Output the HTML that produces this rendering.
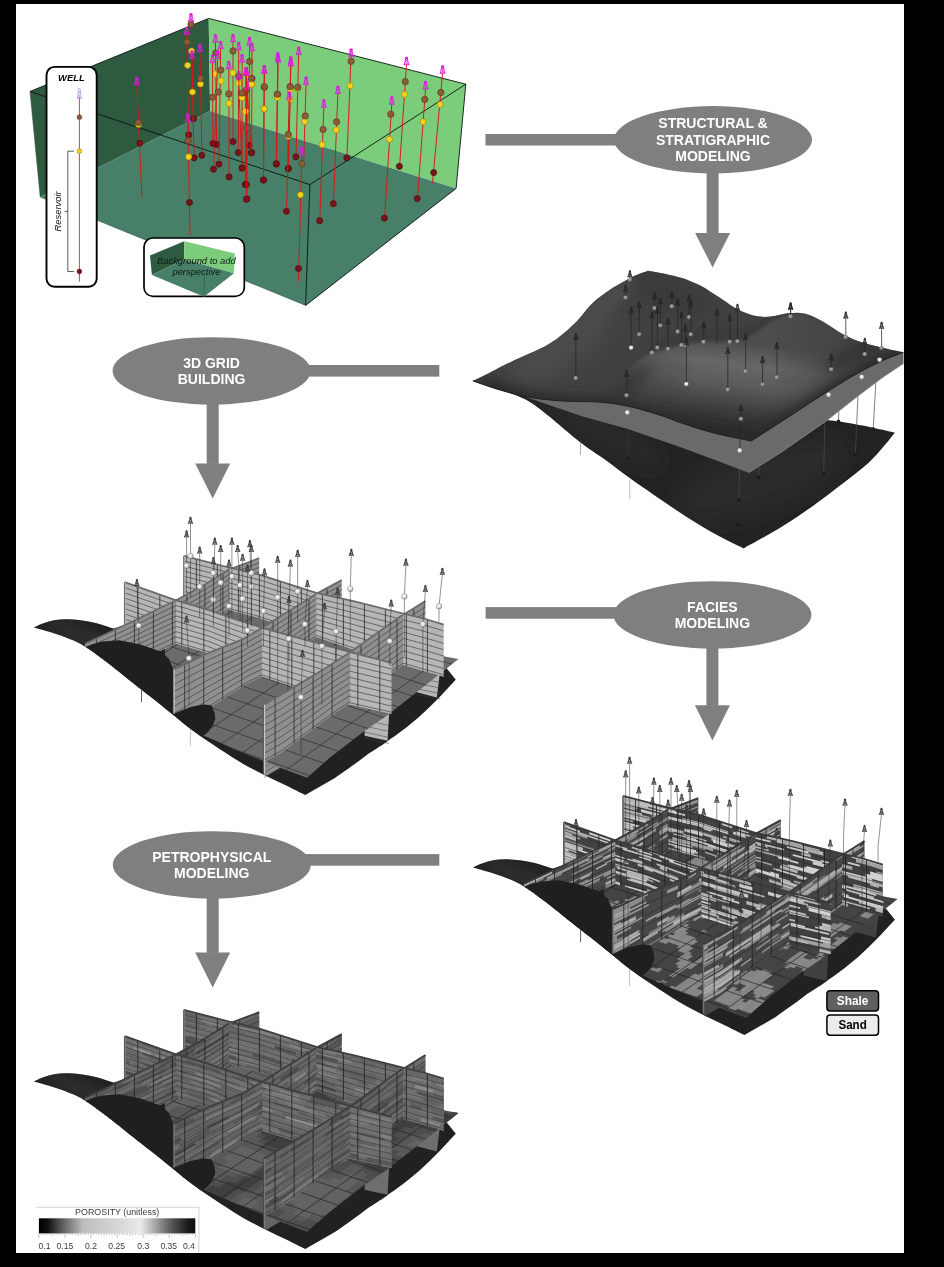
<!DOCTYPE html>
<html><head><meta charset="utf-8"><title>Reservoir modeling workflow</title>
<style>
html,body{margin:0;padding:0;background:#000;}
body{width:944px;height:1267px;overflow:hidden;font-family:"Liberation Sans",sans-serif;}
svg{display:block;will-change:transform;}
</style></head><body>
<svg width="944" height="1267" viewBox="0 0 944 1267" font-family="Liberation Sans, sans-serif">
<rect x="0" y="0" width="944" height="1267" fill="#000"/>
<defs><clipPath id="page"><rect x="16" y="4" width="888" height="1249"/></clipPath></defs>
<rect x="16" y="4" width="888" height="1249" fill="#fff"/>
<g clip-path="url(#page)">
<g id="greenbox">
<polygon points="30.0,91.5 208.7,18.4 210.1,111.1 40.2,197.0" fill="#2e5b40"/>
<polygon points="208.7,18.4 465.8,84.2 456.1,188.4 210.1,111.1" fill="#7bcd7b"/>
<polygon points="210.1,111.1 456.1,188.4 305.6,305.4 40.2,197.0" fill="#477f69"/>
<g fill="none" stroke="#0a140e" stroke-width="0.9" stroke-linejoin="round">
<polyline points="30.0,91.5 208.7,18.4 465.8,84.2 456.1,188.4 305.6,305.4"/>
<polyline points="30.0,91.5 309.9,184.6 465.8,84.2"/>
<polyline points="309.9,184.6 305.6,305.4"/>
<polyline points="305.6,305.4 40.2,197.0 30.0,91.5" stroke-width="0.5" stroke="#2a4a3a"/>
</g>
<defs><g id="dk"><path d="M-0.7,-3.4 L-2.2,3.4 M0.7,-3.4 L2.2,3.4 M-2.5,3.4 H2.5 M-1.9,3.4 L1.3,0 L-1.1,-1.8 M1.9,3.4 L-1.3,0 L1.1,-1.8 M-1.2,-3.6 H1.2" stroke-width="0.85" fill="none" stroke-linecap="round" stroke-linejoin="round"/><circle cx="0" cy="-3.1" r="0.9"/></g></defs>
<line x1="191.0" y1="20.6" x2="193.5" y2="122.2" stroke="#dc1414" stroke-width="0.95"/>
<circle cx="193.5" cy="118.7" r="3.1" fill="#7a1418" stroke="#3c080a" stroke-width="0.5"/>
<circle cx="191.6" cy="51.0" r="3.1" fill="#f2d21c" stroke="#8a7008" stroke-width="0.5"/>
<circle cx="191.0" cy="24.3" r="3.2" fill="#8d5a3a" stroke="#4a2c18" stroke-width="0.5"/>
<use href="#dk" x="191.0" y="17.6" stroke="#e018e0" fill="#e018e0"/>
<line x1="186.6" y1="34.0" x2="188.7" y2="138.4" stroke="#dc1414" stroke-width="0.95"/>
<circle cx="188.7" cy="134.9" r="3.1" fill="#7a1418" stroke="#3c080a" stroke-width="0.5"/>
<circle cx="187.6" cy="65.3" r="3.1" fill="#f2d21c" stroke="#8a7008" stroke-width="0.5"/>
<circle cx="187.2" cy="42.0" r="3.2" fill="#8d5a3a" stroke="#4a2c18" stroke-width="0.5"/>
<use href="#dk" x="186.6" y="31.0" stroke="#e018e0" fill="#e018e0"/>
<line x1="200.0" y1="51.1" x2="201.9" y2="158.8" stroke="#dc1414" stroke-width="0.95"/>
<circle cx="201.9" cy="155.3" r="3.1" fill="#7a1418" stroke="#3c080a" stroke-width="0.5"/>
<circle cx="200.5" cy="84.0" r="3.1" fill="#f2d21c" stroke="#8a7008" stroke-width="0.5"/>
<circle cx="200.5" cy="78.6" r="3.2" fill="#8d5a3a" stroke="#4a2c18" stroke-width="0.5"/>
<use href="#dk" x="200.0" y="48.1" stroke="#e018e0" fill="#e018e0"/>
<line x1="192.0" y1="57.8" x2="194.2" y2="161.3" stroke="#dc1414" stroke-width="0.95"/>
<circle cx="194.2" cy="157.8" r="3.1" fill="#7a1418" stroke="#3c080a" stroke-width="0.5"/>
<circle cx="192.5" cy="92.0" r="3.1" fill="#f2d21c" stroke="#8a7008" stroke-width="0.5"/>
<use href="#dk" x="192.0" y="54.8" stroke="#e018e0" fill="#e018e0"/>
<line x1="215.4" y1="41.6" x2="216.7" y2="147.9" stroke="#dc1414" stroke-width="0.95"/>
<circle cx="216.7" cy="144.4" r="3.1" fill="#7a1418" stroke="#3c080a" stroke-width="0.5"/>
<circle cx="215.4" cy="73.9" r="3.1" fill="#f2d21c" stroke="#8a7008" stroke-width="0.5"/>
<circle cx="215.8" cy="52.9" r="3.2" fill="#8d5a3a" stroke="#4a2c18" stroke-width="0.5"/>
<use href="#dk" x="215.4" y="38.6" stroke="#e018e0" fill="#e018e0"/>
<line x1="220.6" y1="48.3" x2="219.0" y2="167.6" stroke="#dc1414" stroke-width="0.95"/>
<circle cx="219.0" cy="164.1" r="3.1" fill="#7a1418" stroke="#3c080a" stroke-width="0.5"/>
<circle cx="221.1" cy="80.9" r="3.1" fill="#f2d21c" stroke="#8a7008" stroke-width="0.5"/>
<circle cx="220.9" cy="70.1" r="3.2" fill="#8d5a3a" stroke="#4a2c18" stroke-width="0.5"/>
<use href="#dk" x="220.6" y="45.3" stroke="#e018e0" fill="#e018e0"/>
<line x1="217.7" y1="57.8" x2="213.5" y2="172.7" stroke="#dc1414" stroke-width="0.95"/>
<circle cx="213.5" cy="169.2" r="3.1" fill="#7a1418" stroke="#3c080a" stroke-width="0.5"/>
<circle cx="218.3" cy="92.0" r="3.2" fill="#8d5a3a" stroke="#4a2c18" stroke-width="0.5"/>
<use href="#dk" x="217.7" y="54.8" stroke="#e018e0" fill="#e018e0"/>
<line x1="212.5" y1="62.2" x2="212.9" y2="147.0" stroke="#dc1414" stroke-width="0.95"/>
<circle cx="212.9" cy="143.5" r="3.1" fill="#7a1418" stroke="#3c080a" stroke-width="0.5"/>
<circle cx="212.5" cy="97.3" r="3.2" fill="#8d5a3a" stroke="#4a2c18" stroke-width="0.5"/>
<use href="#dk" x="212.5" y="59.2" stroke="#e018e0" fill="#e018e0"/>
<line x1="233.0" y1="41.2" x2="233.0" y2="145.1" stroke="#dc1414" stroke-width="0.95"/>
<circle cx="233.0" cy="141.6" r="3.1" fill="#7a1418" stroke="#3c080a" stroke-width="0.5"/>
<circle cx="233.0" cy="72.9" r="3.1" fill="#f2d21c" stroke="#8a7008" stroke-width="0.5"/>
<circle cx="233.0" cy="51.0" r="3.2" fill="#8d5a3a" stroke="#4a2c18" stroke-width="0.5"/>
<use href="#dk" x="233.0" y="38.2" stroke="#e018e0" fill="#e018e0"/>
<line x1="238.7" y1="49.2" x2="238.3" y2="156.1" stroke="#dc1414" stroke-width="0.95"/>
<circle cx="238.3" cy="152.6" r="3.1" fill="#7a1418" stroke="#3c080a" stroke-width="0.5"/>
<circle cx="238.7" cy="83.4" r="3.1" fill="#f2d21c" stroke="#8a7008" stroke-width="0.5"/>
<circle cx="238.7" cy="76.4" r="3.2" fill="#8d5a3a" stroke="#4a2c18" stroke-width="0.5"/>
<use href="#dk" x="238.7" y="46.2" stroke="#e018e0" fill="#e018e0"/>
<line x1="228.8" y1="68.3" x2="229.1" y2="180.4" stroke="#dc1414" stroke-width="0.95"/>
<circle cx="229.1" cy="176.9" r="3.1" fill="#7a1418" stroke="#3c080a" stroke-width="0.5"/>
<circle cx="229.1" cy="103.4" r="3.1" fill="#f2d21c" stroke="#8a7008" stroke-width="0.5"/>
<circle cx="228.8" cy="93.9" r="3.2" fill="#8d5a3a" stroke="#4a2c18" stroke-width="0.5"/>
<use href="#dk" x="228.8" y="65.3" stroke="#e018e0" fill="#e018e0"/>
<line x1="242.1" y1="61.6" x2="242.1" y2="171.4" stroke="#dc1414" stroke-width="0.95"/>
<circle cx="242.1" cy="167.9" r="3.1" fill="#7a1418" stroke="#3c080a" stroke-width="0.5"/>
<circle cx="242.5" cy="97.7" r="3.1" fill="#f2d21c" stroke="#8a7008" stroke-width="0.5"/>
<circle cx="242.1" cy="95.4" r="3.2" fill="#8d5a3a" stroke="#4a2c18" stroke-width="0.5"/>
<use href="#dk" x="242.1" y="58.6" stroke="#e018e0" fill="#e018e0"/>
<line x1="249.5" y1="44.5" x2="249.2" y2="148.9" stroke="#dc1414" stroke-width="0.95"/>
<circle cx="249.2" cy="145.4" r="3.1" fill="#7a1418" stroke="#3c080a" stroke-width="0.5"/>
<circle cx="249.2" cy="76.7" r="3.1" fill="#f2d21c" stroke="#8a7008" stroke-width="0.5"/>
<circle cx="249.5" cy="61.5" r="3.2" fill="#8d5a3a" stroke="#4a2c18" stroke-width="0.5"/>
<use href="#dk" x="249.5" y="41.5" stroke="#e018e0" fill="#e018e0"/>
<line x1="252.0" y1="50.2" x2="251.6" y2="156.1" stroke="#dc1414" stroke-width="0.95"/>
<circle cx="251.6" cy="152.6" r="3.1" fill="#7a1418" stroke="#3c080a" stroke-width="0.5"/>
<circle cx="252.0" cy="84.4" r="3.1" fill="#f2d21c" stroke="#8a7008" stroke-width="0.5"/>
<circle cx="252.0" cy="78.6" r="3.2" fill="#8d5a3a" stroke="#4a2c18" stroke-width="0.5"/>
<use href="#dk" x="252.0" y="47.2" stroke="#e018e0" fill="#e018e0"/>
<line x1="245.9" y1="75.0" x2="245.3" y2="188.0" stroke="#dc1414" stroke-width="0.95"/>
<circle cx="245.3" cy="184.5" r="3.1" fill="#7a1418" stroke="#3c080a" stroke-width="0.5"/>
<circle cx="245.9" cy="111.4" r="3.1" fill="#f2d21c" stroke="#8a7008" stroke-width="0.5"/>
<circle cx="246.3" cy="90.1" r="3.2" fill="#8d5a3a" stroke="#4a2c18" stroke-width="0.5"/>
<use href="#dk" x="245.9" y="72.0" stroke="#e018e0" fill="#e018e0"/>
<line x1="247.3" y1="88.3" x2="246.9" y2="202.3" stroke="#dc1414" stroke-width="0.95"/>
<circle cx="246.9" cy="198.8" r="3.1" fill="#7a1418" stroke="#3c080a" stroke-width="0.5"/>
<circle cx="247.3" cy="128.2" r="3.2" fill="#8d5a3a" stroke="#4a2c18" stroke-width="0.5"/>
<use href="#dk" x="247.3" y="85.3" stroke="#e018e0" fill="#e018e0"/>
<line x1="264.4" y1="72.5" x2="263.5" y2="183.6" stroke="#dc1414" stroke-width="0.95"/>
<circle cx="263.5" cy="180.1" r="3.1" fill="#7a1418" stroke="#3c080a" stroke-width="0.5"/>
<circle cx="264.0" cy="108.8" r="3.1" fill="#f2d21c" stroke="#8a7008" stroke-width="0.5"/>
<circle cx="264.4" cy="87.2" r="3.2" fill="#8d5a3a" stroke="#4a2c18" stroke-width="0.5"/>
<use href="#dk" x="264.4" y="69.5" stroke="#e018e0" fill="#e018e0"/>
<line x1="277.8" y1="59.7" x2="276.2" y2="167.6" stroke="#dc1414" stroke-width="0.95"/>
<circle cx="276.2" cy="164.1" r="3.1" fill="#7a1418" stroke="#3c080a" stroke-width="0.5"/>
<circle cx="277.4" cy="96.8" r="3.1" fill="#f2d21c" stroke="#8a7008" stroke-width="0.5"/>
<circle cx="277.4" cy="94.5" r="3.2" fill="#8d5a3a" stroke="#4a2c18" stroke-width="0.5"/>
<use href="#dk" x="277.8" y="56.7" stroke="#e018e0" fill="#e018e0"/>
<line x1="290.7" y1="63.5" x2="288.3" y2="171.8" stroke="#dc1414" stroke-width="0.95"/>
<circle cx="288.3" cy="168.3" r="3.1" fill="#7a1418" stroke="#3c080a" stroke-width="0.5"/>
<circle cx="290.2" cy="99.6" r="3.1" fill="#f2d21c" stroke="#8a7008" stroke-width="0.5"/>
<circle cx="290.2" cy="86.8" r="3.2" fill="#8d5a3a" stroke="#4a2c18" stroke-width="0.5"/>
<use href="#dk" x="290.7" y="60.5" stroke="#e018e0" fill="#e018e0"/>
<line x1="298.7" y1="54.0" x2="295.9" y2="160.3" stroke="#dc1414" stroke-width="0.95"/>
<circle cx="295.9" cy="156.8" r="3.1" fill="#7a1418" stroke="#3c080a" stroke-width="0.5"/>
<circle cx="297.8" cy="88.6" r="3.1" fill="#f2d21c" stroke="#8a7008" stroke-width="0.5"/>
<circle cx="297.8" cy="87.2" r="3.2" fill="#8d5a3a" stroke="#4a2c18" stroke-width="0.5"/>
<use href="#dk" x="298.7" y="51.0" stroke="#e018e0" fill="#e018e0"/>
<line x1="136.8" y1="84.4" x2="141.9" y2="197.0" stroke="#dc1414" stroke-width="0.95"/>
<circle cx="139.8" cy="143.2" r="3.1" fill="#7a1418" stroke="#3c080a" stroke-width="0.5"/>
<circle cx="138.5" cy="124.5" r="3.1" fill="#f2d21c" stroke="#8a7008" stroke-width="0.5"/>
<circle cx="138.5" cy="122.5" r="3.2" fill="#8d5a3a" stroke="#4a2c18" stroke-width="0.5"/>
<use href="#dk" x="136.8" y="81.4" stroke="#e018e0" fill="#e018e0"/>
<line x1="187.8" y1="120.7" x2="190.0" y2="235.0" stroke="#dc1414" stroke-width="0.95"/>
<circle cx="189.5" cy="202.5" r="3.1" fill="#7a1418" stroke="#3c080a" stroke-width="0.5"/>
<circle cx="188.7" cy="156.8" r="3.1" fill="#f2d21c" stroke="#8a7008" stroke-width="0.5"/>
<circle cx="188.1" cy="140.6" r="3.2" fill="#8d5a3a" stroke="#4a2c18" stroke-width="0.5"/>
<use href="#dk" x="187.8" y="117.7" stroke="#e018e0" fill="#e018e0"/>
<line x1="264.2" y1="72.7" x2="263.4" y2="183.5" stroke="#dc1414" stroke-width="0.95"/>
<circle cx="263.4" cy="180.0" r="3.1" fill="#7a1418" stroke="#3c080a" stroke-width="0.5"/>
<circle cx="264.2" cy="108.8" r="3.1" fill="#f2d21c" stroke="#8a7008" stroke-width="0.5"/>
<circle cx="264.2" cy="86.7" r="3.2" fill="#8d5a3a" stroke="#4a2c18" stroke-width="0.5"/>
<use href="#dk" x="264.2" y="69.7" stroke="#e018e0" fill="#e018e0"/>
<line x1="278.1" y1="61.7" x2="276.4" y2="167.2" stroke="#dc1414" stroke-width="0.95"/>
<circle cx="276.4" cy="163.7" r="3.1" fill="#7a1418" stroke="#3c080a" stroke-width="0.5"/>
<circle cx="277.4" cy="97.4" r="3.1" fill="#f2d21c" stroke="#8a7008" stroke-width="0.5"/>
<circle cx="277.4" cy="94.3" r="3.2" fill="#8d5a3a" stroke="#4a2c18" stroke-width="0.5"/>
<use href="#dk" x="278.1" y="58.7" stroke="#e018e0" fill="#e018e0"/>
<line x1="290.9" y1="65.5" x2="288.3" y2="172.3" stroke="#dc1414" stroke-width="0.95"/>
<circle cx="288.3" cy="168.8" r="3.1" fill="#7a1418" stroke="#3c080a" stroke-width="0.5"/>
<circle cx="290.1" cy="90.0" r="3.1" fill="#f2d21c" stroke="#8a7008" stroke-width="0.5"/>
<circle cx="290.1" cy="86.7" r="3.2" fill="#8d5a3a" stroke="#4a2c18" stroke-width="0.5"/>
<use href="#dk" x="290.9" y="62.5" stroke="#e018e0" fill="#e018e0"/>
<line x1="306.1" y1="83.8" x2="303.6" y2="163.0" stroke="#dc1414" stroke-width="0.95"/>
<circle cx="304.8" cy="121.5" r="3.1" fill="#f2d21c" stroke="#8a7008" stroke-width="0.5"/>
<circle cx="305.3" cy="115.9" r="3.2" fill="#8d5a3a" stroke="#4a2c18" stroke-width="0.5"/>
<use href="#dk" x="306.1" y="80.8" stroke="#e018e0" fill="#e018e0"/>
<line x1="289.1" y1="98.6" x2="286.5" y2="214.8" stroke="#dc1414" stroke-width="0.95"/>
<circle cx="286.5" cy="211.3" r="3.1" fill="#7a1418" stroke="#3c080a" stroke-width="0.5"/>
<circle cx="288.3" cy="136.3" r="3.1" fill="#f2d21c" stroke="#8a7008" stroke-width="0.5"/>
<circle cx="288.3" cy="134.5" r="3.2" fill="#8d5a3a" stroke="#4a2c18" stroke-width="0.5"/>
<use href="#dk" x="289.1" y="95.6" stroke="#e018e0" fill="#e018e0"/>
<line x1="323.9" y1="106.7" x2="319.6" y2="224.2" stroke="#dc1414" stroke-width="0.95"/>
<circle cx="319.6" cy="220.7" r="3.1" fill="#7a1418" stroke="#3c080a" stroke-width="0.5"/>
<circle cx="322.1" cy="144.7" r="3.1" fill="#f2d21c" stroke="#8a7008" stroke-width="0.5"/>
<circle cx="323.1" cy="129.4" r="3.2" fill="#8d5a3a" stroke="#4a2c18" stroke-width="0.5"/>
<use href="#dk" x="323.9" y="103.7" stroke="#e018e0" fill="#e018e0"/>
<line x1="337.9" y1="93.0" x2="333.3" y2="207.2" stroke="#dc1414" stroke-width="0.95"/>
<circle cx="333.3" cy="203.7" r="3.1" fill="#7a1418" stroke="#3c080a" stroke-width="0.5"/>
<circle cx="336.1" cy="129.9" r="3.1" fill="#f2d21c" stroke="#8a7008" stroke-width="0.5"/>
<circle cx="336.6" cy="121.8" r="3.2" fill="#8d5a3a" stroke="#4a2c18" stroke-width="0.5"/>
<use href="#dk" x="337.9" y="90.0" stroke="#e018e0" fill="#e018e0"/>
<line x1="351.1" y1="55.9" x2="346.8" y2="161.4" stroke="#dc1414" stroke-width="0.95"/>
<circle cx="346.8" cy="157.9" r="3.1" fill="#7a1418" stroke="#3c080a" stroke-width="0.5"/>
<circle cx="350.1" cy="85.9" r="3.1" fill="#f2d21c" stroke="#8a7008" stroke-width="0.5"/>
<circle cx="351.1" cy="61.3" r="3.2" fill="#8d5a3a" stroke="#4a2c18" stroke-width="0.5"/>
<use href="#dk" x="351.1" y="52.9" stroke="#e018e0" fill="#e018e0"/>
<line x1="301.8" y1="154.5" x2="298.5" y2="281.2" stroke="#dc1414" stroke-width="0.95"/>
<circle cx="298.5" cy="268.5" r="3.1" fill="#7a1418" stroke="#3c080a" stroke-width="0.5"/>
<circle cx="300.5" cy="194.8" r="3.1" fill="#f2d21c" stroke="#8a7008" stroke-width="0.5"/>
<circle cx="301.8" cy="163.7" r="3.2" fill="#8d5a3a" stroke="#4a2c18" stroke-width="0.5"/>
<use href="#dk" x="301.8" y="151.5" stroke="#e018e0" fill="#e018e0"/>
<line x1="391.8" y1="103.7" x2="384.4" y2="221.6" stroke="#dc1414" stroke-width="0.95"/>
<circle cx="384.4" cy="218.1" r="3.1" fill="#7a1418" stroke="#3c080a" stroke-width="0.5"/>
<circle cx="389.5" cy="139.3" r="3.1" fill="#f2d21c" stroke="#8a7008" stroke-width="0.5"/>
<circle cx="390.8" cy="114.2" r="3.2" fill="#8d5a3a" stroke="#4a2c18" stroke-width="0.5"/>
<use href="#dk" x="391.8" y="100.7" stroke="#e018e0" fill="#e018e0"/>
<line x1="406.5" y1="64.3" x2="399.4" y2="169.8" stroke="#dc1414" stroke-width="0.95"/>
<circle cx="399.4" cy="166.3" r="3.1" fill="#7a1418" stroke="#3c080a" stroke-width="0.5"/>
<circle cx="404.5" cy="94.3" r="3.1" fill="#f2d21c" stroke="#8a7008" stroke-width="0.5"/>
<circle cx="405.3" cy="81.6" r="3.2" fill="#8d5a3a" stroke="#4a2c18" stroke-width="0.5"/>
<use href="#dk" x="406.5" y="61.3" stroke="#e018e0" fill="#e018e0"/>
<line x1="425.6" y1="88.4" x2="417.2" y2="202.1" stroke="#dc1414" stroke-width="0.95"/>
<circle cx="417.2" cy="198.6" r="3.1" fill="#7a1418" stroke="#3c080a" stroke-width="0.5"/>
<circle cx="423.1" cy="121.8" r="3.1" fill="#f2d21c" stroke="#8a7008" stroke-width="0.5"/>
<circle cx="424.8" cy="99.4" r="3.2" fill="#8d5a3a" stroke="#4a2c18" stroke-width="0.5"/>
<use href="#dk" x="425.6" y="85.4" stroke="#e018e0" fill="#e018e0"/>
<line x1="442.6" y1="72.7" x2="432.5" y2="183.3" stroke="#dc1414" stroke-width="0.95"/>
<circle cx="433.7" cy="172.6" r="3.1" fill="#7a1418" stroke="#3c080a" stroke-width="0.5"/>
<circle cx="440.1" cy="104.5" r="3.1" fill="#f2d21c" stroke="#8a7008" stroke-width="0.5"/>
<circle cx="440.9" cy="92.5" r="3.2" fill="#8d5a3a" stroke="#4a2c18" stroke-width="0.5"/>
<use href="#dk" x="442.6" y="69.7" stroke="#e018e0" fill="#e018e0"/>
<line x1="246.4" y1="74.4" x2="251.4" y2="156.3" stroke="#dc1414" stroke-width="0.95"/>
<circle cx="251.4" cy="152.8" r="3.1" fill="#7a1418" stroke="#3c080a" stroke-width="0.5"/>
<circle cx="251.4" cy="84.2" r="3.1" fill="#f2d21c" stroke="#8a7008" stroke-width="0.5"/>
<circle cx="251.4" cy="78.3" r="3.2" fill="#8d5a3a" stroke="#4a2c18" stroke-width="0.5"/>
<use href="#dk" x="246.4" y="71.4" stroke="#e018e0" fill="#e018e0"/>
<line x1="247.1" y1="88.4" x2="246.4" y2="188.1" stroke="#dc1414" stroke-width="0.95"/>
<circle cx="246.4" cy="184.6" r="3.1" fill="#7a1418" stroke="#3c080a" stroke-width="0.5"/>
<circle cx="245.6" cy="111.4" r="3.1" fill="#f2d21c" stroke="#8a7008" stroke-width="0.5"/>
<circle cx="247.1" cy="128.1" r="3.2" fill="#8d5a3a" stroke="#4a2c18" stroke-width="0.5"/>
<use href="#dk" x="247.1" y="85.4" stroke="#e018e0" fill="#e018e0"/>
<line x1="238.7" y1="78.3" x2="242.0" y2="171.6" stroke="#dc1414" stroke-width="0.95"/>
<circle cx="242.0" cy="168.1" r="3.1" fill="#7a1418" stroke="#3c080a" stroke-width="0.5"/>
<circle cx="242.0" cy="97.6" r="3.1" fill="#f2d21c" stroke="#8a7008" stroke-width="0.5"/>
<circle cx="242.0" cy="93.1" r="3.2" fill="#8d5a3a" stroke="#4a2c18" stroke-width="0.5"/>
<use href="#dk" x="238.7" y="75.3" stroke="#e018e0" fill="#e018e0"/>
<line x1="246.4" y1="74.4" x2="246.4" y2="202.8" stroke="#dc1414" stroke-width="0.95"/>
<circle cx="246.4" cy="199.3" r="3.1" fill="#7a1418" stroke="#3c080a" stroke-width="0.5"/>
<use href="#dk" x="246.4" y="71.4" stroke="#e018e0" fill="#e018e0"/>
</g>
<rect x="46.5" y="66.9" width="50.2" height="219.8" rx="8" ry="8" fill="#fff" stroke="#000" stroke-width="1.9"/>
<text x="71.4" y="80.6" text-anchor="middle" font-weight="700" font-style="italic" font-size="9.4" fill="#000">WELL</text>
<line x1="79.4" y1="97" x2="79.4" y2="281.6" stroke="#c04858" stroke-width="1"/>
<g transform="translate(79.4 93.6) scale(0.95 1.4)"><path d="M-0.7,-3.4 L-2.2,3.4 M0.7,-3.4 L2.2,3.4 M-2.5,3.4 H2.5 M-1.9,3.4 L1.3,0 L-1.1,-1.8 M1.9,3.4 L-1.3,0 L1.1,-1.8 M-1.2,-3.6 H1.2" stroke="#a88aee" stroke-width="0.55" fill="none"/></g>
<circle cx="79.4" cy="117.2" r="2.4" fill="#8d5a3a" stroke="#4a2c18" stroke-width="0.5"/>
<circle cx="79.4" cy="151.2" r="2.4" fill="#f2d21c" stroke="#8a7008" stroke-width="0.5"/>
<circle cx="79.4" cy="271.5" r="2.4" fill="#7a1418" stroke="#3c080a" stroke-width="0.5"/>
<path d="M74,151.2 H67.8 V271.5 H74 M67.8,211.4 H64.6" fill="none" stroke="#333" stroke-width="0.8"/>
<text transform="translate(61.3 211.4) rotate(-90)" text-anchor="middle" font-style="italic" font-size="9.4" fill="#111">Reservoir</text>
<rect x="144" y="238" width="100.3" height="58.4" rx="9" ry="9" fill="#fff" stroke="#000" stroke-width="1.7"/>
<polygon points="150.0,255.4 184.3,241.2 184.3,259.2 151.9,275.1" fill="#2e5b40"/>
<polygon points="184.3,241.2 234.9,253.5 233.9,273.2 184.3,259.2" fill="#7bcd7b"/>
<polygon points="151.9,275.1 184.3,259.2 233.9,273.2 204.0,296.7" fill="#477f69"/>
<line x1="204.6" y1="274.5" x2="204.0" y2="296.1" stroke="#2c5a44" stroke-width="0.6"/>
<text x="196.4" y="263.7" text-anchor="middle" font-style="italic" font-size="9.4" fill="#0c1a12">Background to add</text>
<text x="196.4" y="274.6" text-anchor="middle" font-style="italic" font-size="9.4" fill="#0c1a12">perspective</text>
<defs>
<clipPath id="topclip"><path d="M472.7,381.0 C475.6,379.6 483.6,375.7 490.0,372.5 C496.4,369.3 501.0,366.6 510.8,361.9 C520.6,357.1 538.4,350.4 549.0,344.0 C559.6,337.6 567.2,330.5 574.4,323.7 C581.6,316.9 585.9,309.3 592.2,303.4 C598.6,297.5 605.7,292.6 612.5,288.1 C619.3,283.7 627.0,279.6 632.9,276.7 C638.8,273.8 645.6,271.8 648.1,270.8 L663.4,273.4 C666.4,274.1 675.1,275.8 681.2,277.8 C687.4,279.8 693.7,282.2 700.3,285.6 C706.9,289.0 714.3,294.3 720.7,298.3 C727.1,302.3 732.6,306.8 738.5,309.8 C744.4,312.8 750.8,315.0 756.3,316.1 C761.8,317.2 766.0,317.1 771.5,316.6 C777.0,316.1 783.8,313.6 789.3,313.1 C794.8,312.6 799.1,312.2 804.6,313.6 C810.1,315.0 816.0,317.8 822.4,321.2 C828.8,324.6 835.9,330.3 842.7,333.9 C849.5,337.5 856.3,340.5 863.1,342.8 C869.9,345.1 876.7,346.3 883.4,347.9 C890.1,349.5 899.9,351.5 903.2,352.2 L903.2,352.4 C899.9,353.7 890.9,356.9 883.4,360.3 C875.9,363.7 866.5,368.3 858.0,373.0 C849.5,377.7 841.1,383.0 832.6,388.3 C824.1,393.6 815.6,399.3 807.1,404.8 C798.6,410.3 791.0,415.4 781.7,421.4 C772.4,427.4 756.3,437.7 751.2,441.0 L748.6,440.4 C742.7,439.1 724.4,435.8 713.0,432.8 C701.6,429.8 688.3,425.4 680.0,422.6 C671.7,419.9 671.2,418.8 663.4,416.3 C655.5,413.8 643.1,409.7 632.9,407.4 C622.7,405.1 614.3,403.4 602.4,402.3 C590.5,401.2 574.0,401.9 561.7,401.0 C549.4,400.1 538.9,399.0 528.6,397.2 C518.3,395.4 509.3,392.7 500.0,390.0 C490.7,387.3 477.2,382.4 472.7,380.9Z"/></clipPath>
<clipPath id="botclip"><path d="M472.7,380.7 C477.4,382.2 491.8,386.4 500.7,389.6 C509.6,392.8 518.1,395.4 526.1,399.8 C534.1,404.2 540.1,409.3 549.0,416.3 C557.9,423.3 570.2,434.5 579.5,441.7 C588.8,448.9 596.4,453.4 604.9,459.5 C613.4,465.6 622.3,472.8 630.4,478.6 C638.5,484.4 644.9,488.9 653.2,494.5 C661.5,500.1 670.5,506.3 680.0,512.5 C689.5,518.7 699.9,525.5 710.5,531.5 C721.1,537.5 738.1,545.6 743.6,548.4 L743.6,548.4 C750.0,544.8 770.3,533.8 781.7,526.8 C793.1,519.8 802.0,513.6 812.2,506.4 C822.4,499.2 833.4,490.8 842.7,483.6 C852.0,476.4 861.2,469.5 868.1,463.2 C875.0,456.9 879.5,451.1 884.0,446.0 C888.5,440.9 893.0,434.9 894.8,432.7 L894.8,432.7 C891.2,431.9 881.5,429.4 873.2,427.7 C865.0,426.0 852.9,423.9 845.3,422.6 C837.7,421.3 830.5,420.5 827.5,420.1 L700.0,395.0 Z"/></clipPath>
<filter id="bl6" x="-50%" y="-50%" width="200%" height="200%"><feGaussianBlur stdDeviation="6"/></filter>
<filter id="bl10" x="-50%" y="-50%" width="200%" height="200%"><feGaussianBlur stdDeviation="10"/></filter>
<filter id="bl3" x="-50%" y="-50%" width="200%" height="200%"><feGaussianBlur stdDeviation="3"/></filter>
<filter id="bl15" x="-50%" y="-50%" width="200%" height="200%"><feGaussianBlur stdDeviation="1.5"/></filter>
<radialGradient id="sph" cx="0.4" cy="0.35" r="0.7"><stop offset="0" stop-color="#fff"/><stop offset="0.6" stop-color="#d8d8d8"/><stop offset="1" stop-color="#888"/></radialGradient>
<radialGradient id="sphg" cx="0.4" cy="0.35" r="0.7"><stop offset="0" stop-color="#b0b0b0"/><stop offset="0.7" stop-color="#7c7c7c"/><stop offset="1" stop-color="#4a4a4a"/></radialGradient>
</defs>
<g id="surf">
<path d="M472.7,380.7 C477.4,382.2 491.8,386.4 500.7,389.6 C509.6,392.8 518.1,395.4 526.1,399.8 C534.1,404.2 540.1,409.3 549.0,416.3 C557.9,423.3 570.2,434.5 579.5,441.7 C588.8,448.9 596.4,453.4 604.9,459.5 C613.4,465.6 622.3,472.8 630.4,478.6 C638.5,484.4 644.9,488.9 653.2,494.5 C661.5,500.1 670.5,506.3 680.0,512.5 C689.5,518.7 699.9,525.5 710.5,531.5 C721.1,537.5 738.1,545.6 743.6,548.4 L743.6,548.4 C750.0,544.8 770.3,533.8 781.7,526.8 C793.1,519.8 802.0,513.6 812.2,506.4 C822.4,499.2 833.4,490.8 842.7,483.6 C852.0,476.4 861.2,469.5 868.1,463.2 C875.0,456.9 879.5,451.1 884.0,446.0 C888.5,440.9 893.0,434.9 894.8,432.7 L894.8,432.7 C891.2,431.9 881.5,429.4 873.2,427.7 C865.0,426.0 852.9,423.9 845.3,422.6 C837.7,421.3 830.5,420.5 827.5,420.1 L700.0,395.0 Z" fill="#232323"/>
<g clip-path="url(#botclip)">
<ellipse cx="760" cy="480" rx="90" ry="30" fill="#2c2c2c" filter="url(#bl10)" transform="rotate(-20 760 480)"/>
<ellipse cx="600" cy="430" rx="70" ry="14" fill="#292929" filter="url(#bl10)" transform="rotate(30 600 430)"/>
</g>
<line x1="739.8" y1="451.9" x2="739.0" y2="499.9" stroke="#4a4a4a" stroke-width="0.7"/>
<circle cx="739.0" cy="499.9" r="1.8" fill="#1a1a1a"/>
<line x1="824.9" y1="418.8" x2="823.7" y2="473.5" stroke="#4a4a4a" stroke-width="0.7"/>
<circle cx="823.7" cy="473.5" r="1.8" fill="#1a1a1a"/>
<line x1="858.0" y1="394.7" x2="855.4" y2="454.4" stroke="#4a4a4a" stroke-width="0.7"/>
<circle cx="855.4" cy="454.4" r="1.8" fill="#1a1a1a"/>
<line x1="875.8" y1="383.2" x2="873.2" y2="429.0" stroke="#4a4a4a" stroke-width="0.7"/>
<circle cx="873.2" cy="429.0" r="1.8" fill="#1a1a1a"/>
<line x1="838.9" y1="411.2" x2="838.4" y2="421.4" stroke="#4a4a4a" stroke-width="0.7"/>
<circle cx="838.4" cy="421.4" r="1.8" fill="#1a1a1a"/>
<line x1="758.8" y1="467.1" x2="758.8" y2="477.3" stroke="#4a4a4a" stroke-width="0.7"/>
<circle cx="758.8" cy="477.3" r="1.8" fill="#1a1a1a"/>
<line x1="628" y1="430" x2="628.5" y2="458" stroke="#3a3a3a" stroke-width="0.7"/>
<circle cx="628.5" cy="458.5" r="2" fill="#1b1b1b"/><circle cx="738" cy="524.5" r="2" fill="#1a1a1a"/>
<line x1="580.5" y1="443" x2="580.5" y2="455" stroke="#999" stroke-width="0.8"/>
<line x1="629.8" y1="479" x2="629.8" y2="499" stroke="#bbb" stroke-width="0.9"/>
<polygon points="500.0,389.0 528.6,398.0 582.0,416.3 627.8,429.0 680.0,447.0 715.0,460.0 748.6,472.7 781.7,451.9 827.5,420.1 858.0,396.0 883.4,376.9 903.5,363.6 903.5,352.0 700.0,400.0" fill="#6a6a6a"/>
<polyline points="748.6,472.7 781.7,451.9 827.5,420.1 858.0,396.0 883.4,376.9 903.5,363.6" fill="none" stroke="#8a8a8a" stroke-width="0.8"/>
<path d="M472.7,381.0 C475.6,379.6 483.6,375.7 490.0,372.5 C496.4,369.3 501.0,366.6 510.8,361.9 C520.6,357.1 538.4,350.4 549.0,344.0 C559.6,337.6 567.2,330.5 574.4,323.7 C581.6,316.9 585.9,309.3 592.2,303.4 C598.6,297.5 605.7,292.6 612.5,288.1 C619.3,283.7 627.0,279.6 632.9,276.7 C638.8,273.8 645.6,271.8 648.1,270.8 L663.4,273.4 C666.4,274.1 675.1,275.8 681.2,277.8 C687.4,279.8 693.7,282.2 700.3,285.6 C706.9,289.0 714.3,294.3 720.7,298.3 C727.1,302.3 732.6,306.8 738.5,309.8 C744.4,312.8 750.8,315.0 756.3,316.1 C761.8,317.2 766.0,317.1 771.5,316.6 C777.0,316.1 783.8,313.6 789.3,313.1 C794.8,312.6 799.1,312.2 804.6,313.6 C810.1,315.0 816.0,317.8 822.4,321.2 C828.8,324.6 835.9,330.3 842.7,333.9 C849.5,337.5 856.3,340.5 863.1,342.8 C869.9,345.1 876.7,346.3 883.4,347.9 C890.1,349.5 899.9,351.5 903.2,352.2 L903.2,352.4 C899.9,353.7 890.9,356.9 883.4,360.3 C875.9,363.7 866.5,368.3 858.0,373.0 C849.5,377.7 841.1,383.0 832.6,388.3 C824.1,393.6 815.6,399.3 807.1,404.8 C798.6,410.3 791.0,415.4 781.7,421.4 C772.4,427.4 756.3,437.7 751.2,441.0 L748.6,440.4 C742.7,439.1 724.4,435.8 713.0,432.8 C701.6,429.8 688.3,425.4 680.0,422.6 C671.7,419.9 671.2,418.8 663.4,416.3 C655.5,413.8 643.1,409.7 632.9,407.4 C622.7,405.1 614.3,403.4 602.4,402.3 C590.5,401.2 574.0,401.9 561.7,401.0 C549.4,400.1 538.9,399.0 528.6,397.2 C518.3,395.4 509.3,392.7 500.0,390.0 C490.7,387.3 477.2,382.4 472.7,380.9Z" fill="#414141"/>
<g clip-path="url(#topclip)">
<ellipse cx="560" cy="345" rx="60" ry="22" fill="#4b4b4b" filter="url(#bl10)" transform="rotate(-35 560 345)"/>
<ellipse cx="665" cy="292" rx="50" ry="18" fill="#3b3b3b" filter="url(#bl10)" transform="rotate(20 665 292)"/>
<ellipse cx="610" cy="300" rx="30" ry="8" fill="#4e4e4e" filter="url(#bl6)" transform="rotate(-38 610 300)"/>
<path d="M655,345 C680,336 700,334 730,334 S760,320 790,312" fill="none" stroke="#3a3a3a" stroke-width="10" filter="url(#bl3)"/>
<defs><linearGradient id="litg" gradientUnits="userSpaceOnUse" x1="700" y1="338" x2="690" y2="425"><stop offset="0" stop-color="#4e4e4e"/><stop offset="0.25" stop-color="#676767"/><stop offset="0.5" stop-color="#5a5a5a"/><stop offset="0.8" stop-color="#3a3a3a"/><stop offset="1" stop-color="#2b2b2b"/></linearGradient><linearGradient id="fadeh" gradientUnits="userSpaceOnUse" x1="600" y1="0" x2="880" y2="0"><stop offset="0" stop-color="#000"/><stop offset="0.18" stop-color="#999"/><stop offset="0.35" stop-color="#fff"/><stop offset="0.6" stop-color="#fff"/><stop offset="0.8" stop-color="#777"/><stop offset="1" stop-color="#000"/></linearGradient><mask id="litm"><rect x="590" y="300" width="300" height="160" fill="url(#fadeh)"/></mask></defs>
<g mask="url(#litm)"><polygon points="618.0,380.0 624.8,371.9 636.3,361.7 649.0,354.6 666.8,349.0 682.0,345.2 702.4,341.9 722.7,341.9 738.0,341.2 753.2,335.0 771.0,321.5 783.7,315.6 800.0,313.5 822.0,321.0 845.0,335.0 860.0,372.0 782.0,424.0 751.2,444.0 713.0,436.0 663.0,420.0 633.0,411.0 600.0,404.0" fill="url(#litg)" filter="url(#bl15)"/></g>
<ellipse cx="628" cy="385" rx="26" ry="7" fill="#363636" filter="url(#bl6)" transform="rotate(-40 628 385)" opacity="0.8"/>
<polyline points="480.0,384.0 528.6,399.0 561.7,403.0 602.4,405.0 632.9,410.0 663.4,419.0 713.0,436.0 751.0,444.0 782.0,424.0 832.0,391.0 883.0,362.0 906.0,352.0" fill="none" stroke="#2b2b2b" stroke-width="16" filter="url(#bl6)"/>
<ellipse cx="860" cy="352" rx="40" ry="9" fill="#363636" filter="url(#bl6)" transform="rotate(-25 860 352)"/>
</g>
<path d="M903.2,352.4 C899.9,353.7 890.9,356.9 883.4,360.3 C875.9,363.7 866.5,368.3 858.0,373.0 C849.5,377.7 841.1,383.0 832.6,388.3 C824.1,393.6 815.6,399.3 807.1,404.8 C798.6,410.3 791.0,415.4 781.7,421.4 C772.4,427.4 756.3,437.7 751.2,441.0 L748.6,440.4 C742.7,439.1 724.4,435.8 713.0,432.8 C701.6,429.8 688.3,425.4 680.0,422.6 C671.7,419.9 671.2,418.8 663.4,416.3 C655.5,413.8 643.1,409.7 632.9,407.4 C622.7,405.1 614.3,403.4 602.4,402.3 C590.5,401.2 574.0,401.9 561.7,401.0 C549.4,400.1 538.9,399.0 528.6,397.2 C518.3,395.4 509.3,392.7 500.0,390.0 C490.7,387.3 477.2,382.4 472.7,380.9" fill="none" stroke="#1c1c1c" stroke-width="0.9"/>
<defs><g id="dk2"><path d="M-0.5,-2 L-1.9,2.6 M0.5,-2 L1.9,2.6 M-2.2,2.7 H2.2 M-1.7,2.6 L1.1,0 L-0.8,-1.4 M1.7,2.6 L-1.1,0 L0.8,-1.4 M-1.3,0.9 H1.3" stroke-width="0.75" fill="none" stroke-linecap="round"/><circle cx="0" cy="-2.7" r="1.1" stroke="none"/></g></defs>
<line x1="629.9" y1="276.0" x2="629.9" y2="279.8" stroke="#262626" stroke-width="0.75"/>
<circle cx="629.9" cy="279.8" r="2.2" fill="url(#sphg)"/>
<use href="#dk2" x="629.9" y="274.0" stroke="#262626" fill="#262626"/>
<line x1="625.6" y1="290.5" x2="625.6" y2="297.6" stroke="#262626" stroke-width="0.75"/>
<circle cx="625.6" cy="297.6" r="2.2" fill="url(#sphg)"/>
<use href="#dk2" x="625.6" y="288.5" stroke="#262626" fill="#262626"/>
<line x1="575.8" y1="338.8" x2="575.8" y2="378.2" stroke="#262626" stroke-width="0.75"/>
<circle cx="575.8" cy="378.2" r="2.2" fill="url(#sphg)"/>
<use href="#dk2" x="575.8" y="336.8" stroke="#262626" fill="#262626"/>
<line x1="631.2" y1="312.1" x2="631.2" y2="347.7" stroke="#262626" stroke-width="0.75"/>
<circle cx="631.2" cy="347.7" r="2.2" fill="url(#sph)"/>
<use href="#dk2" x="631.2" y="310.1" stroke="#262626" fill="#262626"/>
<line x1="639.3" y1="307.0" x2="639.3" y2="334.5" stroke="#262626" stroke-width="0.75"/>
<circle cx="639.3" cy="334.5" r="2.2" fill="url(#sphg)"/>
<use href="#dk2" x="639.3" y="305.0" stroke="#262626" fill="#262626"/>
<line x1="654.6" y1="298.1" x2="654.6" y2="308.3" stroke="#262626" stroke-width="0.75"/>
<circle cx="654.6" cy="308.3" r="2.2" fill="url(#sphg)"/>
<use href="#dk2" x="654.6" y="296.1" stroke="#262626" fill="#262626"/>
<line x1="660.4" y1="303.2" x2="660.4" y2="325.6" stroke="#262626" stroke-width="0.75"/>
<circle cx="660.4" cy="325.6" r="2.2" fill="url(#sphg)"/>
<use href="#dk2" x="660.4" y="301.2" stroke="#262626" fill="#262626"/>
<line x1="652.0" y1="317.2" x2="652.0" y2="352.8" stroke="#262626" stroke-width="0.75"/>
<circle cx="652.0" cy="352.8" r="2.2" fill="url(#sphg)"/>
<use href="#dk2" x="652.0" y="315.2" stroke="#262626" fill="#262626"/>
<line x1="657.4" y1="312.1" x2="657.4" y2="347.7" stroke="#262626" stroke-width="0.75"/>
<circle cx="657.4" cy="347.7" r="2.2" fill="url(#sphg)"/>
<use href="#dk2" x="657.4" y="310.1" stroke="#262626" fill="#262626"/>
<line x1="668.1" y1="323.5" x2="668.1" y2="349.0" stroke="#262626" stroke-width="0.75"/>
<circle cx="668.1" cy="349.0" r="2.2" fill="url(#sphg)"/>
<use href="#dk2" x="668.1" y="321.5" stroke="#262626" fill="#262626"/>
<line x1="671.9" y1="296.8" x2="671.9" y2="306.5" stroke="#262626" stroke-width="0.75"/>
<circle cx="671.9" cy="306.5" r="2.2" fill="url(#sphg)"/>
<use href="#dk2" x="671.9" y="294.8" stroke="#262626" fill="#262626"/>
<line x1="677.7" y1="304.5" x2="677.7" y2="331.7" stroke="#262626" stroke-width="0.75"/>
<circle cx="677.7" cy="331.7" r="2.2" fill="url(#sphg)"/>
<use href="#dk2" x="677.7" y="302.5" stroke="#262626" fill="#262626"/>
<line x1="681.5" y1="317.2" x2="681.5" y2="345.2" stroke="#262626" stroke-width="0.75"/>
<circle cx="681.5" cy="345.2" r="2.2" fill="url(#sphg)"/>
<use href="#dk2" x="681.5" y="315.2" stroke="#262626" fill="#262626"/>
<line x1="689.2" y1="300.6" x2="689.2" y2="317.2" stroke="#262626" stroke-width="0.75"/>
<circle cx="689.2" cy="317.2" r="2.2" fill="url(#sphg)"/>
<use href="#dk2" x="689.2" y="298.6" stroke="#262626" fill="#262626"/>
<line x1="690.9" y1="305.7" x2="690.9" y2="334.5" stroke="#262626" stroke-width="0.75"/>
<circle cx="690.9" cy="334.5" r="2.2" fill="url(#sphg)"/>
<use href="#dk2" x="690.9" y="303.7" stroke="#262626" fill="#262626"/>
<line x1="685.3" y1="329.9" x2="685.3" y2="345.2" stroke="#262626" stroke-width="0.75"/>
<circle cx="685.3" cy="345.2" r="2.2" fill="url(#sphg)"/>
<use href="#dk2" x="685.3" y="327.9" stroke="#262626" fill="#262626"/>
<line x1="686.4" y1="343.9" x2="686.4" y2="384.1" stroke="#262626" stroke-width="0.75"/>
<circle cx="686.4" cy="384.1" r="2.2" fill="url(#sph)"/>
<use href="#dk2" x="686.4" y="341.9" stroke="#262626" fill="#262626"/>
<line x1="703.7" y1="327.3" x2="703.7" y2="341.9" stroke="#262626" stroke-width="0.75"/>
<circle cx="703.7" cy="341.9" r="2.2" fill="url(#sphg)"/>
<use href="#dk2" x="703.7" y="325.3" stroke="#262626" fill="#262626"/>
<line x1="716.9" y1="314.6" x2="716.9" y2="343.9" stroke="#262626" stroke-width="0.75"/>
<use href="#dk2" x="716.9" y="312.6" stroke="#262626" fill="#262626"/>
<line x1="729.8" y1="319.7" x2="729.8" y2="341.9" stroke="#262626" stroke-width="0.75"/>
<circle cx="729.8" cy="341.9" r="2.2" fill="url(#sphg)"/>
<use href="#dk2" x="729.8" y="317.7" stroke="#262626" fill="#262626"/>
<line x1="737.5" y1="309.5" x2="737.5" y2="341.4" stroke="#262626" stroke-width="0.75"/>
<circle cx="737.5" cy="341.4" r="2.2" fill="url(#sphg)"/>
<use href="#dk2" x="737.5" y="307.5" stroke="#262626" fill="#262626"/>
<line x1="745.6" y1="338.8" x2="745.6" y2="371.4" stroke="#262626" stroke-width="0.75"/>
<circle cx="745.6" cy="371.4" r="2.2" fill="url(#sphg)"/>
<use href="#dk2" x="745.6" y="336.8" stroke="#262626" fill="#262626"/>
<line x1="727.8" y1="352.8" x2="727.8" y2="389.7" stroke="#262626" stroke-width="0.75"/>
<circle cx="727.8" cy="389.7" r="2.2" fill="url(#sphg)"/>
<use href="#dk2" x="727.8" y="350.8" stroke="#262626" fill="#262626"/>
<line x1="762.6" y1="361.7" x2="762.6" y2="384.6" stroke="#262626" stroke-width="0.75"/>
<circle cx="762.6" cy="384.6" r="2.2" fill="url(#sphg)"/>
<use href="#dk2" x="762.6" y="359.7" stroke="#262626" fill="#262626"/>
<line x1="776.9" y1="347.7" x2="776.9" y2="377.5" stroke="#262626" stroke-width="0.75"/>
<circle cx="776.9" cy="377.5" r="2.2" fill="url(#sphg)"/>
<use href="#dk2" x="776.9" y="345.7" stroke="#262626" fill="#262626"/>
<line x1="790.6" y1="308.3" x2="790.6" y2="316.4" stroke="#262626" stroke-width="0.75"/>
<circle cx="790.6" cy="316.4" r="2.2" fill="url(#sphg)"/>
<use href="#dk2" x="790.6" y="306.3" stroke="#262626" fill="#262626"/>
<line x1="626.6" y1="375.7" x2="626.6" y2="395.5" stroke="#262626" stroke-width="0.75"/>
<circle cx="626.6" cy="395.5" r="2.2" fill="url(#sphg)"/>
<use href="#dk2" x="626.6" y="373.7" stroke="#262626" fill="#262626"/>
<line x1="741.0" y1="410.0" x2="741.0" y2="418.9" stroke="#262626" stroke-width="0.75"/>
<circle cx="741.0" cy="418.9" r="2.2" fill="url(#sphg)"/>
<use href="#dk2" x="741.0" y="408.0" stroke="#262626" fill="#262626"/>
<line x1="790.6" y1="308.4" x2="790.6" y2="316.6" stroke="#262626" stroke-width="0.75"/>
<circle cx="790.6" cy="316.6" r="2.2" fill="url(#sphg)"/>
<use href="#dk2" x="790.6" y="306.4" stroke="#262626" fill="#262626"/>
<line x1="845.8" y1="317.3" x2="845.8" y2="337.2" stroke="#262626" stroke-width="0.75"/>
<circle cx="845.8" cy="337.2" r="2.2" fill="url(#sphg)"/>
<use href="#dk2" x="845.8" y="315.3" stroke="#262626" fill="#262626"/>
<line x1="881.6" y1="327.5" x2="881.6" y2="347.9" stroke="#262626" stroke-width="0.75"/>
<circle cx="881.6" cy="347.9" r="2.2" fill="url(#sphg)"/>
<use href="#dk2" x="881.6" y="325.5" stroke="#262626" fill="#262626"/>
<line x1="864.8" y1="343.5" x2="864.8" y2="354.2" stroke="#262626" stroke-width="0.75"/>
<circle cx="864.8" cy="354.2" r="2.2" fill="url(#sphg)"/>
<use href="#dk2" x="864.8" y="341.5" stroke="#262626" fill="#262626"/>
<line x1="831.3" y1="359.3" x2="831.3" y2="369.5" stroke="#262626" stroke-width="0.75"/>
<circle cx="831.3" cy="369.5" r="2.2" fill="url(#sphg)"/>
<use href="#dk2" x="831.3" y="357.3" stroke="#262626" fill="#262626"/>
<circle cx="861.8" cy="377.1" r="2.3" fill="url(#sph)"/>
<circle cx="828.7" cy="394.9" r="2.3" fill="url(#sph)"/>
<circle cx="879.6" cy="359.8" r="2.3" fill="url(#sph)"/>
<circle cx="627.4" cy="412.6" r="2.3" fill="url(#sph)"/>
<circle cx="739.8" cy="450.6" r="2.3" fill="url(#sph)"/>
<line x1="740.3" y1="422.6" x2="740.0" y2="448.1" stroke="#222" stroke-width="0.7"/>
</g>
<g transform="translate(0.0 0.0)">
<path d="M33.8,627.4 C37.4,628.5 47.5,631.0 55.4,633.7 C63.2,636.5 72.4,639.2 80.9,643.9 C89.4,648.6 97.8,655.4 106.3,661.7 C114.8,668.1 124.4,676.2 131.7,682.0 C139.0,687.8 143.4,691.1 150.0,696.3 C156.6,701.5 164.1,707.6 171.2,713.2 C178.3,718.9 185.3,724.9 192.4,730.2 C199.5,735.5 205.7,739.7 213.6,745.0 C221.5,750.3 231.7,757.0 240.0,762.0 C248.3,767.0 256.1,770.8 263.7,774.7 C271.3,778.6 278.7,781.9 285.6,785.3 C292.5,788.7 302.0,793.5 305.3,795.1 L334.9,778.1 C338.8,775.3 352.8,765.4 358.6,761.2 C364.5,757.0 365.3,756.0 370.0,752.8 C374.7,749.5 379.8,746.7 386.9,741.7 C394.0,736.7 404.3,729.4 412.4,722.6 C420.5,715.8 428.5,708.0 435.7,700.9 C442.9,693.8 452.4,683.2 455.8,679.7 L440,660 L200,600 L113.9,628.6 C112.6,628.2 109.7,627.2 106.3,626.2 C102.9,625.2 97.8,623.6 93.6,622.6 C89.4,621.6 85.2,620.9 80.9,620.3 C76.7,619.7 72.3,619.3 68.1,619.2 C63.8,619.1 59.6,619.2 55.4,619.9 C51.2,620.6 46.3,622.1 42.7,623.4 C39.1,624.6 35.3,626.7 33.8,627.4Z" fill="#212121"/>
<defs><clipPath id="bkgrid"><path d="M33.8,627.4 C37.4,628.5 47.5,631.0 55.4,633.7 C63.2,636.5 72.4,639.2 80.9,643.9 C89.4,648.6 97.8,655.4 106.3,661.7 C114.8,668.1 124.4,676.2 131.7,682.0 C139.0,687.8 143.4,691.1 150.0,696.3 C156.6,701.5 164.1,707.6 171.2,713.2 C178.3,718.9 185.3,724.9 192.4,730.2 C199.5,735.5 205.7,739.7 213.6,745.0 C221.5,750.3 231.7,757.0 240.0,762.0 C248.3,767.0 256.1,770.8 263.7,774.7 C271.3,778.6 278.7,781.9 285.6,785.3 C292.5,788.7 302.0,793.5 305.3,795.1 L334.9,778.1 C338.8,775.3 352.8,765.4 358.6,761.2 C364.5,757.0 365.3,756.0 370.0,752.8 C374.7,749.5 379.8,746.7 386.9,741.7 C394.0,736.7 404.3,729.4 412.4,722.6 C420.5,715.8 428.5,708.0 435.7,700.9 C442.9,693.8 452.4,683.2 455.8,679.7 L440,660 L200,600 L113.9,628.6 C112.6,628.2 109.7,627.2 106.3,626.2 C102.9,625.2 97.8,623.6 93.6,622.6 C89.4,621.6 85.2,620.9 80.9,620.3 C76.7,619.7 72.3,619.3 68.1,619.2 C63.8,619.1 59.6,619.2 55.4,619.9 C51.2,620.6 46.3,622.1 42.7,623.4 C39.1,624.6 35.3,626.7 33.8,627.4Z"/></clipPath><clipPath id="flgrid"><polygon points="458.5,659.1 439.7,674.1 387.1,715.6 363.5,731.7 330.0,757.5 307.0,777.8 281.4,768.3 234.7,749.2 213.6,739.7 199.0,733.8 190.0,700.0 165.0,660.0 165.0,640.0 190.0,598.0 440.7,655.8"/></clipPath></defs>
<g clip-path="url(#bkgrid)"><ellipse cx="90" cy="640" rx="50" ry="9" fill="#2e2e2e" filter="url(#bl6)" transform="rotate(24 90 640)"/></g>
<polygon points="263.7,750.0 263.7,774.7 267.0,775.5 283.0,766.0 283.0,750.0" fill="#8f8f8f"/>
<polygon points="364.6,725.0 364.6,735.8 387.5,740.8 389.2,713.0" fill="#b6b6b6"/>
<polygon points="415.0,680.0 416.0,692.0 436.8,697.5 440.0,672.0" fill="#b6b6b6"/>
<line x1="263.7" y1="762.2" x2="283" y2="751.2" stroke="#3c3c3c" stroke-width="0.5"/>
<line x1="364.6" y1="720.0" x2="389" y2="725.5" stroke="#3c3c3c" stroke-width="0.5"/>
<line x1="415" y1="677.5" x2="440" y2="682.5" stroke="#3c3c3c" stroke-width="0.5"/>
<line x1="263.7" y1="767.4" x2="283" y2="756.4" stroke="#3c3c3c" stroke-width="0.5"/>
<line x1="364.6" y1="726.0" x2="389" y2="731.5" stroke="#3c3c3c" stroke-width="0.5"/>
<line x1="415" y1="683.0" x2="440" y2="688.0" stroke="#3c3c3c" stroke-width="0.5"/>
<line x1="263.7" y1="772.6" x2="283" y2="761.6" stroke="#3c3c3c" stroke-width="0.5"/>
<line x1="364.6" y1="732.0" x2="389" y2="737.5" stroke="#3c3c3c" stroke-width="0.5"/>
<line x1="415" y1="688.5" x2="440" y2="693.5" stroke="#3c3c3c" stroke-width="0.5"/>
<line x1="263.7" y1="777.8" x2="283" y2="766.8" stroke="#3c3c3c" stroke-width="0.5"/>
<line x1="364.6" y1="738.0" x2="389" y2="743.5" stroke="#3c3c3c" stroke-width="0.5"/>
<line x1="415" y1="694.0" x2="440" y2="699.0" stroke="#3c3c3c" stroke-width="0.5"/>
<polygon points="458.5,659.1 439.7,674.1 387.1,715.6 363.5,731.7 330.0,757.5 307.0,777.8 281.4,768.3 234.7,749.2 213.6,739.7 199.0,733.8 190.0,700.0 165.0,660.0 165.0,640.0 190.0,598.0 440.7,655.8" fill="#6b6b6b"/>
<g clip-path="url(#flgrid)">
<path d="M323.1,780.3 L27.3,676.8 M339.0,768.5 L44.6,666.5 M354.8,756.9 L61.7,656.4 M370.2,745.5 L78.6,646.4 M385.4,734.3 L95.2,636.5 M400.4,723.2 L111.5,626.8 M415.1,712.4 L127.6,617.2 M429.6,701.7 L143.4,607.8 M443.9,691.1 L159.1,598.5 M457.9,680.8 L174.4,589.4 M471.8,670.5 L189.6,580.4 M485.4,660.5 L204.5,571.5 M303.4,782.2 L487.9,647.1 M280.3,774.1 L466.2,640.3 M257.4,766.1 L444.7,633.6 M234.7,758.1 L423.4,626.9 M212.2,750.2 L402.3,620.2 M190.0,742.3 L381.3,613.6 M167.9,734.6 L360.5,607.1 M146.0,726.9 L339.8,600.6 M124.3,719.3 L319.3,594.2 M102.7,711.7 L299.0,587.8 M81.4,704.2 L278.8,581.5 M60.3,696.7 L258.8,575.2 M39.3,689.4 L239.0,568.9" fill="none" stroke="#2e2e2e" stroke-width="0.7"/>
</g>
<defs><clipPath id="wcgrid"><path d="M0,480 L33.8,627.4 L33.8,627.4 C37.4,628.5 47.5,631.0 55.4,633.7 C63.2,636.5 72.4,639.2 80.9,643.9 C89.4,648.6 97.8,655.4 106.3,661.7 C114.8,668.1 124.4,676.2 131.7,682.0 C139.0,687.8 143.4,691.1 150.0,696.3 C156.6,701.5 164.1,707.6 171.2,713.2 C178.3,718.9 185.3,724.9 192.4,730.2 C199.5,735.5 205.7,739.7 213.6,745.0 C221.5,750.3 231.7,757.0 240.0,762.0 C248.3,767.0 256.1,770.8 263.7,774.7 C271.3,778.6 278.7,781.9 285.6,785.3 C292.5,788.7 302.0,793.5 305.3,795.1 L334.9,778.1 C338.8,775.3 352.8,765.4 358.6,761.2 C364.5,757.0 365.3,756.0 370.0,752.8 C374.7,749.5 379.8,746.7 386.9,741.7 C394.0,736.7 404.3,729.4 412.4,722.6 C420.5,715.8 428.5,708.0 435.7,700.9 C442.9,693.8 452.4,683.2 455.8,679.7 L476,660 L476,480 Z"/></clipPath></defs>
<g clip-path="url(#wcgrid)">
<polygon points="229.0,569.5 259.2,558.2 259.2,596.0 229.0,611.0" fill="#8f8f8f"/>
<path d="M229.0,574.5 L259.2,562.8 M229.0,579.5 L259.2,567.3 M229.0,584.5 L259.2,571.9 M229.0,589.5 L259.2,576.4 M229.0,594.5 L259.2,581.0 M229.0,599.5 L259.2,585.5 M229.0,604.5 L259.2,590.1 M229.0,609.5 L259.2,594.6" fill="none" stroke="#3c3c3c" stroke-width="0.65"/>
<path d="M239.8,565.5 V605.6" fill="none" stroke="#2a2a2a" stroke-width="0.8"/>
<polyline points="229.0,569.5 259.2,558.2" fill="none" stroke="#6a6a6a" stroke-width="1.8"/>
<polygon points="316.3,593.9 341.7,580.1 341.7,620.0 316.3,637.0" fill="#8f8f8f"/>
<path d="M316.3,599.1 L341.7,584.9 M316.3,604.3 L341.7,589.7 M316.3,609.5 L341.7,594.5 M316.3,614.7 L341.7,599.3 M316.3,619.9 L341.7,604.1 M316.3,625.1 L341.7,608.9 M316.3,630.2 L341.7,613.8 M316.3,635.4 L341.7,618.6" fill="none" stroke="#3c3c3c" stroke-width="0.65"/>
<path d="M327.1,588.0 V629.8" fill="none" stroke="#2a2a2a" stroke-width="0.8"/>
<polyline points="316.3,593.9 341.7,580.1" fill="none" stroke="#6a6a6a" stroke-width="1.8"/>
<polygon points="403.0,614.9 425.4,601.0 425.4,650.0 403.0,665.0" fill="#8f8f8f"/>
<path d="M403.0,620.9 L425.4,606.9 M403.0,626.9 L425.4,612.8 M403.0,633.0 L425.4,618.7 M403.0,639.0 L425.4,624.6 M403.0,645.1 L425.4,630.5 M403.0,651.1 L425.4,636.4 M403.0,657.1 L425.4,642.3 M403.0,663.2 L425.4,648.2" fill="none" stroke="#3c3c3c" stroke-width="0.65"/>
<path d="M413.8,608.2 V657.8" fill="none" stroke="#2a2a2a" stroke-width="0.8"/>
<polyline points="403.0,614.9 425.4,601.0" fill="none" stroke="#6a6a6a" stroke-width="1.8"/>
<polygon points="183.8,555.9 229.0,567.5 259.2,574.6 316.3,592.8 354.4,601.3 403.0,613.5 425.4,619.0 443.7,624.6 443.7,676.7 425.4,671.5 403.0,665.0 354.4,650.0 316.3,637.0 259.2,618.0 229.0,610.0 183.8,598.0" fill="#b6b6b6"/>
<path d="M183.8,561.0 L229.0,572.6 L259.2,579.8 L316.3,598.1 L354.4,607.2 L403.0,619.7 L425.4,625.3 L443.7,630.9 M183.8,566.0 L229.0,577.7 L259.2,585.1 L316.3,603.5 L354.4,613.0 L403.0,625.9 L425.4,631.7 L443.7,637.2 M183.8,571.1 L229.0,582.9 L259.2,590.3 L316.3,608.8 L354.4,618.9 L403.0,632.1 L425.4,638.0 L443.7,643.4 M183.8,576.2 L229.0,588.0 L259.2,595.5 L316.3,614.1 L354.4,624.8 L403.0,638.3 L425.4,644.3 L443.7,649.7 M183.8,581.3 L229.0,593.1 L259.2,600.7 L316.3,619.4 L354.4,630.6 L403.0,644.5 L425.4,650.6 L443.7,656.0 M183.8,586.3 L229.0,598.2 L259.2,606.0 L316.3,624.8 L354.4,636.5 L403.0,650.7 L425.4,657.0 L443.7,662.3 M183.8,591.4 L229.0,603.3 L259.2,611.2 L316.3,630.1 L354.4,642.4 L403.0,656.9 L425.4,663.3 L443.7,668.5 M183.8,596.5 L229.0,608.5 L259.2,616.4 L316.3,635.4 L354.4,648.2 L403.0,663.1 L425.4,669.6 L443.7,674.8" fill="none" stroke="#3c3c3c" stroke-width="0.65"/>
<path d="M196.4,559.1 V601.3 M217.4,564.5 V606.9 M238.4,569.7 V612.5 M259.4,574.7 V618.1 M280.4,581.4 V625.1 M301.4,588.1 V632.0 M322.4,594.2 V639.1 M343.4,598.8 V646.2 M364.4,603.8 V653.1 M385.4,609.1 V659.6 M406.4,614.3 V666.0 M427.4,619.6 V672.1" fill="none" stroke="#2a2a2a" stroke-width="0.8"/>
<polyline points="183.8,555.9 229.0,567.5 259.2,574.6 316.3,592.8 354.4,601.3 403.0,613.5 425.4,619.0 443.7,624.6" fill="none" stroke="#6a6a6a" stroke-width="1.8"/>
<line x1="184.4" y1="555.9" x2="184.4" y2="598.0" stroke="#aaa" stroke-width="1.6"/>
<line x1="183.6" y1="555.9" x2="183.6" y2="598.0" stroke="#333" stroke-width="0.6"/>
<polygon points="176.1,600.3 205.0,584.5 229.0,569.5 229.0,611.0 205.0,625.8 176.1,643.7" fill="#8f8f8f"/>
<path d="M176.1,605.5 L205.0,589.5 L229.0,574.5 M176.1,610.8 L205.0,594.5 L229.0,579.5 M176.1,616.0 L205.0,599.4 L229.0,584.5 M176.1,621.2 L205.0,604.4 L229.0,589.5 M176.1,626.4 L205.0,609.4 L229.0,594.5 M176.1,631.7 L205.0,614.4 L229.0,599.5 M176.1,636.9 L205.0,619.4 L229.0,604.5 M176.1,642.1 L205.0,624.3 L229.0,609.5" fill="none" stroke="#3c3c3c" stroke-width="0.65"/>
<path d="M186.9,594.4 V637.0 M204.9,584.6 V625.9 M222.9,573.3 V614.8" fill="none" stroke="#2a2a2a" stroke-width="0.8"/>
<polyline points="176.1,600.3 205.0,584.5 229.0,569.5" fill="none" stroke="#6a6a6a" stroke-width="1.8"/>
<polygon points="262.2,627.8 316.3,593.9 316.3,637.0 262.2,676.8" fill="#8f8f8f"/>
<path d="M262.2,633.7 L316.3,599.1 M262.2,639.6 L316.3,604.3 M262.2,645.5 L316.3,609.5 M262.2,651.4 L316.3,614.7 M262.2,657.3 L316.3,619.9 M262.2,663.2 L316.3,625.1 M262.2,669.1 L316.3,630.2 M262.2,675.0 L316.3,635.4" fill="none" stroke="#3c3c3c" stroke-width="0.65"/>
<path d="M273.0,621.0 V668.9 M291.0,609.8 V655.6 M309.0,598.5 V642.4" fill="none" stroke="#2a2a2a" stroke-width="0.8"/>
<polyline points="262.2,627.8 316.3,593.9" fill="none" stroke="#6a6a6a" stroke-width="1.8"/>
<polygon points="350.2,652.2 401.0,616.1 403.0,614.9 403.0,665.0 401.0,666.5 350.2,703.5" fill="#8f8f8f"/>
<path d="M350.2,658.4 L401.0,622.2 L403.0,620.9 M350.2,664.6 L401.0,628.2 L403.0,626.9 M350.2,670.7 L401.0,634.3 L403.0,633.0 M350.2,676.9 L401.0,640.4 L403.0,639.0 M350.2,683.1 L401.0,646.4 L403.0,645.1 M350.2,689.3 L401.0,652.5 L403.0,651.1 M350.2,695.5 L401.0,658.6 L403.0,657.1 M350.2,701.6 L401.0,664.6 L403.0,663.2" fill="none" stroke="#3c3c3c" stroke-width="0.65"/>
<path d="M361.0,644.5 V695.6 M379.0,631.7 V682.5 M397.0,618.9 V669.4" fill="none" stroke="#2a2a2a" stroke-width="0.8"/>
<polyline points="350.2,652.2 401.0,616.1 403.0,614.9" fill="none" stroke="#6a6a6a" stroke-width="1.8"/>
<polygon points="124.6,582.2 176.1,600.3 208.3,609.8 235.8,619.3 262.2,627.8 296.2,637.3 303.6,639.4 348.5,651.7 350.2,652.2 391.5,662.8 391.5,714.0 350.2,704.8 348.5,704.4 303.6,690.1 296.2,687.8 262.2,676.8 235.8,665.2 208.3,653.2 176.1,643.7 124.6,626.0" fill="#b6b6b6"/>
<path d="M124.6,587.5 L176.1,605.5 L208.3,615.0 L235.8,624.8 L262.2,633.7 L296.2,643.4 L303.6,645.5 L348.5,658.1 L350.2,658.5 L391.5,669.0 M124.6,592.8 L176.1,610.8 L208.3,620.3 L235.8,630.4 L262.2,639.6 L296.2,649.5 L303.6,651.6 L348.5,664.4 L350.2,664.9 L391.5,675.1 M124.6,598.0 L176.1,616.0 L208.3,625.5 L235.8,635.9 L262.2,645.5 L296.2,655.6 L303.6,657.7 L348.5,670.8 L350.2,671.2 L391.5,681.3 M124.6,603.3 L176.1,621.2 L208.3,630.7 L235.8,641.4 L262.2,651.4 L296.2,661.7 L303.6,663.9 L348.5,677.1 L350.2,677.5 L391.5,687.5 M124.6,608.6 L176.1,626.4 L208.3,635.9 L235.8,647.0 L262.2,657.3 L296.2,667.7 L303.6,670.0 L348.5,683.5 L350.2,683.9 L391.5,693.6 M124.6,613.9 L176.1,631.7 L208.3,641.2 L235.8,652.5 L262.2,663.2 L296.2,673.8 L303.6,676.1 L348.5,689.8 L350.2,690.2 L391.5,699.8 M124.6,619.1 L176.1,636.9 L208.3,646.4 L235.8,658.0 L262.2,669.1 L296.2,679.9 L303.6,682.2 L348.5,696.2 L350.2,696.5 L391.5,706.0 M124.6,624.4 L176.1,642.1 L208.3,651.6 L235.8,663.6 L262.2,675.0 L296.2,686.0 L303.6,688.3 L348.5,702.5 L350.2,702.9 L391.5,712.1" fill="none" stroke="#3c3c3c" stroke-width="0.65"/>
<path d="M137.8,586.8 V630.5 M159.8,594.6 V638.1 M181.8,602.0 V645.4 M203.8,608.5 V651.9 M225.8,615.8 V660.9 M247.8,623.2 V670.5 M269.8,629.9 V679.3 M291.8,636.1 V686.4 M313.8,642.2 V693.4 M335.8,648.2 V700.4 M357.8,654.2 V706.5 M379.8,659.8 V711.4" fill="none" stroke="#2a2a2a" stroke-width="0.8"/>
<polyline points="124.6,582.2 176.1,600.3 208.3,609.8 235.8,619.3 262.2,627.8 296.2,637.3 303.6,639.4 348.5,651.7 350.2,652.2 391.5,662.8" fill="none" stroke="#6a6a6a" stroke-width="1.8"/>
<line x1="125.2" y1="582.2" x2="125.2" y2="626.0" stroke="#aaa" stroke-width="1.6"/>
<line x1="124.4" y1="582.2" x2="124.4" y2="626.0" stroke="#333" stroke-width="0.6"/>
<polygon points="85.0,643.7 123.6,625.7 176.1,600.3 176.1,643.7 123.6,668.0 85.0,686.0" fill="#8f8f8f"/>
<path d="M85.0,648.8 L123.6,630.8 L176.1,605.5 M85.0,653.9 L123.6,635.9 L176.1,610.8 M85.0,659.0 L123.6,641.0 L176.1,616.0 M85.0,664.1 L123.6,646.1 L176.1,621.2 M85.0,669.2 L123.6,651.2 L176.1,626.4 M85.0,674.3 L123.6,656.3 L176.1,631.7 M85.0,679.4 L123.6,661.4 L176.1,636.9 M85.0,684.5 L123.6,666.5 L176.1,642.1" fill="none" stroke="#3c3c3c" stroke-width="0.65"/>
<path d="M96.4,638.4 V680.7 M115.4,629.5 V671.8 M134.4,620.5 V663.0 M153.4,611.3 V654.2 M172.4,602.1 V645.4" fill="none" stroke="#2a2a2a" stroke-width="0.8"/>
<polyline points="85.0,643.7 123.6,625.7 176.1,600.3" fill="none" stroke="#6a6a6a" stroke-width="1.8"/>
<polygon points="84.0,647.5 93.0,644.0 102.4,641.4 119.3,640.3 140.5,644.5 161.7,652.0 169.0,659.0 173.3,669.8 173.3,740.0 84.0,700.0" fill="#1f1f1f"/>
<polygon points="173.3,669.8 211.4,651.8 214.0,650.8 243.2,639.1 247.5,636.5 262.2,627.8 262.2,676.8 247.5,683.6 243.2,686.3 214.0,705.0 211.4,706.7 173.3,731.0" fill="#8f8f8f"/>
<path d="M173.3,677.2 L211.4,658.4 L214.0,657.3 L243.2,644.8 L247.5,642.2 L262.2,633.7 M173.3,684.5 L211.4,665.0 L214.0,663.8 L243.2,650.5 L247.5,647.9 L262.2,639.6 M173.3,691.9 L211.4,671.6 L214.0,670.4 L243.2,656.2 L247.5,653.6 L262.2,645.5 M173.3,699.3 L211.4,678.2 L214.0,676.9 L243.2,661.9 L247.5,659.2 L262.2,651.4 M173.3,706.7 L211.4,684.8 L214.0,683.4 L243.2,667.6 L247.5,664.9 L262.2,657.3 M173.3,714.0 L211.4,691.5 L214.0,690.0 L243.2,673.3 L247.5,670.6 L262.2,663.2 M173.3,721.4 L211.4,698.1 L214.0,696.5 L243.2,678.9 L247.5,676.2 L262.2,669.1 M173.3,728.8 L211.4,704.7 L214.0,703.0 L243.2,684.6 L247.5,681.9 L262.2,675.0" fill="none" stroke="#3c3c3c" stroke-width="0.65"/>
<path d="M184.7,664.4 V723.7 M203.7,655.4 V711.6 M222.7,647.3 V699.4 M241.7,639.7 V687.3" fill="none" stroke="#2a2a2a" stroke-width="0.8"/>
<polyline points="173.3,669.8 211.4,651.8 214.0,650.8 243.2,639.1 247.5,636.5 262.2,627.8" fill="none" stroke="#6a6a6a" stroke-width="1.8"/>
<line x1="173.9" y1="669.8" x2="173.9" y2="731.0" stroke="#c8c8c8" stroke-width="1.6"/>
<line x1="173.1" y1="669.8" x2="173.1" y2="731.0" stroke="#333" stroke-width="0.6"/>
<polygon points="172.5,714.3 190.3,706.9 203.0,704.5 211.4,705.3 214.6,712.7 215.3,719.1 212.7,725.4 208.3,731.8 203.8,735.6 198.0,737.5 198.0,760.0 172.5,740.0" fill="#1f1f1f"/>
<polygon points="263.7,704.8 281.5,694.4 298.3,684.6 317.1,673.3 319.5,671.9 334.1,662.5 350.2,652.2 350.2,703.5 334.1,713.7 319.5,724.6 317.1,726.4 298.3,740.3 281.5,752.7 263.7,762.5" fill="#8f8f8f"/>
<path d="M263.7,711.8 L281.5,701.4 L298.3,691.3 L317.1,679.7 L319.5,678.3 L334.1,668.7 L350.2,658.4 M263.7,718.7 L281.5,708.5 L298.3,698.0 L317.1,686.1 L319.5,684.6 L334.1,674.9 L350.2,664.6 M263.7,725.7 L281.5,715.5 L298.3,704.7 L317.1,692.5 L319.5,691.0 L334.1,681.0 L350.2,670.7 M263.7,732.6 L281.5,722.5 L298.3,711.4 L317.1,698.9 L319.5,697.3 L334.1,687.2 L350.2,676.9 M263.7,739.6 L281.5,729.5 L298.3,718.1 L317.1,705.3 L319.5,703.7 L334.1,693.4 L350.2,683.1 M263.7,746.5 L281.5,736.5 L298.3,724.9 L317.1,711.7 L319.5,710.0 L334.1,699.5 L350.2,689.3 M263.7,753.5 L281.5,743.6 L298.3,731.6 L317.1,718.1 L319.5,716.4 L334.1,705.7 L350.2,695.5 M263.7,760.4 L281.5,750.6 L298.3,738.3 L317.1,724.5 L319.5,722.7 L334.1,711.9 L350.2,701.6" fill="none" stroke="#3c3c3c" stroke-width="0.65"/>
<path d="M275.1,698.1 V756.2 M294.1,687.1 V743.4 M313.1,675.7 V729.4 M332.1,663.8 V715.2" fill="none" stroke="#2a2a2a" stroke-width="0.8"/>
<polyline points="263.7,704.8 281.5,694.4 298.3,684.6 317.1,673.3 319.5,671.9 334.1,662.5 350.2,652.2" fill="none" stroke="#6a6a6a" stroke-width="1.8"/>
<line x1="264.3" y1="704.8" x2="264.3" y2="773.2" stroke="#c8c8c8" stroke-width="1.6"/>
<line x1="263.5" y1="704.8" x2="263.5" y2="773.2" stroke="#333" stroke-width="0.6"/>
</g>
<polyline points="190.5,522.5 190.5,556.0 190.5,597.5" fill="none" stroke="#2a2a2a" stroke-width="0.5"/>
<circle cx="190.5" cy="556.0" r="2.8" fill="url(#sph)" stroke="#6a6a6a" stroke-width="0.4"/>
<use href="#dk2" x="190.5" y="520.5" stroke="#383838" fill="#333"/>
<polyline points="186.6,536.1 186.6,565.8 186.6,592.6" fill="none" stroke="#2a2a2a" stroke-width="0.5"/>
<circle cx="186.6" cy="565.8" r="2.8" fill="url(#sph)" stroke="#6a6a6a" stroke-width="0.4"/>
<use href="#dk2" x="186.6" y="534.1" stroke="#383838" fill="#333"/>
<polyline points="199.7,552.2 199.7,586.7 199.7,617.0" fill="none" stroke="#2a2a2a" stroke-width="0.5"/>
<circle cx="199.7" cy="586.7" r="2.8" fill="url(#sph)" stroke="#6a6a6a" stroke-width="0.4"/>
<use href="#dk2" x="199.7" y="550.2" stroke="#383838" fill="#333"/>
<polyline points="214.8,543.4 213.4,599.9 213.4,626.7" fill="none" stroke="#2a2a2a" stroke-width="0.5"/>
<circle cx="213.4" cy="599.9" r="2.8" fill="url(#sph)" stroke="#6a6a6a" stroke-width="0.4"/>
<use href="#dk2" x="214.8" y="541.4" stroke="#383838" fill="#333"/>
<polyline points="220.7,550.7 220.7,582.8 220.7,612.1" fill="none" stroke="#2a2a2a" stroke-width="0.5"/>
<circle cx="220.7" cy="582.8" r="2.8" fill="url(#sph)" stroke="#6a6a6a" stroke-width="0.4"/>
<use href="#dk2" x="220.7" y="548.7" stroke="#383838" fill="#333"/>
<polyline points="231.9,543.4 231.9,576.5 231.9,617.0" fill="none" stroke="#2a2a2a" stroke-width="0.5"/>
<circle cx="231.9" cy="576.5" r="2.8" fill="url(#sph)" stroke="#6a6a6a" stroke-width="0.4"/>
<use href="#dk2" x="231.9" y="541.4" stroke="#383838" fill="#333"/>
<polyline points="237.7,550.7 240.2,585.3 240.2,621.8" fill="none" stroke="#2a2a2a" stroke-width="0.5"/>
<circle cx="240.2" cy="585.3" r="2.8" fill="url(#sph)" stroke="#6a6a6a" stroke-width="0.4"/>
<use href="#dk2" x="237.7" y="548.7" stroke="#383838" fill="#333"/>
<polyline points="242.6,559.5 242.6,598.9 242.6,631.6" fill="none" stroke="#2a2a2a" stroke-width="0.5"/>
<circle cx="242.6" cy="598.9" r="2.8" fill="url(#sph)" stroke="#6a6a6a" stroke-width="0.4"/>
<use href="#dk2" x="242.6" y="557.5" stroke="#383838" fill="#333"/>
<polyline points="249.9,545.9 251.4,586.7 251.4,621.8" fill="none" stroke="#2a2a2a" stroke-width="0.5"/>
<circle cx="251.4" cy="586.7" r="2.8" fill="url(#sph)" stroke="#6a6a6a" stroke-width="0.4"/>
<use href="#dk2" x="249.9" y="543.9" stroke="#383838" fill="#333"/>
<polyline points="251.4,550.7 251.4,573.1 251.4,626.7" fill="none" stroke="#2a2a2a" stroke-width="0.5"/>
<circle cx="251.4" cy="573.1" r="2.8" fill="url(#sph)" stroke="#6a6a6a" stroke-width="0.4"/>
<use href="#dk2" x="251.4" y="548.7" stroke="#383838" fill="#333"/>
<polyline points="264.5,574.1 263.6,611.1 263.6,646.2" fill="none" stroke="#2a2a2a" stroke-width="0.5"/>
<circle cx="263.6" cy="611.1" r="2.8" fill="url(#sph)" stroke="#6a6a6a" stroke-width="0.4"/>
<use href="#dk2" x="264.5" y="572.1" stroke="#383838" fill="#333"/>
<polyline points="277.7,561.5 277.7,597.5 277.7,685.2" fill="none" stroke="#2a2a2a" stroke-width="0.5"/>
<circle cx="277.7" cy="597.5" r="2.8" fill="url(#sph)" stroke="#6a6a6a" stroke-width="0.4"/>
<use href="#dk2" x="277.7" y="559.5" stroke="#383838" fill="#333"/>
<polyline points="290.4,565.4 287.9,638.9 287.9,690.1" fill="none" stroke="#2a2a2a" stroke-width="0.5"/>
<circle cx="287.9" cy="638.9" r="2.8" fill="url(#sph)" stroke="#6a6a6a" stroke-width="0.4"/>
<use href="#dk2" x="290.4" y="563.4" stroke="#383838" fill="#333"/>
<polyline points="297.7,555.6 297.7,591.6 297.7,621.8" fill="none" stroke="#2a2a2a" stroke-width="0.5"/>
<circle cx="297.7" cy="591.6" r="2.8" fill="url(#sph)" stroke="#6a6a6a" stroke-width="0.4"/>
<use href="#dk2" x="297.7" y="553.6" stroke="#383838" fill="#333"/>
<polyline points="307.4,585.8 305.0,624.3 305.0,646.2" fill="none" stroke="#2a2a2a" stroke-width="0.5"/>
<circle cx="305.0" cy="624.3" r="2.8" fill="url(#sph)" stroke="#6a6a6a" stroke-width="0.4"/>
<use href="#dk2" x="307.4" y="583.8" stroke="#383838" fill="#333"/>
<polyline points="351.3,554.6 350.3,588.7 350.3,641.3" fill="none" stroke="#2a2a2a" stroke-width="0.5"/>
<circle cx="350.3" cy="588.7" r="2.8" fill="url(#sph)" stroke="#6a6a6a" stroke-width="0.4"/>
<use href="#dk2" x="351.3" y="552.6" stroke="#383838" fill="#333"/>
<polyline points="405.9,564.4 404.4,596.5 404.4,655.9" fill="none" stroke="#2a2a2a" stroke-width="0.5"/>
<circle cx="404.4" cy="596.5" r="2.8" fill="url(#sph)" stroke="#6a6a6a" stroke-width="0.4"/>
<use href="#dk2" x="405.9" y="562.4" stroke="#383838" fill="#333"/>
<polyline points="442.4,573.6 439.0,606.2 439.0,621.8" fill="none" stroke="#2a2a2a" stroke-width="0.5"/>
<circle cx="439.0" cy="606.2" r="2.8" fill="url(#sph)" stroke="#6a6a6a" stroke-width="0.4"/>
<use href="#dk2" x="442.4" y="571.6" stroke="#383838" fill="#333"/>
<polyline points="425.4,590.7 422.9,624.3 422.9,670.6" fill="none" stroke="#2a2a2a" stroke-width="0.5"/>
<circle cx="422.9" cy="624.3" r="2.8" fill="url(#sph)" stroke="#6a6a6a" stroke-width="0.4"/>
<use href="#dk2" x="425.4" y="588.7" stroke="#383838" fill="#333"/>
<polyline points="391.2,605.3 389.8,641.3 389.8,665.7" fill="none" stroke="#2a2a2a" stroke-width="0.5"/>
<circle cx="389.8" cy="641.3" r="2.8" fill="url(#sph)" stroke="#6a6a6a" stroke-width="0.4"/>
<use href="#dk2" x="391.2" y="603.3" stroke="#383838" fill="#333"/>
<polyline points="136.9,584.8 138.8,625.7 138.8,646.2" fill="none" stroke="#2a2a2a" stroke-width="0.5"/>
<circle cx="138.8" cy="625.7" r="2.8" fill="url(#sph)" stroke="#6a6a6a" stroke-width="0.4"/>
<use href="#dk2" x="136.9" y="582.8" stroke="#383838" fill="#333"/>
<polyline points="186.6,621.4 189.0,658.4 189.0,704.7" fill="none" stroke="#2a2a2a" stroke-width="0.5"/>
<circle cx="189.0" cy="658.4" r="2.8" fill="url(#sph)" stroke="#6a6a6a" stroke-width="0.4"/>
<use href="#dk2" x="186.6" y="619.4" stroke="#383838" fill="#333"/>
<polyline points="288.9,601.9 288.9,638.9 288.9,660.8" fill="none" stroke="#2a2a2a" stroke-width="0.5"/>
<circle cx="288.9" cy="638.9" r="2.8" fill="url(#sph)" stroke="#6a6a6a" stroke-width="0.4"/>
<use href="#dk2" x="288.9" y="599.9" stroke="#383838" fill="#333"/>
<polyline points="302.5,655.5 301.1,697.4 301.1,753.4" fill="none" stroke="#2a2a2a" stroke-width="0.5"/>
<circle cx="301.1" cy="697.4" r="2.8" fill="url(#sph)" stroke="#6a6a6a" stroke-width="0.4"/>
<use href="#dk2" x="302.5" y="653.5" stroke="#383838" fill="#333"/>
<polyline points="324.5,608.2 322.0,646.2 322.0,704.7" fill="none" stroke="#2a2a2a" stroke-width="0.5"/>
<circle cx="322.0" cy="646.2" r="2.8" fill="url(#sph)" stroke="#6a6a6a" stroke-width="0.4"/>
<use href="#dk2" x="324.5" y="606.2" stroke="#383838" fill="#333"/>
<polyline points="337.6,593.6 336.2,631.6 336.2,660.8" fill="none" stroke="#2a2a2a" stroke-width="0.5"/>
<circle cx="336.2" cy="631.6" r="2.8" fill="url(#sph)" stroke="#6a6a6a" stroke-width="0.4"/>
<use href="#dk2" x="337.6" y="591.6" stroke="#383838" fill="#333"/>
<polyline points="213.4,562.9 213.4,573.1 213.4,617.0" fill="none" stroke="#2a2a2a" stroke-width="0.5"/>
<circle cx="213.4" cy="573.1" r="2.8" fill="url(#sph)" stroke="#6a6a6a" stroke-width="0.4"/>
<use href="#dk2" x="213.4" y="560.9" stroke="#383838" fill="#333"/>
<polyline points="229.0,565.4 229.0,606.2 229.0,636.5" fill="none" stroke="#2a2a2a" stroke-width="0.5"/>
<circle cx="229.0" cy="606.2" r="2.8" fill="url(#sph)" stroke="#6a6a6a" stroke-width="0.4"/>
<use href="#dk2" x="229.0" y="563.4" stroke="#383838" fill="#333"/>
<polyline points="247.5,570.2 247.5,630.6 247.5,646.2" fill="none" stroke="#2a2a2a" stroke-width="0.5"/>
<circle cx="247.5" cy="630.6" r="2.8" fill="url(#sph)" stroke="#6a6a6a" stroke-width="0.4"/>
<use href="#dk2" x="247.5" y="568.2" stroke="#383838" fill="#333"/>
<line x1="141.5" y1="689" x2="141.5" y2="702" stroke="#333" stroke-width="0.8"/>
<line x1="190.4" y1="729" x2="190.4" y2="746" stroke="#bbb" stroke-width="0.9"/>
</g>
<g transform="translate(439.1 240.0)">
<path d="M33.8,627.4 C37.4,628.5 47.5,631.0 55.4,633.7 C63.2,636.5 72.4,639.2 80.9,643.9 C89.4,648.6 97.8,655.4 106.3,661.7 C114.8,668.1 124.4,676.2 131.7,682.0 C139.0,687.8 143.4,691.1 150.0,696.3 C156.6,701.5 164.1,707.6 171.2,713.2 C178.3,718.9 185.3,724.9 192.4,730.2 C199.5,735.5 205.7,739.7 213.6,745.0 C221.5,750.3 231.7,757.0 240.0,762.0 C248.3,767.0 256.1,770.8 263.7,774.7 C271.3,778.6 278.7,781.9 285.6,785.3 C292.5,788.7 302.0,793.5 305.3,795.1 L334.9,778.1 C338.8,775.3 352.8,765.4 358.6,761.2 C364.5,757.0 365.3,756.0 370.0,752.8 C374.7,749.5 379.8,746.7 386.9,741.7 C394.0,736.7 404.3,729.4 412.4,722.6 C420.5,715.8 428.5,708.0 435.7,700.9 C442.9,693.8 452.4,683.2 455.8,679.7 L440,660 L200,600 L113.9,628.6 C112.6,628.2 109.7,627.2 106.3,626.2 C102.9,625.2 97.8,623.6 93.6,622.6 C89.4,621.6 85.2,620.9 80.9,620.3 C76.7,619.7 72.3,619.3 68.1,619.2 C63.8,619.1 59.6,619.2 55.4,619.9 C51.2,620.6 46.3,622.1 42.7,623.4 C39.1,624.6 35.3,626.7 33.8,627.4Z" fill="#212121"/>
<defs><clipPath id="bkfacies"><path d="M33.8,627.4 C37.4,628.5 47.5,631.0 55.4,633.7 C63.2,636.5 72.4,639.2 80.9,643.9 C89.4,648.6 97.8,655.4 106.3,661.7 C114.8,668.1 124.4,676.2 131.7,682.0 C139.0,687.8 143.4,691.1 150.0,696.3 C156.6,701.5 164.1,707.6 171.2,713.2 C178.3,718.9 185.3,724.9 192.4,730.2 C199.5,735.5 205.7,739.7 213.6,745.0 C221.5,750.3 231.7,757.0 240.0,762.0 C248.3,767.0 256.1,770.8 263.7,774.7 C271.3,778.6 278.7,781.9 285.6,785.3 C292.5,788.7 302.0,793.5 305.3,795.1 L334.9,778.1 C338.8,775.3 352.8,765.4 358.6,761.2 C364.5,757.0 365.3,756.0 370.0,752.8 C374.7,749.5 379.8,746.7 386.9,741.7 C394.0,736.7 404.3,729.4 412.4,722.6 C420.5,715.8 428.5,708.0 435.7,700.9 C442.9,693.8 452.4,683.2 455.8,679.7 L440,660 L200,600 L113.9,628.6 C112.6,628.2 109.7,627.2 106.3,626.2 C102.9,625.2 97.8,623.6 93.6,622.6 C89.4,621.6 85.2,620.9 80.9,620.3 C76.7,619.7 72.3,619.3 68.1,619.2 C63.8,619.1 59.6,619.2 55.4,619.9 C51.2,620.6 46.3,622.1 42.7,623.4 C39.1,624.6 35.3,626.7 33.8,627.4Z"/></clipPath><clipPath id="flfacies"><polygon points="458.5,659.1 439.7,674.1 387.1,715.6 363.5,731.7 330.0,757.5 307.0,777.8 281.4,768.3 234.7,749.2 213.6,739.7 199.0,733.8 190.0,700.0 165.0,660.0 165.0,640.0 190.0,598.0 440.7,655.8"/></clipPath></defs>
<g clip-path="url(#bkfacies)"><ellipse cx="90" cy="640" rx="50" ry="9" fill="#2e2e2e" filter="url(#bl6)" transform="rotate(24 90 640)"/></g>
<polygon points="263.7,750.0 263.7,774.7 267.0,775.5 283.0,766.0 283.0,750.0" fill="#484848"/>
<polygon points="364.6,725.0 364.6,735.8 387.5,740.8 389.2,713.0" fill="#414141"/>
<polygon points="415.0,680.0 416.0,692.0 436.8,697.5 440.0,672.0" fill="#414141"/>
<polygon points="458.5,659.1 439.7,674.1 387.1,715.6 363.5,731.7 330.0,757.5 307.0,777.8 281.4,768.3 234.7,749.2 213.6,739.7 199.0,733.8 190.0,700.0 165.0,660.0 165.0,640.0 190.0,598.0 440.7,655.8" fill="#444"/>
<g clip-path="url(#flfacies)">
<path d="M314.2,774.3 L327.8,764.3 L323.5,762.8 L309.8,772.7Z M422.9,694.7 L425.3,692.9 L421.1,691.6 L418.7,693.3Z M461.2,666.7 L465.8,663.3 L461.7,662.0 L457.0,665.4Z M366.3,732.1 L386.8,717.1 L382.5,715.7 L362.0,730.6Z M396.8,709.8 L411.7,698.9 L407.5,697.5 L392.6,708.3Z M459.8,663.8 L464.4,660.4 L460.3,659.1 L455.6,662.5Z M306.4,771.5 L322.7,759.6 L318.4,758.1 L302.0,770.0Z M365.0,728.9 L377.8,719.5 L373.6,718.1 L360.7,727.4Z M380.4,717.7 L385.5,714.0 L381.2,712.6 L376.1,716.3Z M399.2,700.0 L401.7,698.2 L397.5,696.8 L395.0,698.6Z M428.6,678.7 L435.8,673.5 L431.6,672.1 L424.4,677.3Z M442.9,668.3 L445.3,666.6 L441.1,665.2 L438.7,666.9Z M455.6,655.2 L458.0,653.5 L453.8,652.2 L451.5,653.9Z M291.9,769.4 L305.6,759.5 L301.3,758.0 L287.5,767.9Z M290.8,766.1 L334.0,735.0 L329.7,733.6 L286.4,764.6Z M349.7,723.7 L365.1,712.6 L360.9,711.2 L345.4,722.3Z M380.4,701.6 L405.2,683.8 L401.0,682.4 L376.1,700.3Z M374.1,702.2 L376.6,700.4 L372.4,699.0 L369.8,700.8Z M379.1,698.6 L399.0,684.3 L394.8,683.0 L374.9,697.2Z M283.0,763.4 L299.5,751.6 L295.1,750.1 L278.6,761.8Z M303.7,744.5 L322.5,731.1 L318.2,729.6 L299.4,743.0Z M415.8,664.5 L425.4,657.7 L421.3,656.4 L411.7,663.2Z M297.2,745.1 L316.0,731.7 L311.7,730.2 L292.9,743.6Z M365.3,696.7 L375.3,689.5 L371.2,688.1 L361.1,695.3Z M409.7,665.1 L424.1,654.9 L420.0,653.6 L405.6,663.7Z M359.0,697.2 L374.1,686.5 L369.9,685.1 L354.8,695.8Z M337.3,708.7 L347.6,701.4 L343.4,700.0 L333.1,707.2Z M357.8,694.2 L370.4,685.3 L366.2,683.9 L353.6,692.8Z M411.9,655.9 L421.5,649.2 L417.4,647.9 L407.8,654.6Z M386.5,670.1 L398.6,661.5 L394.5,660.2 L382.3,668.7Z M270.9,747.5 L287.3,735.9 L283.0,734.5 L266.6,746.0Z M334.9,702.5 L337.5,700.7 L333.3,699.3 L330.7,701.1Z M253.2,755.9 L261.5,750.0 L257.2,748.5 L248.9,754.4Z M269.8,744.2 L283.5,734.6 L279.2,733.2 L265.5,742.7Z M379.1,667.7 L396.1,655.7 L392.0,654.4 L374.9,666.3Z M408.1,647.3 L417.6,640.7 L413.5,639.4 L404.0,646.0Z M245.5,753.2 L270.4,735.8 L266.2,734.4 L241.2,751.7Z M371.7,665.3 L374.1,663.6 L370.0,662.2 L367.6,664.0Z M376.6,661.9 L388.8,653.4 L384.7,652.1 L372.5,660.5Z M380.3,655.6 L382.7,653.9 L378.6,652.6 L376.2,654.3Z M404.3,638.9 L406.7,637.2 L402.6,635.9 L400.3,637.6Z M237.8,750.5 L260.1,735.1 L255.8,733.6 L233.6,749.0Z M308.4,701.7 L326.5,689.1 L322.4,687.7 L304.2,700.3Z M334.2,683.8 L339.3,680.2 L335.2,678.9 L330.1,682.4Z M280.8,716.9 L288.8,711.4 L284.6,709.9 L276.6,715.5Z M302.0,702.2 L325.4,686.1 L321.2,684.7 L297.8,700.8Z M328.0,684.3 L333.1,680.8 L328.9,679.4 L323.8,682.9Z M363.1,660.0 L365.6,658.3 L361.5,657.0 L359.0,658.7Z M295.6,702.8 L306.1,695.5 L302.0,694.2 L291.5,701.4Z M316.5,688.4 L319.1,686.6 L315.0,685.2 L312.4,687.0Z M391.1,637.1 L395.8,633.8 L391.8,632.5 L387.0,635.8Z M251.5,729.3 L267.8,718.0 L263.6,716.6 L247.2,727.8Z M320.5,681.8 L323.1,680.1 L319.0,678.7 L316.4,680.5Z M385.0,637.6 L387.4,635.9 L383.4,634.6 L381.0,636.3Z M233.8,737.5 L255.9,722.4 L251.7,720.9 L229.6,736.0Z M303.9,689.5 L327.1,673.6 L323.0,672.3 L299.8,688.1Z M329.6,671.9 L362.0,649.7 L358.0,648.4 L325.5,670.5Z M383.8,634.8 L386.2,633.1 L382.2,631.9 L379.8,633.5Z M297.6,690.0 L338.6,662.1 L334.5,660.7 L293.5,688.6Z M348.5,655.3 L358.4,648.5 L354.3,647.2 L344.5,653.9Z M377.8,635.3 L385.0,630.4 L381.0,629.1 L373.8,634.0Z M347.4,652.4 L354.8,647.4 L350.7,646.1 L343.3,651.1Z M376.6,632.5 L381.4,629.2 L377.4,627.9 L372.6,631.2Z M241.9,720.4 L252.9,712.9 L248.7,711.5 L237.7,718.9Z M305.8,677.0 L336.3,656.3 L332.2,655.0 L301.7,675.6Z M341.2,652.9 L351.1,646.2 L347.1,644.9 L337.2,651.6Z M218.7,732.2 L224.3,728.5 L220.1,727.0 L214.5,730.8Z M246.4,713.5 L254.6,708.0 L250.4,706.6 L242.2,712.1Z M304.7,674.0 L337.6,651.7 L333.6,650.4 L300.6,672.7Z M350.0,643.4 L364.6,633.5 L360.6,632.2 L345.9,642.1Z M298.5,674.5 L336.5,648.9 L332.4,647.6 L294.4,673.2Z M353.7,637.2 L356.2,635.6 L352.1,634.3 L349.7,635.9Z M358.6,633.9 L361.0,632.3 L357.0,631.0 L354.6,632.7Z M265.9,692.8 L268.6,691.0 L264.5,689.6 L261.8,691.4Z M204.6,730.2 L207.5,728.3 L203.3,726.9 L200.5,728.8Z M301.5,665.2 L306.6,661.8 L302.5,660.4 L297.4,663.9Z M356.3,628.4 L361.1,625.2 L357.1,623.9 L352.3,627.1Z M192.4,734.6 L206.5,725.1 L202.4,723.7 L188.2,733.1Z M237.0,704.7 L250.5,695.7 L246.4,694.3 L232.8,703.3Z M315.6,652.1 L323.1,647.0 L319.1,645.7 L311.6,650.8Z M289.0,666.2 L296.8,661.1 L292.7,659.8 L285.0,664.9Z M223.1,702.8 L228.6,699.1 L224.5,697.7 L219.0,701.4Z M255.5,681.3 L281.8,663.8 L277.7,662.5 L251.5,679.9Z M216.7,703.3 L222.2,699.7 L218.1,698.3 L212.6,701.9Z M259.8,674.8 L267.7,669.6 L263.7,668.2 L255.8,673.4Z M270.3,667.8 L283.3,659.2 L279.3,657.9 L266.3,666.5Z M305.2,641.2 L307.7,639.6 L303.7,638.3 L301.2,639.9Z M198.2,708.1 L217.6,695.4 L213.5,694.0 L194.1,706.7Z M196.4,701.9 L213.0,691.1 L208.9,689.7 L192.3,700.5Z M266.3,656.2 L271.5,652.8 L267.5,651.5 L262.3,654.9Z M233.7,673.9 L254.9,660.1 L250.9,658.8 L229.7,672.6Z M155.1,721.6 L163.7,716.0 L159.6,714.5 L151.0,720.1Z M227.4,674.5 L251.3,658.9 L247.3,657.6 L223.4,673.1Z M279.7,640.4 L289.9,633.8 L285.9,632.5 L275.7,639.1Z M193.8,692.8 L207.5,683.8 L203.5,682.4 L189.7,691.4Z M273.6,640.9 L286.3,632.6 L282.3,631.3 L269.6,639.6Z M303.8,621.2 L321.0,610.1 L317.1,608.8 L299.9,620.0Z M147.7,719.0 L176.2,700.5 L172.1,699.1 L143.6,717.5Z M267.5,641.4 L285.3,629.8 L281.3,628.6 L263.5,640.1Z M158.4,708.4 L172.5,699.3 L168.5,697.9 L154.3,707.0Z M251.0,648.6 L266.5,638.6 L262.5,637.3 L247.0,647.3Z M306.7,612.6 L314.0,607.8 L310.1,606.6 L302.7,611.3Z M185.6,687.2 L191.2,683.7 L187.1,682.3 L181.6,685.9Z M255.2,642.4 L257.8,640.7 L253.8,639.4 L251.2,641.1Z M173.7,691.4 L187.5,682.4 L183.5,681.1 L169.6,690.0Z M201.2,673.6 L206.6,670.2 L202.6,668.8 L197.2,672.3Z M233.4,653.0 L241.2,647.9 L237.3,646.6 L229.4,651.7Z M304.6,607.2 L307.0,605.6 L303.1,604.4 L300.7,606.0Z M133.0,713.8 L141.7,708.3 L137.6,706.9 L128.9,712.4Z M232.4,650.1 L235.0,648.4 L231.1,647.1 L228.4,648.8Z M253.3,636.7 L276.2,622.0 L272.3,620.8 L249.3,635.5Z M231.5,647.3 L275.2,619.3 L271.3,618.0 L227.5,645.9Z M297.6,605.0 L300.0,603.4 L296.2,602.2 L293.7,603.7Z M160.0,689.4 L171.2,682.3 L167.1,680.9 L155.9,688.0Z M193.2,668.3 L274.2,616.6 L270.3,615.3 L189.1,666.9Z M281.7,611.8 L291.6,605.4 L287.8,604.2 L277.8,610.5Z M159.2,686.4 L164.8,682.8 L160.7,681.5 L155.1,685.0Z M186.8,668.8 L288.2,604.3 L284.3,603.1 L182.8,667.4Z M180.5,669.3 L183.3,667.6 L179.3,666.2 L176.5,668.0Z M186.0,665.9 L188.7,664.1 L184.7,662.8 L182.0,664.5Z M191.4,662.4 L199.5,657.3 L195.6,655.9 L187.4,661.1Z M212.9,648.8 L249.4,625.6 L245.5,624.3 L208.9,647.5Z M269.7,612.7 L284.7,603.2 L280.8,602.0 L265.8,611.5Z M179.7,666.4 L182.4,664.6 L178.4,663.3 L175.7,665.0Z M227.8,635.9 L243.4,626.1 L239.4,624.8 L223.9,634.6Z M268.8,610.0 L281.2,602.1 L277.3,600.9 L264.9,608.8Z M173.4,666.9 L181.6,661.7 L177.6,660.4 L169.4,665.6Z M262.8,610.5 L277.7,601.0 L273.9,599.8 L258.9,609.2Z M110.4,703.1 L113.3,701.3 L109.3,699.8 L106.4,701.7Z M127.7,692.2 L139.1,685.0 L135.1,683.6 L123.7,690.8Z M144.8,681.5 L158.7,672.7 L154.7,671.3 L140.7,680.1Z M226.0,630.3 L231.2,627.1 L227.3,625.8 L222.1,629.0Z M103.9,703.6 L109.7,700.0 L105.7,698.6 L99.8,702.2Z M121.2,692.7 L157.9,669.7 L154.0,668.3 L117.2,691.3Z M245.7,614.6 L275.8,595.7 L271.9,594.5 L241.8,613.4Z M154.4,668.5 L168.2,659.9 L164.2,658.5 L150.4,667.1Z M219.0,628.0 L224.2,624.8 L220.3,623.5 L215.1,626.8Z M244.7,611.9 L267.4,597.7 L263.5,596.5 L240.9,610.7Z M153.6,665.5 L167.4,656.9 L163.4,655.6 L149.6,664.2Z M212.9,628.5 L223.3,622.0 L219.4,620.7 L209.0,627.2Z M253.9,602.9 L258.9,599.7 L255.1,598.5 L250.1,601.6Z M152.8,662.6 L163.8,655.8 L159.9,654.4 L148.8,661.3Z M212.0,625.7 L219.8,620.9 L215.9,619.6 L208.1,624.5Z M222.4,619.3 L225.0,617.7 L221.1,616.4 L218.5,618.0Z M112.6,684.2 L129.7,673.6 L125.7,672.2 L108.6,682.8Z M205.9,626.2 L211.1,623.0 L207.2,621.7 L202.0,625.0Z M216.3,619.7 L226.7,613.3 L222.8,612.1 L212.4,618.5Z M215.4,617.0 L225.8,610.6 L221.9,609.4 L211.6,615.7Z M82.2,696.1 L85.2,694.3 L81.2,692.9 L78.2,694.7Z M105.5,681.7 L136.6,662.5 L132.7,661.1 L101.5,680.3Z M172.3,640.4 L185.7,632.1 L181.8,630.8 L168.4,639.1Z M214.6,614.3 L222.3,609.5 L218.4,608.2 L210.7,613.0Z M250.2,592.3 L255.2,589.2 L251.3,588.0 L246.4,591.0Z M99.0,682.3 L107.6,676.9 L103.7,675.6 L95.0,680.9Z M160.6,644.3 L176.8,634.3 L172.9,633.0 L156.7,643.0Z M75.1,693.6 L78.0,691.8 L74.0,690.4 L71.1,692.2Z M92.6,682.8 L106.9,674.0 L103.0,672.6 L88.6,681.4Z M132.3,658.3 L135.1,656.6 L131.2,655.3 L128.4,657.0Z M154.4,644.8 L170.7,634.8 L166.8,633.5 L150.5,643.5Z M148.2,645.3 L167.2,633.6 L163.3,632.3 L144.2,644.0Z M185.8,622.2 L193.7,617.3 L189.9,616.1 L182.0,620.9Z M217.1,603.0 L229.8,595.2 L226.0,594.0 L213.3,601.8Z M232.4,593.6 L244.9,585.9 L241.1,584.7 L228.5,592.4Z M73.8,687.5 L79.6,683.9 L75.6,682.5 L69.8,686.1Z M179.7,622.6 L187.7,617.8 L183.8,616.5 L175.9,621.4Z M205.9,606.6 L239.0,586.4 L235.2,585.2 L202.1,605.4Z M84.8,677.3 L99.2,668.6 L95.2,667.2 L80.8,676.0Z M205.1,603.9 L220.5,594.5 L216.6,593.3 L201.2,602.7Z M225.5,591.4 L233.1,586.8 L229.3,585.6 L221.7,590.2Z M134.9,643.4 L148.6,635.1 L144.7,633.8 L131.0,642.1Z M151.3,633.4 L178.1,617.1 L174.3,615.9 L147.4,632.2Z M77.7,674.9 L83.5,671.4 L79.5,670.0 L73.7,673.5Z M111.9,654.1 L123.1,647.3 L119.2,646.0 L108.0,652.8Z M134.2,640.6 L142.4,635.6 L138.5,634.3 L130.3,639.3Z M198.2,601.7 L213.6,592.4 L209.8,591.1 L194.4,600.5Z M228.8,583.1 L231.3,581.6 L227.5,580.4 L225.0,581.9Z M53.7,686.1 L59.6,682.5 L55.6,681.1 L49.7,684.7Z M77.1,671.9 L80.0,670.2 L76.0,668.8 L73.1,670.5Z M127.9,641.1 L138.9,634.4 L135.1,633.1 L124.1,639.8Z M165.9,618.1 L168.6,616.5 L164.7,615.2 L162.1,616.8Z M171.2,614.9 L181.8,608.5 L177.9,607.2 L167.4,613.6Z M212.8,589.7 L220.4,585.1 L216.6,583.9 L209.0,588.5Z M222.9,583.6 L227.9,580.5 L224.2,579.3 L219.1,582.4Z M121.7,641.6 L135.5,633.3 L131.6,632.0 L117.8,640.3Z M222.0,581.0 L224.6,579.5 L220.8,578.3 L218.3,579.8Z M148.3,622.3 L161.7,614.2 L157.9,613.0 L144.4,621.0Z M164.3,612.6 L177.5,604.7 L173.7,603.4 L160.5,611.4Z M185.4,600.0 L193.1,595.3 L189.3,594.1 L181.6,598.7Z M158.3,613.1 L171.5,605.2 L167.7,603.9 L154.4,611.9Z" fill="#858585"/>
<path d="M364.9,737.2 L385.5,722.1 L381.2,720.7 L360.6,735.7Z M405.6,707.4 L418.0,698.3 L413.8,696.9 L401.4,706.0Z M439.8,682.3 L444.6,678.8 L440.4,677.5 L435.6,681.0Z M310.3,772.9 L326.6,761.0 L322.3,759.5 L305.9,771.4Z M325.4,757.7 L336.1,749.9 L331.8,748.4 L321.1,756.2Z M388.0,712.2 L390.5,710.3 L386.3,708.9 L383.7,710.7Z M393.0,708.5 L408.0,697.6 L403.7,696.2 L388.8,707.1Z M302.5,770.2 L316.1,760.3 L311.8,758.8 L298.1,768.6Z M318.8,758.3 L334.9,746.6 L330.6,745.1 L314.5,756.8Z M361.2,727.6 L371.5,720.1 L367.2,718.7 L356.9,726.1Z M295.8,770.8 L306.8,762.9 L302.4,761.3 L291.4,769.3Z M317.6,755.0 L331.1,745.3 L326.7,743.8 L313.3,753.5Z M354.7,728.2 L367.6,718.8 L363.4,717.4 L350.5,726.7Z M405.3,691.6 L412.7,686.2 L408.5,684.9 L401.1,690.2Z M424.8,677.5 L446.3,662.0 L442.1,660.6 L420.6,676.1Z M316.5,751.7 L327.2,744.0 L322.9,742.5 L312.1,750.2Z M348.3,728.8 L368.9,713.9 L364.7,712.4 L344.0,727.3Z M389.2,699.3 L408.9,685.0 L404.7,683.7 L384.9,697.9Z M437.8,664.2 L442.6,660.8 L438.4,659.4 L433.7,662.9Z M286.9,764.7 L332.8,731.8 L328.5,730.4 L282.5,763.2Z M307.6,745.8 L328.9,730.5 L324.7,729.1 L303.3,744.3Z M279.1,762.0 L298.3,748.3 L294.0,746.8 L274.8,760.5Z M347.4,709.4 L352.5,705.7 L348.3,704.3 L343.2,707.9Z M387.8,680.7 L390.2,678.9 L386.1,677.6 L383.6,679.3Z M298.8,739.9 L309.5,732.3 L305.2,730.8 L294.5,738.4Z M341.0,709.9 L351.3,702.6 L347.1,701.2 L336.8,708.5Z M406.0,663.9 L427.5,648.7 L423.4,647.4 L401.9,662.5Z M297.6,736.7 L300.3,734.8 L296.1,733.3 L293.4,735.2Z M390.2,671.3 L402.3,662.7 L398.2,661.4 L386.0,669.9Z M269.2,752.7 L291.1,737.3 L286.8,735.8 L264.9,751.2Z M333.5,707.4 L343.8,700.1 L339.6,698.7 L329.3,706.0Z M257.0,757.2 L265.4,751.4 L261.1,749.9 L252.7,755.7Z M382.8,668.9 L392.5,662.0 L388.4,660.7 L378.6,667.5Z M416.5,645.2 L421.2,641.8 L417.2,640.6 L412.4,643.9Z M249.3,754.5 L274.2,737.1 L270.0,735.7 L245.0,753.0Z M375.4,666.5 L394.9,652.9 L390.8,651.6 L371.3,665.1Z M404.4,646.2 L413.9,639.5 L409.9,638.2 L400.4,644.9Z M323.7,698.7 L328.8,695.1 L324.7,693.7 L319.5,697.3Z M403.2,643.3 L410.3,638.4 L406.3,637.1 L399.1,642.0Z M241.7,751.9 L266.6,734.5 L262.4,733.1 L237.4,750.4Z M312.1,702.9 L327.7,692.1 L323.5,690.7 L307.9,701.5Z M363.1,667.5 L375.4,659.0 L371.3,657.6 L358.9,666.2Z M361.9,664.6 L369.3,659.5 L365.2,658.2 L357.8,663.3Z M234.0,749.2 L236.8,747.2 L232.6,745.7 L229.7,747.7Z M277.0,715.6 L287.7,708.2 L283.5,706.8 L272.8,714.2Z M354.5,662.2 L366.9,653.7 L362.8,652.4 L350.4,660.9Z M275.9,712.5 L286.6,705.2 L282.4,703.7 L271.7,711.1Z M312.8,687.2 L318.0,683.6 L313.9,682.2 L308.7,685.8Z M343.4,666.2 L365.7,650.9 L361.6,649.6 L339.3,664.8Z M225.4,743.2 L228.2,741.3 L224.0,739.8 L221.2,741.8Z M218.8,743.9 L221.6,741.9 L217.4,740.4 L214.6,742.4Z M241.2,728.6 L252.2,721.1 L248.0,719.6 L237.0,727.1Z M284.5,699.0 L289.7,695.4 L285.6,694.0 L280.3,697.6Z M240.2,725.4 L253.9,716.1 L249.7,714.6 L236.0,723.9Z M293.9,688.8 L332.4,662.6 L328.3,661.3 L289.8,687.4Z M215.0,730.9 L217.8,729.0 L213.6,727.6 L210.8,729.5Z M242.7,712.2 L258.9,701.2 L254.8,699.8 L238.5,710.8Z M241.7,709.1 L257.9,698.2 L253.8,696.8 L237.5,707.7Z M300.0,669.9 L332.9,647.7 L328.8,646.4 L295.9,668.5Z M240.7,706.0 L254.2,696.9 L250.1,695.5 L236.5,704.6Z M314.2,656.6 L329.3,646.5 L325.2,645.2 L310.1,655.3Z M277.1,677.9 L282.3,674.4 L278.2,673.0 L273.0,676.5Z M347.8,630.5 L359.9,622.4 L356.0,621.1 L343.8,629.2Z M188.6,733.3 L202.8,723.8 L198.6,722.4 L184.4,731.8Z M233.3,703.5 L249.5,692.6 L245.4,691.2 L229.1,702.1Z M270.8,678.4 L283.9,669.7 L279.8,668.4 L266.7,677.1Z M351.5,624.5 L356.4,621.3 L352.4,620.0 L347.6,623.2Z M226.8,704.0 L251.2,687.8 L247.1,686.4 L222.7,702.6Z M264.5,679.0 L280.2,668.5 L276.2,667.2 L260.4,677.6Z M285.4,665.0 L288.0,663.3 L283.9,662.0 L281.3,663.7Z M231.3,697.3 L234.1,695.5 L230.0,694.1 L227.2,695.9Z M236.8,693.7 L250.2,684.8 L246.1,683.4 L232.7,692.3Z M308.8,642.4 L313.8,639.1 L309.8,637.8 L304.8,641.1Z M328.6,629.2 L331.1,627.6 L327.1,626.3 L324.7,627.9Z M207.5,705.7 L218.5,698.5 L214.4,697.1 L203.4,704.3Z M271.9,663.2 L284.8,654.6 L280.8,653.3 L267.9,661.8Z M327.5,626.4 L330.0,624.8 L326.0,623.5 L323.6,625.2Z M270.9,660.3 L283.8,651.8 L279.8,650.4 L266.9,658.9Z M200.1,703.2 L216.7,692.3 L212.6,691.0 L196.0,701.8Z M269.9,657.4 L280.2,650.6 L276.2,649.3 L265.9,656.0Z M242.7,671.7 L255.9,663.0 L251.8,661.7 L238.6,670.3Z M319.4,621.4 L329.1,615.0 L325.2,613.8 L315.4,620.2Z M158.8,722.9 L161.7,721.0 L157.6,719.5 L154.7,721.4Z M192.8,700.7 L212.1,688.1 L208.0,686.7 L188.7,699.3Z M308.4,625.1 L328.1,612.3 L324.1,611.0 L304.5,623.9Z M191.9,697.6 L208.4,686.8 L204.4,685.5 L187.8,696.2Z M302.4,625.6 L324.5,611.2 L320.6,609.9 L298.4,624.3Z M151.4,720.3 L177.0,703.6 L173.0,702.2 L147.3,718.8Z M218.4,676.8 L221.1,675.0 L217.0,673.6 L214.3,675.4Z M234.5,666.3 L245.1,659.4 L241.0,658.1 L230.4,665.0Z M195.7,687.9 L201.2,684.4 L197.1,683.0 L191.6,686.5Z M212.1,677.3 L220.2,672.0 L216.1,670.7 L208.0,675.9Z M228.2,666.8 L236.2,661.7 L232.2,660.3 L224.2,665.5Z M305.2,616.9 L317.5,609.0 L313.6,607.7 L301.3,615.7Z M144.1,717.7 L149.8,714.0 L145.7,712.5 L139.9,716.3Z M211.2,674.3 L235.2,658.8 L231.2,657.4 L207.1,673.0Z M279.2,630.3 L294.3,620.6 L290.3,619.3 L275.3,629.1Z M160.4,703.5 L166.1,699.8 L162.0,698.4 L156.3,702.1Z M204.8,674.9 L213.0,669.6 L208.9,668.3 L200.8,673.5Z M236.9,654.2 L242.2,650.8 L238.2,649.5 L232.9,652.8Z M278.2,627.6 L293.2,617.9 L289.3,616.6 L274.3,626.3Z M136.7,715.1 L142.5,711.4 L138.4,710.0 L132.6,713.7Z M159.6,700.4 L162.4,698.6 L158.4,697.2 L155.5,699.0Z M272.1,628.0 L292.2,615.1 L288.3,613.9 L268.2,626.8Z M158.8,697.3 L183.9,681.2 L179.9,679.8 L154.7,695.9Z M197.6,672.4 L205.8,667.2 L201.7,665.9 L193.6,671.1Z M301.1,606.1 L303.5,604.5 L299.6,603.3 L297.2,604.8Z M129.4,712.6 L135.1,708.9 L131.1,707.4 L125.3,711.1Z M158.0,694.3 L177.5,681.8 L173.5,680.4 L153.9,692.9Z M196.7,669.5 L220.9,654.0 L216.9,652.7 L192.7,668.1Z M155.6,685.2 L163.9,679.8 L159.9,678.5 L151.5,683.8Z M166.7,678.1 L175.0,672.8 L171.0,671.5 L162.7,676.7Z M252.0,624.0 L262.2,617.5 L258.3,616.3 L248.1,622.7Z M187.9,661.2 L190.6,659.5 L186.6,658.2 L183.9,659.9Z M214.7,644.2 L219.9,640.9 L216.0,639.6 L210.7,642.9Z M224.3,634.8 L237.3,626.6 L233.4,625.3 L220.4,633.5Z M169.8,665.7 L175.3,662.2 L171.3,660.9 L165.8,664.4Z M254.2,612.5 L274.3,599.9 L270.4,598.7 L250.3,611.3Z M163.5,666.2 L171.7,661.0 L167.7,659.7 L159.5,664.9Z M117.6,691.5 L151.6,670.2 L147.6,668.9 L113.6,690.1Z M116.9,688.4 L142.4,672.5 L138.4,671.1 L112.9,687.1Z M246.3,607.6 L251.4,604.5 L247.5,603.2 L242.5,606.4Z M116.2,685.4 L136.1,673.0 L132.1,671.7 L112.2,684.0Z M193.5,637.3 L198.8,633.9 L194.9,632.7 L189.6,636.0Z M182.0,641.1 L198.0,631.1 L194.1,629.9 L178.1,639.8Z M109.0,682.9 L137.4,665.4 L133.4,664.0 L105.0,681.6Z M181.2,638.2 L191.8,631.6 L187.9,630.3 L177.2,636.9Z M253.6,593.3 L258.6,590.3 L254.8,589.0 L249.8,592.1Z M142.2,659.0 L147.7,655.6 L143.8,654.3 L138.2,657.7Z M196.3,625.6 L204.1,620.7 L200.3,619.4 L192.4,624.3Z M78.6,694.8 L81.6,693.0 L77.6,691.6 L74.6,693.4Z M124.7,666.4 L130.3,663.0 L126.3,661.6 L120.7,665.1Z M190.1,626.1 L200.7,619.6 L196.8,618.3 L186.3,624.8Z M246.8,591.2 L251.7,588.1 L247.9,586.9 L242.9,590.0Z M123.9,663.5 L129.5,660.1 L125.6,658.7 L120.0,662.2Z M189.3,623.3 L197.2,618.4 L193.3,617.2 L185.4,622.0Z M225.6,601.0 L230.7,597.8 L226.9,596.6 L221.8,599.7Z M240.8,591.6 L248.3,587.0 L244.5,585.8 L237.0,590.4Z M89.0,681.6 L103.4,672.7 L99.4,671.4 L85.0,680.2Z M117.6,664.0 L137.1,652.0 L133.2,650.7 L113.6,662.7Z M82.5,682.1 L105.5,668.0 L101.6,666.7 L78.6,680.7Z M111.2,664.6 L114.0,662.8 L110.1,661.5 L107.3,663.2Z M116.9,661.1 L166.4,630.8 L162.5,629.5 L112.9,659.8Z M70.2,686.2 L76.1,682.7 L72.1,681.3 L66.2,684.8Z M121.8,654.8 L181.6,618.3 L177.7,617.0 L117.8,653.4Z M63.7,686.8 L72.5,681.4 L68.5,680.0 L59.7,685.4Z M81.2,676.1 L89.9,670.8 L85.9,669.5 L77.3,674.7Z M115.5,655.3 L129.4,646.8 L125.5,645.5 L111.5,653.9Z M201.6,602.8 L217.0,593.4 L213.2,592.2 L197.8,601.6Z M57.2,687.3 L66.0,682.0 L62.1,680.6 L53.2,685.9Z M158.7,625.7 L174.7,616.0 L170.8,614.8 L154.8,624.5Z M194.8,600.6 L200.0,597.5 L196.2,596.2 L191.0,599.4Z M50.1,684.8 L59.0,679.5 L55.0,678.1 L46.2,683.4Z M157.1,620.2 L162.5,617.0 L158.6,615.7 L153.3,618.9Z M167.8,613.8 L181.0,605.8 L177.1,604.6 L163.9,612.5Z M188.8,601.1 L199.1,594.8 L195.3,593.6 L185.0,599.8Z M209.4,588.6 L217.0,584.0 L213.2,582.8 L205.6,587.4Z M49.5,681.8 L55.4,678.3 L51.5,676.9 L45.6,680.4Z M101.4,650.5 L107.1,647.1 L103.2,645.8 L97.5,649.2Z M118.2,640.4 L129.3,633.8 L125.4,632.5 L114.3,639.1Z M48.9,678.8 L57.8,673.5 L53.8,672.1 L45.0,677.4Z M100.8,647.7 L106.4,644.3 L102.5,643.0 L96.9,646.3Z M144.8,621.2 L155.6,614.7 L151.8,613.5 L141.0,619.9Z M182.0,598.9 L189.7,594.2 L186.0,593.0 L178.2,597.6Z" fill="#888"/>
<path d="M323.1,780.3 L27.3,676.8 M339.0,768.5 L44.6,666.5 M354.8,756.9 L61.7,656.4 M370.2,745.5 L78.6,646.4 M385.4,734.3 L95.2,636.5 M400.4,723.2 L111.5,626.8 M415.1,712.4 L127.6,617.2 M429.6,701.7 L143.4,607.8 M443.9,691.1 L159.1,598.5 M457.9,680.8 L174.4,589.4 M471.8,670.5 L189.6,580.4 M485.4,660.5 L204.5,571.5 M303.4,782.2 L487.9,647.1 M280.3,774.1 L466.2,640.3 M257.4,766.1 L444.7,633.6 M234.7,758.1 L423.4,626.9 M212.2,750.2 L402.3,620.2 M190.0,742.3 L381.3,613.6 M167.9,734.6 L360.5,607.1 M146.0,726.9 L339.8,600.6 M124.3,719.3 L319.3,594.2 M102.7,711.7 L299.0,587.8 M81.4,704.2 L278.8,581.5 M60.3,696.7 L258.8,575.2 M39.3,689.4 L239.0,568.9" fill="none" stroke="#242424" stroke-width="0.7"/>
</g>
<defs><clipPath id="wcfacies"><path d="M0,480 L33.8,627.4 L33.8,627.4 C37.4,628.5 47.5,631.0 55.4,633.7 C63.2,636.5 72.4,639.2 80.9,643.9 C89.4,648.6 97.8,655.4 106.3,661.7 C114.8,668.1 124.4,676.2 131.7,682.0 C139.0,687.8 143.4,691.1 150.0,696.3 C156.6,701.5 164.1,707.6 171.2,713.2 C178.3,718.9 185.3,724.9 192.4,730.2 C199.5,735.5 205.7,739.7 213.6,745.0 C221.5,750.3 231.7,757.0 240.0,762.0 C248.3,767.0 256.1,770.8 263.7,774.7 C271.3,778.6 278.7,781.9 285.6,785.3 C292.5,788.7 302.0,793.5 305.3,795.1 L334.9,778.1 C338.8,775.3 352.8,765.4 358.6,761.2 C364.5,757.0 365.3,756.0 370.0,752.8 C374.7,749.5 379.8,746.7 386.9,741.7 C394.0,736.7 404.3,729.4 412.4,722.6 C420.5,715.8 428.5,708.0 435.7,700.9 C442.9,693.8 452.4,683.2 455.8,679.7 L476,660 L476,480 Z"/></clipPath></defs>
<g clip-path="url(#wcfacies)">
<polygon points="229.0,569.5 259.2,558.2 259.2,596.0 229.0,611.0" fill="#484848"/>
<path d="M229.0,569.5 L232.8,568.1 L232.8,569.6 L229.0,571.0Z M229.0,573.6 L235.7,571.0 L235.7,572.5 L229.0,575.2Z M258.3,569.9 L259.2,569.5 L259.2,571.0 L258.3,571.3Z M229.0,593.0 L231.9,591.7 L231.9,594.6 L229.0,595.9Z M248.0,592.4 L255.0,589.2 L255.0,590.6 L248.0,593.9Z" fill="#a9a9a9"/>
<path d="M229.0,570.9 L258.2,559.8 L258.2,562.4 L229.0,573.7Z M229.0,579.2 L235.3,576.6 L235.3,579.4 L229.0,582.0Z" fill="#9e9e9e"/>
<path d="M247.1,565.4 L259.2,560.7 L259.2,562.1 L247.1,566.8Z M229.0,575.0 L250.0,566.8 L250.0,568.3 L229.0,576.6Z M229.0,594.4 L239.1,589.9 L239.1,592.7 L229.0,597.2Z M229.0,595.8 L233.8,593.6 L233.8,595.1 L229.0,597.3Z M229.0,597.2 L237.1,593.5 L237.1,595.0 L229.0,598.7Z M229.0,598.5 L233.4,596.5 L233.4,598.0 L229.0,600.1Z M229.0,606.9 L237.4,602.8 L237.4,604.3 L229.0,608.4Z" fill="#8a8a8a"/>
<path d="M240.9,573.0 L259.2,565.8 L259.2,567.2 L240.9,574.5Z M229.0,580.6 L248.3,572.7 L248.3,575.4 L229.0,583.4Z M252.5,578.7 L259.2,575.8 L259.2,577.2 L252.5,580.2Z M229.0,591.6 L250.4,582.2 L250.4,583.7 L229.0,593.2Z M229.0,604.1 L253.5,592.4 L253.5,593.8 L229.0,605.6Z" fill="#949494"/>
<path d="M229.0,583.3 L256.5,571.9 L256.5,573.4 L229.0,584.9Z M229.0,584.7 L238.2,580.9 L238.2,582.3 L229.0,586.2Z M250.8,592.4 L259.2,588.4 L259.2,589.9 L250.8,593.8Z M229.0,605.5 L237.8,601.2 L237.8,602.7 L229.0,607.0Z M229.0,608.2 L254.6,595.7 L254.6,597.2 L229.0,609.8Z M229.0,609.6 L240.0,604.2 L240.0,605.7 L229.0,611.1Z" fill="#b2b2b2"/>
<path d="M229.0,577.3 L259.2,565.3 M229.0,585.2 L259.2,572.5 M229.0,593.0 L259.2,579.6 M229.0,600.8 L259.2,586.7 M229.0,608.7 L259.2,593.9" fill="none" stroke="#262626" stroke-width="0.5"/>
<path d="M239.8,565.5 V605.6" fill="none" stroke="#1e1e1e" stroke-width="0.8"/>
<polyline points="229.0,569.5 259.2,558.2" fill="none" stroke="#3a3a3a" stroke-width="1.8"/>
<polygon points="316.3,593.9 341.7,580.1 341.7,620.0 316.3,637.0" fill="#484848"/>
<path d="M316.3,593.9 L322.2,590.7 L322.2,592.3 L316.3,595.5Z M316.3,596.8 L330.6,588.9 L330.6,590.4 L316.3,598.4Z M316.3,616.9 L338.5,603.4 L338.5,606.1 L316.3,619.8Z M331.5,610.4 L341.7,604.0 L341.7,605.5 L331.5,611.9Z M316.3,622.6 L341.7,606.7 L341.7,609.4 L316.3,625.6Z M338.6,610.0 L341.7,608.0 L341.7,609.5 L338.6,611.5Z" fill="#8a8a8a"/>
<path d="M316.3,595.3 L341.7,581.4 L341.7,582.9 L316.3,596.9Z M316.3,601.1 L321.8,598.0 L321.8,599.5 L316.3,602.7Z M316.3,605.4 L332.1,596.3 L332.1,597.8 L316.3,607.0Z M331.0,599.6 L341.7,593.4 L341.7,594.9 L331.0,601.2Z M316.3,609.7 L325.8,604.1 L325.8,605.6 L316.3,611.3Z M316.3,618.3 L340.7,603.3 L340.7,604.8 L316.3,619.9Z M316.3,632.7 L341.7,616.0 L341.7,617.5 L316.3,634.3Z" fill="#9e9e9e"/>
<path d="M316.3,598.2 L341.7,584.1 L341.7,586.8 L316.3,601.2Z" fill="#949494"/>
<path d="M316.3,599.6 L341.7,585.4 L341.7,586.9 L316.3,601.2Z M316.3,614.0 L338.5,600.7 L338.5,603.4 L316.3,617.0Z M316.3,625.5 L341.7,609.4 L341.7,610.8 L316.3,627.1Z M316.3,629.8 L319.5,627.8 L319.5,630.7 L316.3,632.8Z" fill="#b2b2b2"/>
<path d="M316.3,602.5 L341.7,588.1 L341.7,589.6 L316.3,604.1Z M316.3,604.0 L338.1,591.5 L338.1,593.0 L316.3,605.5Z M316.3,611.1 L320.0,609.0 L320.0,610.5 L316.3,612.7Z M316.3,621.2 L341.7,605.4 L341.7,608.1 L316.3,624.1Z M316.3,631.3 L338.4,616.8 L338.4,618.3 L316.3,632.8Z" fill="#a9a9a9"/>
<path d="M316.3,602.0 L341.7,587.6 M316.3,610.2 L341.7,595.2 M316.3,618.3 L341.7,602.7 M316.3,626.4 L341.7,610.2 M316.3,634.6 L341.7,617.7" fill="none" stroke="#262626" stroke-width="0.5"/>
<path d="M327.1,588.0 V629.8" fill="none" stroke="#1e1e1e" stroke-width="0.8"/>
<polyline points="316.3,593.9 341.7,580.1" fill="none" stroke="#3a3a3a" stroke-width="1.8"/>
<polygon points="403.0,614.9 425.4,601.0 425.4,650.0 403.0,665.0" fill="#484848"/>
<path d="M403.0,614.9 L420.7,603.9 L420.7,607.2 L403.0,618.3Z M403.0,621.5 L407.0,619.1 L407.0,622.5 L403.0,625.0Z M403.0,643.3 L416.6,634.5 L416.6,637.8 L403.0,646.7Z" fill="#a9a9a9"/>
<path d="M403.0,618.2 L425.4,604.3 L425.4,606.0 L403.0,620.0Z M403.0,624.9 L425.4,610.8 L425.4,614.1 L403.0,628.3Z M403.0,628.2 L409.3,624.3 L409.3,626.1 L403.0,630.1Z M420.4,630.3 L425.4,627.1 L425.4,628.9 L420.4,632.1Z M403.0,644.9 L423.0,632.0 L423.0,635.3 L403.0,648.4Z M421.2,634.8 L425.4,632.0 L425.4,635.4 L421.2,638.1Z M403.0,650.0 L409.7,645.6 L409.7,648.9 L403.0,653.4Z M403.0,661.7 L420.2,650.2 L420.2,652.0 L403.0,663.5Z" fill="#9e9e9e"/>
<path d="M403.0,619.9 L413.6,613.3 L413.6,616.6 L403.0,623.3Z M420.3,618.9 L425.4,615.7 L425.4,617.5 L420.3,620.7Z M403.0,655.0 L425.4,640.2 L425.4,642.0 L403.0,656.8Z M403.0,660.0 L425.4,645.1 L425.4,646.9 L403.0,661.8Z" fill="#949494"/>
<path d="M403.0,626.6 L403.6,626.2 L403.6,628.0 L403.0,628.4Z M403.0,633.2 L425.4,619.0 L425.4,620.8 L403.0,635.1Z M403.0,651.6 L418.0,641.8 L418.0,643.6 L403.0,653.5Z M403.0,653.3 L425.4,638.6 L425.4,640.4 L403.0,655.1Z M403.0,663.3 L425.4,648.4 L425.4,650.1 L403.0,665.1Z" fill="#8a8a8a"/>
<path d="M403.0,631.6 L419.6,621.0 L419.6,624.4 L403.0,635.0Z M403.0,636.6 L425.4,622.2 L425.4,624.0 L403.0,638.4Z" fill="#b2b2b2"/>
<path d="M403.0,624.3 L425.4,610.2 M403.0,633.8 L425.4,619.5 M403.0,643.2 L425.4,628.7 M403.0,652.7 L425.4,638.0 M403.0,662.2 L425.4,647.2" fill="none" stroke="#262626" stroke-width="0.5"/>
<path d="M413.8,608.2 V657.8" fill="none" stroke="#1e1e1e" stroke-width="0.8"/>
<polyline points="403.0,614.9 425.4,601.0" fill="none" stroke="#3a3a3a" stroke-width="1.8"/>
<polygon points="183.8,555.9 229.0,567.5 259.2,574.6 316.3,592.8 354.4,601.3 403.0,613.5 425.4,619.0 443.7,624.6 443.7,676.7 425.4,671.5 403.0,665.0 354.4,650.0 316.3,637.0 259.2,618.0 229.0,610.0 183.8,598.0" fill="#414141"/>
<path d="M183.8,555.9 L210.7,562.8 L210.7,565.7 L183.8,558.8Z M327.7,595.4 L354.4,601.3 L362.7,603.4 L362.7,606.7 L354.4,604.6 L327.7,598.5Z M183.8,558.7 L201.7,563.3 L201.7,566.2 L183.8,561.6Z M367.4,609.5 L384.3,613.9 L384.3,615.7 L367.4,611.3Z M183.8,561.5 L226.9,572.6 L226.9,574.2 L183.8,563.1Z M183.8,564.3 L185.6,564.8 L185.6,566.3 L183.8,565.9Z M318.1,603.6 L328.4,606.1 L328.4,607.8 L318.1,605.2Z M381.4,619.8 L403.0,625.5 L407.9,626.8 L407.9,628.6 L403.0,627.4 L381.4,621.6Z M263.9,587.7 L271.8,590.2 L271.8,591.8 L263.9,589.3Z M284.1,595.7 L316.3,606.1 L329.6,609.5 L329.6,611.2 L316.3,607.7 L284.1,597.3Z M183.8,571.3 L228.0,582.8 L228.0,585.7 L183.8,574.2Z M415.9,635.8 L425.4,638.2 L443.7,643.7 L443.7,645.6 L425.4,640.1 L415.9,637.7Z M272.3,597.7 L300.7,606.9 L300.7,609.9 L272.3,600.6Z M431.2,643.5 L439.7,646.0 L439.7,647.9 L431.2,645.4Z M226.3,588.0 L229.0,588.8 L234.3,590.1 L234.3,593.0 L229.0,591.7 L226.3,591.0Z M414.2,644.0 L425.4,647.0 L443.7,652.4 L443.7,655.9 L425.4,650.6 L414.2,647.5Z M340.9,625.0 L354.4,628.9 L358.6,630.1 L358.6,633.4 L354.4,632.2 L340.9,628.2Z M183.8,582.6 L218.4,591.6 L218.4,593.2 L183.8,584.1Z M241.4,600.4 L259.2,605.0 L266.5,607.4 L266.5,610.4 L259.2,608.0 L241.4,603.4Z M225.8,599.2 L229.0,600.1 L253.2,606.3 L253.2,607.9 L229.0,601.6 L225.8,600.8Z M337.5,636.5 L351.6,641.0 L351.6,642.7 L337.5,638.2Z M436.5,667.7 L443.7,669.8 L443.7,673.3 L436.5,671.2Z M387.7,655.2 L403.0,659.9 L425.4,666.2 L430.7,667.8 L430.7,669.7 L425.4,668.1 L403.0,661.7 L387.7,657.0Z M329.9,638.6 L354.4,646.8 L363.4,649.5 L363.4,652.8 L354.4,650.1 L329.9,641.7Z M380.4,656.4 L401.4,662.8 L401.4,664.6 L380.4,658.2Z" fill="#b4b4b4"/>
<path d="M282.8,582.1 L293.0,585.4 L293.0,588.4 L282.8,585.1Z M200.3,561.6 L229.0,568.9 L237.1,570.8 L237.1,573.8 L229.0,571.8 L200.3,564.5Z M183.8,560.1 L209.1,566.6 L209.1,568.2 L183.8,561.7Z M362.5,611.5 L371.7,613.9 L371.7,617.3 L362.5,614.9Z M437.3,631.4 L443.7,633.3 L443.7,635.2 L437.3,633.3Z M306.2,598.4 L316.3,601.6 L344.7,608.6 L344.7,610.4 L316.3,603.3 L306.2,600.0Z M183.8,565.7 L196.7,569.1 L196.7,570.6 L183.8,567.3Z M242.4,580.7 L259.2,584.7 L273.4,589.3 L273.4,590.9 L259.2,586.3 L242.4,582.2Z M183.8,568.5 L202.8,573.4 L202.8,576.3 L183.8,571.4Z M250.5,588.4 L259.2,590.5 L290.9,600.8 L290.9,603.8 L259.2,593.5 L250.5,591.3Z M409.1,635.7 L425.4,640.0 L443.7,645.4 L443.7,647.3 L425.4,641.9 L409.1,637.6Z M216.0,583.9 L229.0,587.3 L244.3,591.1 L244.3,594.1 L229.0,590.2 L216.0,586.8Z M363.8,626.6 L397.6,636.0 L397.6,637.9 L363.8,628.4Z M342.5,623.9 L354.4,627.3 L390.6,637.5 L390.6,639.3 L354.4,629.0 L342.5,625.6Z M268.7,605.2 L315.0,620.4 L315.0,622.0 L268.7,606.8Z M407.1,649.0 L425.4,654.0 L434.8,656.8 L434.8,658.6 L425.4,655.9 L407.1,650.8Z M357.6,636.3 L370.4,640.0 L370.4,641.8 L357.6,638.1Z M228.9,598.6 L229.0,598.7 L244.4,602.6 L244.4,605.6 L229.0,601.6 L228.9,601.5Z M277.7,612.5 L296.8,618.8 L296.8,620.4 L277.7,614.1Z M376.8,645.2 L403.0,653.0 L409.6,654.8 L409.6,656.7 L403.0,654.9 L376.8,647.1Z M341.6,639.3 L354.4,643.5 L386.6,653.2 L386.6,656.6 L354.4,646.8 L341.6,642.6Z M183.8,593.8 L188.1,594.9 L188.1,596.5 L183.8,595.3Z M282.8,621.5 L310.9,630.8 L310.9,632.4 L282.8,623.1Z M220.7,605.0 L229.0,607.2 L259.2,615.1 L266.0,617.4 L266.0,619.0 L259.2,616.7 L229.0,608.7 L220.7,606.5Z M183.8,596.6 L186.5,597.3 L186.5,598.9 L183.8,598.1Z" fill="#bebebe"/>
<path d="M412.6,615.9 L425.4,619.0 L443.7,624.6 L443.7,626.5 L425.4,620.9 L412.6,617.7Z M299.6,588.9 L309.2,592.0 L309.2,593.6 L299.6,590.6Z M337.4,600.6 L354.4,604.5 L383.9,612.1 L383.9,613.9 L354.4,606.3 L337.4,602.3Z M297.4,591.2 L316.3,597.2 L331.6,600.8 L331.6,602.5 L316.3,598.8 L297.4,592.8Z M408.5,621.7 L420.6,624.8 L420.6,626.7 L408.5,623.6Z M242.8,577.9 L259.2,581.8 L289.5,591.6 L289.5,594.6 L259.2,584.8 L242.8,580.8Z M201.9,569.0 L229.0,576.0 L249.4,580.9 L249.4,583.9 L229.0,578.9 L201.9,571.9Z M373.6,621.1 L394.0,626.5 L394.0,630.0 L373.6,624.5Z M384.3,625.6 L403.0,630.7 L425.4,636.5 L433.1,638.8 L433.1,642.4 L425.4,640.1 L403.0,634.2 L384.3,629.0Z M245.4,588.5 L259.2,592.0 L263.6,593.4 L263.6,596.4 L259.2,594.9 L245.4,591.5Z M183.8,574.1 L207.6,580.4 L207.6,583.3 L183.8,577.0Z M310.7,614.5 L316.3,616.4 L322.4,618.1 L322.4,619.8 L316.3,618.0 L310.7,616.2Z M234.3,592.9 L257.0,598.6 L257.0,600.2 L234.3,594.5Z M421.4,647.7 L425.4,648.8 L429.9,650.1 L429.9,653.6 L425.4,652.3 L421.4,651.2Z M402.9,644.4 L403.0,644.4 L425.4,650.5 L437.2,654.0 L437.2,655.9 L425.4,652.4 L403.0,646.3 L402.9,646.3Z M334.5,627.8 L354.4,633.8 L373.8,639.4 L373.8,641.2 L354.4,635.5 L334.5,629.4Z M183.8,585.4 L206.8,591.4 L206.8,594.3 L183.8,588.3Z M420.3,654.3 L425.4,655.8 L443.7,661.1 L443.7,663.0 L425.4,657.6 L420.3,656.2Z M331.1,631.3 L339.9,634.1 L339.9,637.3 L331.1,634.5Z M183.8,591.0 L206.3,596.9 L206.3,598.5 L183.8,592.5Z M226.4,602.2 L229.0,602.9 L257.0,610.2 L257.0,611.8 L229.0,604.5 L226.4,603.8Z M419.8,661.2 L425.4,662.8 L443.7,668.0 L443.7,669.9 L425.4,664.6 L419.8,663.1Z M235.6,606.1 L259.2,612.2 L259.4,612.3 L259.4,613.9 L259.2,613.8 L235.6,607.6Z M305.0,627.4 L316.3,631.1 L318.8,631.9 L318.8,633.5 L316.3,632.7 L305.0,629.0Z M241.4,609.0 L255.4,612.7 L255.4,615.6 L241.4,611.9Z M276.2,622.2 L307.3,632.6 L307.3,634.2 L276.2,623.8Z" fill="#c9c9c9"/>
<path d="M344.2,600.6 L354.4,602.9 L380.2,609.5 L380.2,612.9 L354.4,606.2 L344.2,603.8Z M416.9,618.7 L425.4,620.8 L443.7,626.3 L443.7,629.9 L425.4,624.3 L416.9,622.2Z M183.8,562.9 L198.1,566.6 L198.1,569.5 L183.8,565.8Z M393.8,621.4 L403.0,623.8 L413.2,626.4 L413.2,629.9 L403.0,627.3 L393.8,624.9Z M183.8,567.1 L184.9,567.4 L184.9,570.3 L183.8,570.0Z M212.5,574.6 L229.0,578.8 L229.8,579.0 L229.8,581.9 L229.0,581.7 L212.5,577.5Z M183.8,569.9 L210.9,577.0 L210.9,578.5 L183.8,571.5Z M287.6,598.3 L297.8,601.5 L297.8,603.2 L287.6,599.9Z M183.8,572.7 L190.5,574.5 L190.5,577.4 L183.8,575.6Z M312.9,618.2 L316.3,619.3 L332.7,624.1 L332.7,625.8 L316.3,620.9 L312.9,619.8Z M233.3,596.9 L259.2,603.5 L274.0,608.4 L274.0,611.4 L259.2,606.5 L233.3,599.8Z M381.6,645.0 L403.0,651.3 L405.7,652.0 L405.7,653.9 L403.0,653.1 L381.6,646.8Z M265.9,611.5 L301.5,623.3 L301.5,624.9 L265.9,613.1Z M354.9,640.4 L370.7,645.1 L370.7,646.9 L354.9,642.2Z M275.9,616.3 L311.5,628.0 L311.5,631.1 L275.9,619.3Z M183.8,595.2 L199.9,599.5 L199.9,601.0 L183.8,596.7Z M392.7,658.4 L403.0,661.6 L409.0,663.3 L409.0,666.8 L403.0,665.1 L392.7,661.9Z" fill="#a2a2a2"/>
<path d="M217.1,567.3 L229.0,570.3 L245.9,574.3 L245.9,575.9 L229.0,571.9 L217.1,568.8Z M294.0,591.6 L307.1,595.7 L307.1,598.8 L294.0,594.6Z M347.9,606.2 L354.4,607.8 L369.2,611.6 L369.2,613.4 L354.4,609.6 L347.9,608.0Z M431.0,631.2 L443.7,635.0 L443.7,638.6 L431.0,634.7Z M353.7,614.1 L354.4,614.3 L383.2,622.0 L383.2,623.8 L354.4,616.1 L353.7,615.9Z M426.6,633.4 L443.7,638.5 L443.7,642.0 L426.6,636.9Z M305.0,605.4 L316.3,609.0 L351.6,618.4 L351.6,620.2 L316.3,610.6 L305.0,607.0Z M339.2,616.7 L354.4,620.8 L359.2,622.1 L359.2,623.9 L354.4,622.6 L339.2,618.4Z M367.3,626.0 L384.1,630.6 L384.1,634.0 L367.3,629.3Z M273.9,599.6 L290.5,605.0 L290.5,608.0 L273.9,602.6Z M294.8,607.9 L304.4,611.0 L304.4,612.6 L294.8,609.5Z M349.1,624.2 L354.4,625.6 L399.0,638.1 L399.0,641.6 L354.4,629.0 L349.1,627.4Z M183.8,578.4 L193.8,581.0 L193.8,582.5 L183.8,579.9Z M244.3,594.0 L259.2,597.7 L267.5,600.5 L267.5,602.1 L259.2,599.3 L244.3,595.6Z M183.8,581.2 L207.0,587.2 L207.0,588.8 L183.8,582.7Z M247.5,597.7 L259.2,600.6 L295.5,612.5 L295.5,614.1 L259.2,602.2 L247.5,599.3Z M392.5,643.1 L403.0,646.1 L407.4,647.3 L407.4,649.2 L403.0,648.0 L392.5,644.9Z M183.8,584.0 L193.7,586.6 L193.7,588.1 L183.8,585.5Z M183.8,586.8 L194.0,589.5 L194.0,591.0 L183.8,588.3Z M183.8,589.6 L216.9,598.3 L216.9,599.9 L183.8,591.1Z M316.0,628.1 L316.3,628.2 L338.0,635.1 L338.0,638.2 L316.3,631.2 L316.0,631.1Z M404.6,655.1 L425.4,661.0 L443.7,666.3 L443.7,668.2 L425.4,662.9 L404.6,657.0Z M183.8,592.4 L189.2,593.8 L189.2,595.4 L183.8,593.9Z" fill="#d2d2d2"/>
<path d="M183.8,563.8 L229.0,575.5 L259.2,582.8 L316.3,601.1 L354.4,610.5 L403.0,623.2 L425.4,628.9 L443.7,634.4 M183.8,571.8 L229.0,583.5 L259.2,591.0 L316.3,609.5 L354.4,619.7 L403.0,632.9 L425.4,638.8 L443.7,644.3 M183.8,579.7 L229.0,591.6 L259.2,599.2 L316.3,617.8 L354.4,628.9 L403.0,642.7 L425.4,648.7 L443.7,654.1 M183.8,587.7 L229.0,599.6 L259.2,607.4 L316.3,626.2 L354.4,638.1 L403.0,652.4 L425.4,658.6 L443.7,663.9 M183.8,595.6 L229.0,607.6 L259.2,615.5 L316.3,634.5 L354.4,647.2 L403.0,662.1 L425.4,668.5 L443.7,673.8" fill="none" stroke="#262626" stroke-width="0.5"/>
<path d="M196.4,559.1 V601.3 M217.4,564.5 V606.9 M238.4,569.7 V612.5 M259.4,574.7 V618.1 M280.4,581.4 V625.1 M301.4,588.1 V632.0 M322.4,594.2 V639.1 M343.4,598.8 V646.2 M364.4,603.8 V653.1 M385.4,609.1 V659.6 M406.4,614.3 V666.0 M427.4,619.6 V672.1" fill="none" stroke="#1e1e1e" stroke-width="0.8"/>
<polyline points="183.8,555.9 229.0,567.5 259.2,574.6 316.3,592.8 354.4,601.3 403.0,613.5 425.4,619.0 443.7,624.6" fill="none" stroke="#3a3a3a" stroke-width="1.8"/>
<line x1="184.4" y1="555.9" x2="184.4" y2="598.0" stroke="#777" stroke-width="1.6"/>
<line x1="183.6" y1="555.9" x2="183.6" y2="598.0" stroke="#333" stroke-width="0.6"/>
<polygon points="176.1,600.3 205.0,584.5 229.0,569.5 229.0,611.0 205.0,625.8 176.1,643.7" fill="#484848"/>
<path d="M176.1,600.3 L177.5,599.6 L177.5,602.5 L176.1,603.3Z M224.2,572.5 L229.0,569.5 L229.0,571.0 L224.2,574.0Z M189.3,598.7 L205.0,590.0 L218.3,581.7 L218.3,583.2 L205.0,591.5 L189.3,600.3Z M176.1,620.6 L180.9,617.7 L180.9,619.3 L176.1,622.1Z M220.1,598.5 L229.0,593.0 L229.0,595.9 L220.1,601.4Z M176.1,626.3 L190.9,617.6 L190.9,619.2 L176.1,627.9Z M197.6,615.1 L205.0,610.7 L216.0,603.9 L216.0,605.4 L205.0,612.2 L197.6,616.6Z M176.1,629.2 L190.1,620.9 L190.1,622.5 L176.1,630.8Z M176.1,630.7 L205.0,613.4 L214.5,607.5 L214.5,610.4 L205.0,616.3 L176.1,633.7Z M176.1,635.0 L191.7,625.6 L191.7,628.5 L176.1,638.0Z M176.1,640.8 L198.9,626.8 L198.9,628.3 L176.1,642.4Z" fill="#8a8a8a"/>
<path d="M176.1,601.7 L205.0,585.9 L209.0,583.4 L209.0,584.9 L205.0,587.4 L176.1,603.3Z M213.3,586.2 L229.0,576.4 L229.0,579.3 L213.3,589.1Z M176.1,622.0 L187.7,615.2 L187.7,618.1 L176.1,625.0Z M220.8,599.5 L229.0,594.4 L229.0,595.9 L220.8,601.0Z M176.1,633.6 L205.0,616.2 L207.0,614.9 L207.0,616.5 L205.0,617.7 L176.1,635.2Z" fill="#9e9e9e"/>
<path d="M176.1,603.2 L199.8,590.1 L199.8,591.7 L176.1,604.8Z M176.1,604.6 L196.5,593.3 L196.5,594.9 L176.1,606.2Z M176.1,611.9 L205.0,595.5 L216.9,588.1 L216.9,591.0 L205.0,598.4 L176.1,614.8Z M176.1,614.8 L192.0,605.7 L192.0,608.6 L176.1,617.7Z M221.5,588.0 L229.0,583.3 L229.0,586.2 L221.5,590.8Z M176.1,636.5 L186.7,630.0 L186.7,631.6 L176.1,638.1Z M204.5,619.2 L205.0,618.9 L211.8,614.7 L211.8,617.6 L205.0,621.8 L204.5,622.1Z" fill="#949494"/>
<path d="M176.1,607.5 L197.2,595.7 L197.2,597.3 L176.1,609.1Z M219.9,590.4 L229.0,584.7 L229.0,587.6 L219.9,593.2Z M176.1,619.1 L178.2,617.9 L178.2,619.5 L176.1,620.7Z M220.3,592.9 L229.0,587.5 L229.0,590.3 L220.3,595.7Z M176.1,623.4 L183.2,619.3 L183.2,622.2 L176.1,626.4Z M176.1,624.9 L204.4,608.3 L204.4,609.8 L176.1,626.5Z M176.1,632.1 L184.4,627.2 L184.4,630.1 L176.1,635.1Z M176.1,642.3 L205.0,624.5 L214.2,618.8 L214.2,620.3 L205.0,626.0 L176.1,643.9Z" fill="#a9a9a9"/>
<path d="M176.1,613.3 L205.0,596.9 L207.6,595.3 L207.6,596.8 L205.0,598.4 L176.1,614.9Z M176.1,617.7 L203.9,601.7 L203.9,604.5 L176.1,620.6Z M176.1,639.4 L196.4,627.0 L196.4,628.5 L176.1,641.0Z" fill="#b2b2b2"/>
<path d="M176.1,608.5 L205.0,592.3 L229.0,577.3 M176.1,616.7 L205.0,600.1 L229.0,585.2 M176.1,624.9 L205.0,607.9 L229.0,593.0 M176.1,633.1 L205.0,615.7 L229.0,600.8 M176.1,641.2 L205.0,623.5 L229.0,608.7" fill="none" stroke="#262626" stroke-width="0.5"/>
<path d="M186.9,594.4 V637.0 M204.9,584.6 V625.9 M222.9,573.3 V614.8" fill="none" stroke="#1e1e1e" stroke-width="0.8"/>
<polyline points="176.1,600.3 205.0,584.5 229.0,569.5" fill="none" stroke="#3a3a3a" stroke-width="1.8"/>
<polygon points="262.2,627.8 316.3,593.9 316.3,637.0 262.2,676.8" fill="#484848"/>
<path d="M262.2,627.8 L279.9,616.7 L279.9,618.4 L262.2,629.6Z M303.5,628.6 L316.3,619.8 L316.3,621.3 L303.5,630.3Z M262.2,662.1 L271.4,655.6 L271.4,657.4 L262.2,663.9Z M262.2,670.3 L293.2,647.9 L293.2,649.6 L262.2,672.0Z" fill="#9e9e9e"/>
<path d="M312.4,596.4 L316.3,593.9 L316.3,595.5 L312.4,598.0Z M262.2,631.1 L274.0,623.6 L274.0,625.3 L262.2,632.8Z M262.2,632.7 L300.2,608.5 L300.2,610.1 L262.2,634.5Z M262.2,639.2 L263.5,638.4 L263.5,641.7 L262.2,642.6Z M262.2,645.8 L270.2,640.4 L270.2,643.7 L262.2,649.1Z M286.7,629.5 L316.0,609.9 L316.0,611.5 L286.7,631.2Z M262.2,657.2 L265.8,654.7 L265.8,656.5 L262.2,659.0Z M262.2,660.5 L272.8,653.1 L272.8,654.8 L262.2,662.2Z M298.9,634.8 L316.3,622.6 L316.3,624.2 L298.9,636.4Z M277.6,657.6 L306.1,637.1 L306.1,640.2 L277.6,660.8Z M307.7,637.5 L316.3,631.3 L316.3,632.8 L307.7,639.1Z M262.2,675.2 L286.7,657.3 L286.7,659.0 L262.2,676.9Z" fill="#949494"/>
<path d="M262.2,629.4 L301.1,604.9 L301.1,606.6 L262.2,631.2Z M262.2,644.1 L285.5,628.7 L285.5,630.4 L262.2,645.9Z M292.3,630.2 L316.3,614.0 L316.3,615.6 L292.3,631.9Z M262.2,658.8 L290.9,638.8 L290.9,640.5 L262.2,660.6Z M311.5,627.5 L316.3,624.1 L316.3,627.0 L311.5,630.4Z M262.2,663.7 L275.2,654.6 L275.2,656.3 L262.2,665.5Z M262.2,671.9 L277.2,661.0 L277.2,662.7 L262.2,673.7Z" fill="#8a8a8a"/>
<path d="M262.2,634.3 L306.0,606.2 L306.0,609.3 L262.2,637.7Z M262.2,637.6 L292.7,617.8 L292.7,619.5 L262.2,639.4Z M262.2,640.9 L267.8,637.2 L267.8,638.9 L262.2,642.6Z M284.5,626.2 L316.3,605.4 L316.3,608.3 L284.5,629.4Z M277.9,643.2 L316.3,616.9 L316.3,618.5 L277.9,644.9Z M262.2,655.6 L275.8,646.2 L275.8,647.9 L262.2,657.3Z M308.6,633.9 L316.3,628.4 L316.3,631.3 L308.6,636.9Z" fill="#a9a9a9"/>
<path d="M310.0,606.6 L316.3,602.5 L316.3,605.5 L310.0,609.6Z M262.2,642.5 L273.2,635.2 L273.2,637.0 L262.2,644.3Z M310.2,610.9 L316.3,606.8 L316.3,609.8 L310.2,613.8Z M262.2,649.0 L279.3,637.5 L279.3,639.2 L262.2,650.8Z M314.6,626.7 L316.3,625.5 L316.3,627.1 L314.6,628.3Z M262.2,667.0 L271.0,660.7 L271.0,662.4 L262.2,668.8Z M262.2,673.5 L276.4,663.2 L276.4,666.4 L262.2,676.9Z" fill="#b2b2b2"/>
<path d="M262.2,637.0 L316.3,602.0 M262.2,646.3 L316.3,610.2 M262.2,655.5 L316.3,618.3 M262.2,664.8 L316.3,626.4 M262.2,674.0 L316.3,634.6" fill="none" stroke="#262626" stroke-width="0.5"/>
<path d="M273.0,621.0 V668.9 M291.0,609.8 V655.6 M309.0,598.5 V642.4" fill="none" stroke="#1e1e1e" stroke-width="0.8"/>
<polyline points="262.2,627.8 316.3,593.9" fill="none" stroke="#3a3a3a" stroke-width="1.8"/>
<polygon points="350.2,652.2 401.0,616.1 403.0,614.9 403.0,665.0 401.0,666.5 350.2,703.5" fill="#484848"/>
<path d="M396.1,619.6 L401.0,616.1 L403.0,614.9 L403.0,616.7 L401.0,617.9 L396.1,621.4Z M350.2,665.9 L375.4,647.9 L375.4,649.7 L350.2,667.7Z M350.2,677.9 L371.3,662.7 L371.3,664.5 L350.2,679.7Z M350.2,679.6 L371.9,663.9 L371.9,665.8 L350.2,681.4Z M370.2,666.9 L385.2,656.0 L385.2,659.5 L370.2,670.3Z M350.2,688.1 L358.8,681.9 L358.8,683.8 L350.2,690.0Z M350.2,691.5 L378.0,671.3 L378.0,673.2 L350.2,693.4Z M350.2,698.4 L375.2,680.2 L375.2,683.6 L350.2,701.9Z" fill="#9e9e9e"/>
<path d="M350.2,657.3 L378.9,636.9 L378.9,638.7 L350.2,659.2Z M350.2,659.0 L373.7,642.3 L373.7,644.2 L350.2,660.9Z M350.2,671.0 L371.9,655.4 L371.9,657.3 L350.2,672.9Z M395.7,638.4 L401.0,634.6 L403.0,633.2 L403.0,635.1 L401.0,636.4 L395.7,640.2Z M350.2,676.1 L353.0,674.1 L353.0,677.6 L350.2,679.6Z M350.2,686.4 L359.2,679.9 L359.2,681.7 L350.2,688.3Z M350.2,689.8 L361.3,681.8 L361.3,685.2 L350.2,693.3Z M350.2,693.2 L367.4,680.8 L367.4,682.6 L350.2,695.1Z" fill="#949494"/>
<path d="M350.2,660.8 L386.1,635.1 L386.1,637.0 L350.2,662.6Z M375.1,649.8 L401.0,631.2 L403.0,629.9 L403.0,631.7 L401.0,633.0 L375.1,651.6Z M350.2,674.4 L351.3,673.6 L351.3,675.5 L350.2,676.3Z M350.2,683.0 L368.1,670.1 L368.1,671.9 L350.2,684.8Z M375.9,683.1 L401.0,664.8 L403.0,663.3 L403.0,665.1 L401.0,666.6 L375.9,684.9Z" fill="#8a8a8a"/>
<path d="M350.2,662.5 L395.9,629.8 L395.9,633.3 L350.2,665.9Z M368.3,651.3 L401.0,627.9 L403.0,626.6 L403.0,630.0 L401.0,631.3 L368.3,654.7Z" fill="#a9a9a9"/>
<path d="M350.2,672.7 L356.9,667.9 L356.9,669.8 L350.2,674.6Z M350.2,684.7 L393.3,653.6 L393.3,657.0 L350.2,688.2Z M350.2,695.0 L385.9,669.0 L385.9,670.8 L350.2,696.8Z M350.2,696.7 L382.6,673.1 L382.6,675.0 L350.2,698.5Z M350.2,700.1 L362.5,691.1 L362.5,692.9 L350.2,701.9Z M350.2,701.8 L357.8,696.3 L357.8,698.1 L350.2,703.6Z" fill="#b2b2b2"/>
<path d="M350.2,661.9 L401.0,625.6 L403.0,624.3 M350.2,671.6 L401.0,635.1 L403.0,633.8 M350.2,681.2 L401.0,644.6 L403.0,643.2 M350.2,690.9 L401.0,654.1 L403.0,652.7 M350.2,700.6 L401.0,663.6 L403.0,662.2" fill="none" stroke="#262626" stroke-width="0.5"/>
<path d="M361.0,644.5 V695.6 M379.0,631.7 V682.5 M397.0,618.9 V669.4" fill="none" stroke="#1e1e1e" stroke-width="0.8"/>
<polyline points="350.2,652.2 401.0,616.1 403.0,614.9" fill="none" stroke="#3a3a3a" stroke-width="1.8"/>
<polygon points="124.6,582.2 176.1,600.3 208.3,609.8 235.8,619.3 262.2,627.8 296.2,637.3 303.6,639.4 348.5,651.7 350.2,652.2 391.5,662.8 391.5,714.0 350.2,704.8 348.5,704.4 303.6,690.1 296.2,687.8 262.2,676.8 235.8,665.2 208.3,653.2 176.1,643.7 124.6,626.0" fill="#414141"/>
<path d="M150.1,591.2 L171.3,598.6 L171.3,601.6 L150.1,594.2Z M124.6,585.1 L140.7,590.8 L140.7,592.4 L124.6,586.7Z M367.4,665.3 L391.5,671.3 L391.5,673.2 L367.4,667.2Z M369.5,667.5 L391.5,673.0 L391.5,676.5 L369.5,671.1Z M243.5,642.1 L251.7,645.1 L251.7,646.9 L243.5,643.8Z M283.6,657.1 L296.2,660.9 L300.1,662.0 L300.1,663.9 L296.2,662.7 L283.6,658.9Z M124.6,604.1 L159.7,616.3 L159.7,617.9 L124.6,605.7Z M375.9,686.4 L391.5,690.1 L391.5,692.0 L375.9,688.3Z M124.6,607.0 L129.6,608.7 L129.6,611.7 L124.6,610.0Z M302.7,667.9 L303.6,668.2 L316.4,672.0 L316.4,673.9 L303.6,670.0 L302.7,669.7Z M351.6,682.3 L365.8,685.7 L365.8,687.6 L351.6,684.2Z M233.3,648.9 L235.8,649.9 L262.2,660.5 L271.3,663.3 L271.3,665.1 L262.2,662.2 L235.8,651.6 L233.3,650.6Z M124.6,612.9 L152.1,622.4 L152.1,625.4 L124.6,615.9Z M124.6,614.3 L145.3,621.5 L145.3,623.1 L124.6,615.9Z M154.4,626.1 L169.2,631.2 L169.2,632.8 L154.4,627.7Z M124.6,618.7 L160.2,631.0 L160.2,632.6 L124.6,620.3Z M245.6,666.4 L262.2,673.5 L293.9,683.7 L293.9,687.1 L262.2,676.9 L245.6,669.6Z M124.6,624.5 L140.3,629.9 L140.3,631.5 L124.6,626.1Z M186.0,645.2 L208.3,651.8 L224.6,658.9 L224.6,660.5 L208.3,653.4 L186.0,646.8Z" fill="#d2d2d2"/>
<path d="M210.1,610.4 L235.8,619.3 L258.9,626.7 L258.9,628.5 L235.8,621.0 L210.1,612.0Z M390.6,662.6 L391.5,662.8 L391.5,664.7 L390.6,664.4Z M220.4,615.5 L234.8,620.5 L234.8,622.2 L220.4,617.1Z M300.6,640.2 L303.6,641.1 L311.9,643.4 L311.9,645.2 L303.6,642.9 L300.6,642.1Z M198.6,609.8 L208.3,612.7 L213.5,614.5 L213.5,616.1 L208.3,614.3 L198.6,611.4Z M230.2,620.4 L235.8,622.4 L262.2,631.1 L264.8,631.8 L264.8,633.6 L262.2,632.8 L235.8,624.0 L230.2,622.1Z M300.2,643.5 L303.6,644.5 L313.7,647.3 L313.7,650.8 L303.6,647.9 L300.2,646.9Z M328.9,651.5 L348.5,657.0 L350.2,657.5 L364.7,661.1 L364.7,664.7 L350.2,661.0 L348.5,660.6 L328.9,655.1Z M183.8,608.3 L208.3,615.6 L222.3,620.6 L222.3,622.2 L208.3,617.2 L183.8,609.9Z M262.4,640.9 L296.2,650.8 L303.6,652.9 L309.0,654.5 L309.0,657.9 L303.6,656.4 L296.2,654.2 L262.4,644.3Z M320.0,662.8 L348.5,671.0 L350.2,671.5 L369.9,676.3 L369.9,678.2 L350.2,673.4 L348.5,672.9 L320.0,664.6Z M159.8,612.0 L176.1,617.7 L189.2,621.5 L189.2,624.5 L176.1,620.6 L159.8,615.0Z M268.4,650.9 L295.1,658.9 L295.1,660.7 L268.4,652.7Z M383.0,682.9 L391.5,685.0 L391.5,688.5 L383.0,686.4Z M317.1,667.1 L326.6,669.9 L326.6,671.7 L317.1,668.9Z M379.6,685.5 L391.5,688.4 L391.5,690.3 L379.6,687.4Z M351.7,684.1 L390.0,693.2 L390.0,695.0 L351.7,686.0Z M176.5,630.8 L207.7,640.0 L207.7,643.0 L176.5,633.8Z M298.6,673.4 L303.6,674.9 L321.6,680.4 L321.6,682.3 L303.6,676.8 L298.6,675.2Z M382.0,696.4 L391.5,698.6 L391.5,702.1 L382.0,699.9Z M226.8,649.3 L235.8,653.0 L262.2,663.7 L271.1,666.5 L271.1,669.9 L262.2,667.1 L235.8,656.1 L226.8,652.3Z M124.6,615.8 L138.8,620.7 L138.8,623.7 L124.6,618.8Z M361.5,695.1 L391.5,702.1 L391.5,703.9 L361.5,697.0Z M271.7,670.0 L295.8,677.6 L295.8,679.4 L271.7,671.8Z M244.1,662.6 L262.2,670.3 L279.7,675.8 L279.7,677.6 L262.2,672.0 L244.1,664.4Z M124.6,621.6 L130.7,623.7 L130.7,626.7 L124.6,624.6Z M124.6,623.1 L128.5,624.4 L128.5,627.4 L124.6,626.1Z M161.0,635.6 L176.1,640.8 L181.1,642.3 L181.1,645.3 L176.1,643.8 L161.0,638.6Z" fill="#c9c9c9"/>
<path d="M279.7,632.7 L296.2,637.3 L303.6,639.4 L310.6,641.3 L310.6,644.8 L303.6,642.8 L296.2,640.8 L279.7,636.1Z M124.6,583.7 L130.6,585.8 L130.6,587.4 L124.6,585.3Z M124.6,588.0 L148.3,596.3 L148.3,599.3 L124.6,591.0Z M203.8,615.7 L208.3,617.0 L211.4,618.2 L211.4,621.1 L208.3,620.0 L203.8,618.7Z M124.6,592.4 L140.9,598.1 L140.9,599.7 L124.6,594.0Z M382.5,674.2 L391.5,676.5 L391.5,679.9 L382.5,677.7Z M274.4,647.7 L296.2,654.2 L303.6,656.3 L303.8,656.4 L303.8,658.2 L303.6,658.2 L296.2,656.0 L274.4,649.5Z M124.6,598.3 L156.3,609.3 L156.3,610.9 L124.6,599.9Z M204.8,626.1 L208.3,627.2 L235.8,637.7 L249.2,642.6 L249.2,644.4 L235.8,639.4 L208.3,628.8 L204.8,627.7Z M124.6,602.6 L142.2,608.8 L142.2,610.4 L124.6,604.2Z M172.1,623.5 L176.1,624.9 L181.5,626.5 L181.5,628.1 L176.1,626.5 L172.1,625.1Z M124.6,609.9 L138.3,614.7 L138.3,617.7 L124.6,612.9Z M282.9,665.2 L296.2,669.3 L299.8,670.4 L299.8,673.8 L296.2,672.7 L282.9,668.6Z M198.5,635.8 L208.3,638.7 L214.2,641.1 L214.2,642.7 L208.3,640.3 L198.5,637.4Z M124.6,617.2 L135.5,621.0 L135.5,622.6 L124.6,618.9Z M223.2,650.8 L235.8,656.1 L240.0,657.8 L240.0,659.5 L235.8,657.7 L223.2,652.4Z M383.7,702.0 L391.5,703.8 L391.5,705.6 L383.7,703.8Z M234.8,657.2 L235.8,657.6 L262.2,668.6 L277.9,673.6 L277.9,675.4 L262.2,670.4 L235.8,659.3 L234.8,658.8Z M347.7,695.4 L348.5,695.6 L350.2,696.0 L391.5,705.5 L391.5,708.9 L350.2,699.6 L348.5,699.2 L347.7,698.9Z M294.6,680.5 L296.2,681.1 L303.6,683.4 L304.5,683.7 L304.5,685.5 L303.6,685.2 L296.2,682.9 L294.6,682.4Z M207.8,648.7 L208.3,648.9 L235.8,660.6 L242.4,663.5 L242.4,666.7 L235.8,663.8 L208.3,651.8 L207.8,651.7Z M277.2,676.7 L296.2,682.8 L303.6,685.1 L307.5,686.3 L307.5,689.7 L303.6,688.5 L296.2,686.2 L277.2,680.1Z M388.1,711.5 L391.5,712.3 L391.5,714.1 L388.1,713.4Z" fill="#a2a2a2"/>
<path d="M356.2,653.8 L376.2,658.9 L376.2,660.7 L356.2,655.6Z M138.3,591.4 L176.1,604.6 L188.0,608.2 L188.0,609.8 L176.1,606.2 L138.3,593.0Z M250.9,630.5 L262.2,634.3 L290.0,642.3 L290.0,644.1 L262.2,636.1 L250.9,632.3Z M276.2,640.0 L296.2,645.7 L296.5,645.8 L296.5,647.7 L296.2,647.6 L276.2,641.8Z M124.6,591.0 L133.2,594.0 L133.2,595.6 L124.6,592.6Z M200.0,616.0 L208.3,618.5 L212.0,619.8 L212.0,621.4 L208.3,620.1 L200.0,617.6Z M217.5,623.3 L235.8,630.0 L250.5,635.2 L250.5,636.9 L235.8,631.7 L217.5,624.9Z M340.8,661.8 L348.5,664.0 L350.2,664.5 L361.0,667.2 L361.0,669.1 L350.2,666.4 L348.5,665.9 L340.8,663.7Z M261.2,642.1 L262.2,642.5 L296.2,652.5 L300.5,653.7 L300.5,655.5 L296.2,654.3 L262.2,644.3 L261.2,643.9Z M387.1,677.1 L391.5,678.2 L391.5,680.0 L387.1,678.9Z M158.4,608.6 L176.1,614.8 L200.1,621.9 L200.1,623.5 L176.1,616.4 L158.4,610.2Z M338.0,666.3 L348.5,669.3 L350.2,669.7 L366.8,673.8 L366.8,677.3 L350.2,673.3 L348.5,672.9 L338.0,669.8Z M198.6,622.9 L208.3,625.7 L235.8,636.1 L239.1,637.4 L239.1,640.5 L235.8,639.3 L208.3,628.7 L198.6,625.8Z M124.6,601.2 L143.7,607.8 L143.7,610.8 L124.6,604.2Z M205.2,627.7 L208.3,628.6 L213.8,630.7 L213.8,632.3 L208.3,630.2 L205.2,629.3Z M230.8,638.8 L235.8,640.7 L257.1,648.7 L257.1,650.5 L235.8,642.4 L230.8,640.5Z M124.6,605.6 L138.6,610.4 L138.6,613.4 L124.6,608.6Z M164.8,619.5 L176.1,623.4 L198.4,630.0 L198.4,631.6 L176.1,625.0 L164.8,621.1Z M177.8,626.8 L208.3,635.8 L220.7,640.8 L220.7,642.4 L208.3,637.4 L177.8,628.4Z M244.0,650.1 L262.2,657.2 L269.6,659.5 L269.6,661.2 L262.2,659.0 L244.0,651.8Z M304.0,670.0 L315.2,673.3 L315.2,676.8 L304.0,673.4Z M226.5,644.7 L235.8,648.4 L258.1,657.2 L258.1,659.0 L235.8,650.1 L226.5,646.3Z M124.6,611.4 L132.2,614.0 L132.2,615.7 L124.6,613.0Z M191.3,638.0 L208.3,643.1 L235.8,654.5 L239.3,656.0 L239.3,659.1 L235.8,657.7 L208.3,646.0 L191.3,641.0Z M188.0,638.5 L199.8,642.0 L199.8,643.6 L188.0,640.1Z M124.6,620.2 L157.3,631.4 L157.3,633.0 L124.6,621.8Z" fill="#bebebe"/>
<path d="M192.7,606.6 L203.3,609.8 L203.3,611.4 L192.7,608.2Z M351.6,656.1 L381.1,663.6 L381.1,665.4 L351.6,658.0Z M253.5,629.8 L262.2,632.7 L278.2,637.3 L278.2,640.6 L262.2,636.0 L253.5,633.1Z M358.2,661.2 L368.9,663.9 L368.9,665.8 L358.2,663.1Z M300.4,648.6 L303.6,649.5 L325.4,655.7 L325.4,657.6 L303.6,651.4 L300.4,650.5Z M124.6,593.9 L136.9,598.2 L136.9,601.2 L124.6,596.9Z M220.8,626.0 L227.9,628.6 L227.9,631.7 L220.8,629.1Z M124.6,595.3 L136.6,599.5 L136.6,601.1 L124.6,597.0Z M193.4,618.4 L204.0,621.6 L204.0,624.5 L193.4,621.4Z M307.3,660.8 L325.6,666.1 L325.6,669.6 L307.3,664.2Z M383.8,684.8 L391.5,686.7 L391.5,690.2 L383.8,688.3Z M247.0,646.5 L262.2,652.3 L273.0,655.5 L273.0,657.3 L262.2,654.1 L247.0,648.2Z M337.9,674.9 L348.5,678.1 L350.2,678.5 L355.9,679.9 L355.9,681.8 L350.2,680.4 L348.5,680.0 L337.9,676.8Z M241.5,646.0 L262.2,653.9 L289.7,662.3 L289.7,664.1 L262.2,655.7 L241.5,647.7Z M251.2,651.3 L262.2,655.6 L277.1,660.1 L277.1,661.9 L262.2,657.3 L251.2,653.0Z M186.9,631.0 L208.3,637.3 L209.4,637.7 L209.4,640.7 L208.3,640.3 L186.9,633.9Z M327.5,678.7 L338.2,682.0 L338.2,683.9 L327.5,680.6Z M289.7,669.0 L296.2,671.0 L303.6,673.2 L332.9,682.1 L332.9,685.6 L303.6,676.7 L296.2,674.4 L289.7,672.4Z M330.1,684.7 L341.7,688.3 L341.7,690.2 L330.1,686.6Z M254.9,662.3 L262.2,665.4 L296.2,676.0 L297.9,676.5 L297.9,678.4 L296.2,677.9 L262.2,667.1 L254.9,664.1Z M352.3,698.3 L369.0,702.1 L369.0,703.9 L352.3,700.2Z M379.7,707.9 L391.5,710.6 L391.5,714.1 L379.7,711.4Z M296.4,686.2 L303.6,688.5 L329.6,696.7 L329.6,698.6 L303.6,690.3 L296.4,688.0Z" fill="#b4b4b4"/>
<path d="M124.6,590.5 L176.1,608.5 L208.3,618.0 L235.8,628.0 L262.2,637.0 L296.2,646.8 L303.6,649.0 L348.5,661.7 L350.2,662.1 L391.5,672.5 M124.6,598.7 L176.1,616.7 L208.3,626.2 L235.8,636.6 L262.2,646.3 L296.2,656.4 L303.6,658.6 L348.5,671.6 L350.2,672.0 L391.5,682.1 M124.6,607.0 L176.1,624.9 L208.3,634.4 L235.8,645.3 L262.2,655.5 L296.2,665.9 L303.6,668.1 L348.5,681.5 L350.2,682.0 L391.5,691.8 M124.6,615.3 L176.1,633.1 L208.3,642.6 L235.8,654.0 L262.2,664.8 L296.2,675.4 L303.6,677.7 L348.5,691.5 L350.2,691.9 L391.5,701.4 M124.6,623.5 L176.1,641.2 L208.3,650.7 L235.8,662.6 L262.2,674.0 L296.2,684.9 L303.6,687.3 L348.5,701.4 L350.2,701.8 L391.5,711.1" fill="none" stroke="#262626" stroke-width="0.5"/>
<path d="M137.8,586.8 V630.5 M159.8,594.6 V638.1 M181.8,602.0 V645.4 M203.8,608.5 V651.9 M225.8,615.8 V660.9 M247.8,623.2 V670.5 M269.8,629.9 V679.3 M291.8,636.1 V686.4 M313.8,642.2 V693.4 M335.8,648.2 V700.4 M357.8,654.2 V706.5 M379.8,659.8 V711.4" fill="none" stroke="#1e1e1e" stroke-width="0.8"/>
<polyline points="124.6,582.2 176.1,600.3 208.3,609.8 235.8,619.3 262.2,627.8 296.2,637.3 303.6,639.4 348.5,651.7 350.2,652.2 391.5,662.8" fill="none" stroke="#3a3a3a" stroke-width="1.8"/>
<line x1="125.2" y1="582.2" x2="125.2" y2="626.0" stroke="#777" stroke-width="1.6"/>
<line x1="124.4" y1="582.2" x2="124.4" y2="626.0" stroke="#333" stroke-width="0.6"/>
<polygon points="85.0,643.7 123.6,625.7 176.1,600.3 176.1,643.7 123.6,668.0 85.0,686.0" fill="#484848"/>
<path d="M85.0,643.7 L112.9,630.7 L112.9,633.6 L85.0,646.6Z M85.0,650.8 L122.8,633.1 L122.8,634.7 L85.0,652.3Z M164.1,617.6 L176.1,611.9 L176.1,614.8 L164.1,620.6Z M156.9,628.2 L167.8,623.0 L167.8,624.6 L156.9,629.8Z M85.0,663.4 L89.3,661.5 L89.3,663.0 L85.0,665.0Z M166.8,643.7 L176.1,639.4 L176.1,642.3 L166.8,646.6Z M85.0,683.2 L106.9,673.0 L106.9,674.5 L85.0,684.7Z" fill="#b2b2b2"/>
<path d="M129.3,622.9 L158.3,608.9 L158.3,610.5 L129.3,624.5Z M169.1,609.4 L176.1,606.1 L176.1,609.1 L169.1,612.4Z M85.0,652.2 L98.5,645.9 L98.5,647.4 L85.0,653.7Z M133.2,633.8 L176.1,613.3 L176.1,614.9 L133.2,635.4Z M85.0,657.8 L118.8,642.1 L118.8,643.6 L85.0,659.4Z M85.0,659.2 L122.2,641.9 L122.2,644.7 L85.0,662.1Z M85.0,660.6 L101.3,653.0 L101.3,655.9 L85.0,663.5Z M85.0,662.0 L116.1,647.5 L116.1,649.1 L85.0,663.6Z M106.9,656.1 L114.0,652.7 L114.0,655.6 L106.9,659.0Z M85.0,669.1 L100.9,661.7 L100.9,663.2 L85.0,670.6Z M135.6,645.4 L148.8,639.2 L148.8,642.1 L135.6,648.3Z M164.8,634.5 L176.1,629.2 L176.1,632.2 L164.8,637.5Z M85.0,674.7 L94.4,670.3 L94.4,671.9 L85.0,676.3Z M85.0,679.0 L107.4,668.5 L107.4,670.1 L85.0,680.5Z M167.1,646.4 L176.1,642.3 L176.1,643.9 L167.1,648.0Z" fill="#8a8a8a"/>
<path d="M159.5,609.8 L176.1,601.7 L176.1,604.7 L159.5,612.7Z M148.8,616.4 L176.1,603.2 L176.1,604.8 L148.8,617.9Z M85.0,664.9 L111.4,652.6 L111.4,654.1 L85.0,666.4Z M85.4,671.7 L123.2,654.1 L123.2,657.0 L85.4,674.6Z M85.0,673.3 L113.1,660.2 L113.1,661.8 L85.0,674.9Z M167.9,637.4 L176.1,633.6 L176.1,635.2 L167.9,639.0Z M85.0,677.5 L110.6,665.6 L110.6,668.5 L85.0,680.4Z" fill="#9e9e9e"/>
<path d="M94.9,641.9 L104.5,637.4 L104.5,639.0 L94.9,643.5Z M107.8,637.3 L123.6,629.9 L150.1,617.2 L150.1,620.1 L123.6,632.8 L107.8,640.2Z M85.0,649.3 L100.3,642.2 L100.3,643.8 L85.0,650.9Z M148.4,620.8 L176.1,607.5 L176.1,609.1 L148.4,622.4Z M140.1,626.3 L163.6,615.0 L163.6,616.6 L140.1,627.8Z M85.0,653.6 L106.1,643.7 L106.1,645.3 L85.0,655.1Z M165.8,622.5 L176.1,617.7 L176.1,619.3 L165.8,624.1Z M111.9,650.9 L123.6,645.4 L154.2,631.0 L154.2,632.5 L123.6,647.0 L111.9,652.5Z M85.0,666.3 L89.6,664.1 L89.6,667.0 L85.0,669.2Z M142.3,643.7 L176.1,627.8 L176.1,629.4 L142.3,645.3Z M128.6,653.0 L160.7,637.9 L160.7,640.9 L128.6,655.9Z M120.9,658.0 L123.6,656.7 L141.4,648.4 L141.4,650.0 L123.6,658.3 L120.9,659.6Z M85.0,680.4 L88.4,678.8 L88.4,681.7 L85.0,683.3Z M85.0,681.8 L109.5,670.3 L109.5,671.9 L85.0,683.3Z M166.2,645.4 L176.1,640.8 L176.1,642.4 L166.2,647.0Z M85.0,684.6 L106.6,674.5 L106.6,676.1 L85.0,686.1Z" fill="#949494"/>
<path d="M85.0,656.4 L118.4,640.8 L118.4,643.7 L85.0,659.3Z M173.1,616.2 L176.1,614.8 L176.1,616.4 L173.1,617.8Z M141.6,638.3 L151.2,633.8 L151.2,635.4 L141.6,639.9Z M85.0,667.7 L119.1,651.8 L119.1,654.7 L85.0,670.6Z M85.0,670.5 L120.0,654.2 L120.0,657.1 L85.0,673.4Z M85.0,676.1 L115.2,662.0 L115.2,664.9 L85.0,679.0Z M126.4,658.2 L140.7,651.6 L140.7,653.1 L126.4,659.8Z M130.4,657.8 L151.8,647.8 L151.8,649.4 L130.4,659.4Z M132.6,658.2 L149.8,650.1 L149.8,651.7 L132.6,659.7Z M166.6,642.4 L176.1,637.9 L176.1,640.9 L166.6,645.3Z" fill="#a9a9a9"/>
<path d="M85.0,651.7 L123.6,633.7 L176.1,608.5 M85.0,659.7 L123.6,641.7 L176.1,616.7 M85.0,667.6 L123.6,649.6 L176.1,624.9 M85.0,675.6 L123.6,657.6 L176.1,633.1 M85.0,683.6 L123.6,665.6 L176.1,641.2" fill="none" stroke="#262626" stroke-width="0.5"/>
<path d="M96.4,638.4 V680.7 M115.4,629.5 V671.8 M134.4,620.5 V663.0 M153.4,611.3 V654.2 M172.4,602.1 V645.4" fill="none" stroke="#1e1e1e" stroke-width="0.8"/>
<polyline points="85.0,643.7 123.6,625.7 176.1,600.3" fill="none" stroke="#3a3a3a" stroke-width="1.8"/>
<polygon points="84.0,647.5 93.0,644.0 102.4,641.4 119.3,640.3 140.5,644.5 161.7,652.0 169.0,659.0 173.3,669.8 173.3,740.0 84.0,700.0" fill="#1f1f1f"/>
<polygon points="173.3,669.8 211.4,651.8 214.0,650.8 243.2,639.1 247.5,636.5 262.2,627.8 262.2,676.8 247.5,683.6 243.2,686.3 214.0,705.0 211.4,706.7 173.3,731.0" fill="#484848"/>
<path d="M173.3,669.8 L208.8,653.0 L208.8,655.0 L173.3,672.0Z M173.3,673.9 L181.5,669.9 L181.5,672.1 L173.3,676.1Z M173.3,675.9 L191.0,667.3 L191.0,669.4 L173.3,678.1Z M259.9,638.9 L262.2,637.6 L262.2,640.9 L259.9,642.2Z M173.3,688.2 L196.7,675.9 L196.7,679.8 L173.3,692.3Z M237.9,655.8 L243.2,653.3 L247.5,650.7 L262.2,642.5 L262.2,644.3 L247.5,652.4 L243.2,655.0 L237.9,657.5Z M173.3,690.2 L192.7,680.0 L192.7,683.9 L173.3,694.3Z M173.3,692.2 L204.2,675.8 L204.2,677.8 L173.3,694.4Z M173.3,704.5 L200.3,689.2 L200.3,691.2 L173.3,706.7Z M173.3,706.5 L199.4,691.6 L199.4,693.6 L173.3,708.7Z M218.2,682.8 L230.0,676.3 L230.0,679.7 L218.2,686.4Z M173.3,712.6 L200.9,696.4 L200.9,698.4 L173.3,714.8Z M173.3,720.8 L188.7,711.4 L188.7,715.3 L173.3,724.9Z M173.3,724.9 L194.4,711.7 L194.4,713.8 L173.3,727.1Z" fill="#a9a9a9"/>
<path d="M173.3,671.8 L205.4,656.5 L205.4,660.3 L173.3,676.0Z M245.0,650.6 L247.5,649.1 L261.8,641.1 L261.8,644.4 L247.5,652.3 L245.0,653.8Z M245.1,655.3 L247.5,653.8 L262.2,645.8 L262.2,647.5 L247.5,655.5 L245.1,657.0Z M259.4,650.5 L262.2,649.0 L262.2,650.8 L259.4,652.3Z M173.3,698.4 L178.0,695.8 L178.0,699.9 L173.3,702.5Z M173.3,710.6 L191.4,700.0 L191.4,704.0 L173.3,714.7Z M258.9,663.8 L262.2,662.1 L262.2,663.9 L258.9,665.5Z M206.4,706.1 L211.4,703.0 L214.0,701.4 L243.2,683.2 L247.5,680.5 L249.6,679.5 L249.6,681.2 L247.5,682.2 L243.2,684.9 L214.0,703.3 L211.4,705.0 L206.4,708.1Z" fill="#8a8a8a"/>
<path d="M249.4,637.0 L257.0,632.5 L257.0,634.2 L249.4,638.7Z M173.3,678.0 L207.3,661.2 L207.3,663.2 L173.3,680.1Z M173.3,686.1 L181.9,681.7 L181.9,683.8 L173.3,688.3Z M206.8,680.0 L211.4,677.4 L214.0,676.1 L237.3,664.2 L237.3,666.0 L214.0,678.0 L211.4,679.4 L206.8,682.0Z M237.8,667.2 L243.2,664.3 L247.5,661.6 L262.2,653.9 L262.2,655.7 L247.5,663.4 L243.2,666.0 L237.8,668.9Z M240.3,667.4 L243.2,665.9 L247.5,663.2 L262.2,655.6 L262.2,657.3 L247.5,664.9 L243.2,667.6 L240.3,669.2Z M209.7,693.0 L211.4,692.0 L214.0,690.5 L243.2,673.7 L244.8,672.7 L244.8,676.0 L243.2,677.0 L214.0,694.2 L211.4,695.7 L209.7,696.8Z M203.8,698.4 L211.4,693.9 L214.0,692.3 L218.8,689.6 L218.8,693.2 L214.0,696.0 L211.4,697.6 L203.8,702.2Z M226.2,690.4 L243.2,680.0 L247.5,677.3 L259.1,671.8 L259.1,673.5 L247.5,679.0 L243.2,681.8 L226.2,692.2Z M254.4,678.8 L262.2,675.2 L262.2,676.9 L254.4,680.6Z" fill="#9e9e9e"/>
<path d="M228.1,650.2 L238.9,645.6 L238.9,648.9 L228.1,653.7Z M173.3,682.0 L209.8,663.6 L209.8,665.6 L173.3,684.2Z M173.3,694.3 L175.7,693.0 L175.7,695.1 L173.3,696.5Z M173.3,696.3 L191.7,686.3 L191.7,688.4 L173.3,698.5Z M173.3,700.4 L175.4,699.3 L175.4,703.4 L173.3,704.5Z M217.3,676.2 L243.2,662.7 L247.5,660.1 L251.6,657.9 L251.6,659.6 L247.5,661.8 L243.2,664.4 L217.3,678.1Z M173.3,702.4 L183.6,696.7 L183.6,700.7 L173.3,706.6Z M228.0,679.1 L235.5,674.9 L235.5,678.3 L228.0,682.5Z M222.5,690.9 L243.2,678.5 L247.5,675.8 L253.9,672.7 L253.9,674.4 L247.5,677.5 L243.2,680.2 L222.5,692.8Z M173.3,729.0 L200.3,711.9 L200.3,713.9 L173.3,731.1Z" fill="#949494"/>
<path d="M173.3,680.0 L190.8,671.3 L190.8,673.4 L173.3,682.2Z M238.3,652.4 L243.2,650.1 L247.5,647.5 L252.3,644.8 L252.3,648.1 L247.5,650.7 L243.2,653.3 L238.3,655.7Z M173.3,708.6 L200.9,692.6 L200.9,694.7 L173.3,710.8Z M234.2,682.2 L243.2,676.9 L247.5,674.2 L262.2,667.0 L262.2,670.3 L247.5,677.4 L243.2,680.1 L234.2,685.6Z M173.3,726.9 L175.4,725.6 L175.4,729.7 L173.3,731.0Z" fill="#b2b2b2"/>
<path d="M173.3,681.3 L211.4,662.2 L214.0,661.0 L243.2,648.0 L247.5,645.4 L262.2,637.0 M173.3,692.9 L211.4,672.5 L214.0,671.2 L243.2,656.9 L247.5,654.3 L262.2,646.3 M173.3,704.4 L211.4,682.9 L214.0,681.5 L243.2,665.8 L247.5,663.2 L262.2,655.5 M173.3,716.0 L211.4,693.2 L214.0,691.7 L243.2,674.8 L247.5,672.1 L262.2,664.8 M173.3,727.5 L211.4,703.6 L214.0,701.9 L243.2,683.7 L247.5,680.9 L262.2,674.0" fill="none" stroke="#262626" stroke-width="0.5"/>
<path d="M184.7,664.4 V723.7 M203.7,655.4 V711.6 M222.7,647.3 V699.4 M241.7,639.7 V687.3" fill="none" stroke="#1e1e1e" stroke-width="0.8"/>
<polyline points="173.3,669.8 211.4,651.8 214.0,650.8 243.2,639.1 247.5,636.5 262.2,627.8" fill="none" stroke="#3a3a3a" stroke-width="1.8"/>
<line x1="173.9" y1="669.8" x2="173.9" y2="731.0" stroke="#777" stroke-width="1.6"/>
<line x1="173.1" y1="669.8" x2="173.1" y2="731.0" stroke="#333" stroke-width="0.6"/>
<polygon points="172.5,714.3 190.3,706.9 203.0,704.5 211.4,705.3 214.6,712.7 215.3,719.1 212.7,725.4 208.3,731.8 203.8,735.6 198.0,737.5 198.0,760.0 172.5,740.0" fill="#1f1f1f"/>
<polygon points="263.7,704.8 281.5,694.4 298.3,684.6 317.1,673.3 319.5,671.9 334.1,662.5 350.2,652.2 350.2,703.5 334.1,713.7 319.5,724.6 317.1,726.4 298.3,740.3 281.5,752.7 263.7,762.5" fill="#484848"/>
<path d="M263.7,704.8 L278.5,696.2 L278.5,698.3 L263.7,706.9Z M327.0,667.1 L334.1,662.5 L350.2,652.2 L350.2,654.1 L334.1,664.4 L327.0,668.9Z M345.8,658.5 L350.2,655.6 L350.2,657.5 L345.8,660.3Z M263.7,712.5 L278.2,704.1 L278.2,706.2 L263.7,714.6Z M303.7,688.7 L317.1,680.4 L319.5,678.9 L334.1,669.4 L335.7,668.3 L335.7,671.8 L334.1,672.8 L319.5,682.5 L317.1,684.0 L303.7,692.4Z M263.7,718.3 L281.5,708.0 L288.5,703.7 L288.5,705.7 L281.5,710.1 L263.7,720.3Z M263.7,722.1 L266.3,720.6 L266.3,722.7 L263.7,724.2Z M346.2,671.8 L350.2,669.3 L350.2,671.2 L346.2,673.7Z M336.6,681.4 L348.9,673.6 L348.9,675.4 L336.6,683.3Z M305.3,707.7 L317.1,699.9 L319.5,698.3 L334.1,688.1 L341.1,683.6 L341.1,685.5 L334.1,690.0 L319.5,700.2 L317.1,701.8 L305.3,709.7Z M320.1,701.4 L328.6,695.4 L328.6,697.3 L320.1,703.3Z M317.2,708.6 L319.5,707.0 L334.1,696.6 L339.5,693.2 L339.5,695.1 L334.1,698.5 L319.5,708.9 L317.2,710.5Z M263.7,745.2 L274.6,739.1 L274.6,743.0 L263.7,749.1Z M330.4,702.7 L334.1,700.1 L350.2,689.8 L350.2,691.7 L334.1,701.9 L330.4,704.6Z M263.7,749.0 L281.5,739.1 L284.7,736.9 L284.7,739.0 L281.5,741.2 L263.7,751.1Z M322.8,711.7 L334.1,703.5 L350.2,693.2 L350.2,695.1 L334.1,705.3 L322.8,713.5Z M347.3,703.6 L350.2,701.8 L350.2,703.6 L347.3,705.5Z" fill="#8a8a8a"/>
<path d="M263.7,706.7 L281.5,696.4 L298.3,686.5 L298.7,686.2 L298.7,688.2 L298.3,688.5 L281.5,698.4 L263.7,708.8Z M327.3,672.1 L334.1,667.6 L350.2,657.3 L350.2,660.8 L334.1,671.1 L327.3,675.6Z M263.7,714.4 L268.7,711.5 L268.7,713.6 L263.7,716.5Z M263.7,716.3 L281.5,706.1 L293.9,698.4 L293.9,700.5 L281.5,708.2 L263.7,718.4Z M263.7,756.7 L278.7,748.4 L278.7,752.4 L263.7,760.6Z M263.7,760.6 L281.5,750.8 L287.5,746.4 L287.5,748.4 L281.5,752.9 L263.7,762.6Z" fill="#9e9e9e"/>
<path d="M263.7,708.6 L268.5,705.9 L268.5,707.9 L263.7,710.7Z M311.3,689.4 L317.1,685.7 L319.5,684.2 L334.1,674.5 L342.7,669.0 L342.7,670.8 L334.1,676.3 L319.5,686.1 L317.1,687.6 L311.3,691.3Z M263.7,720.2 L281.5,710.0 L288.3,705.7 L288.3,707.8 L281.5,712.0 L263.7,722.3Z M312.0,699.7 L317.1,696.3 L319.5,694.7 L333.1,685.4 L333.1,687.3 L319.5,696.6 L317.1,698.3 L312.0,701.6Z M290.5,715.7 L298.3,710.6 L317.1,698.1 L319.5,696.5 L334.1,686.4 L340.0,682.7 L340.0,684.5 L334.1,688.3 L319.5,698.4 L317.1,700.0 L298.3,712.6 L290.5,717.8Z M263.7,737.5 L266.9,735.7 L266.9,737.8 L263.7,739.6Z M263.7,741.3 L281.5,731.3 L298.3,719.9 L302.7,716.9 L302.7,720.6 L298.3,723.6 L281.5,735.3 L263.7,745.2Z M263.7,751.0 L281.5,741.0 L297.8,729.5 L297.8,731.5 L281.5,743.1 L263.7,753.0Z" fill="#a9a9a9"/>
<path d="M300.4,692.6 L312.2,685.2 L312.2,687.1 L300.4,694.6Z M286.7,712.5 L298.3,705.0 L317.1,692.8 L319.5,691.2 L331.2,683.3 L331.2,686.8 L319.5,694.8 L317.1,696.4 L298.3,708.8 L286.7,716.4Z M263.7,733.6 L279.6,724.6 L279.6,726.7 L263.7,735.7Z M343.2,687.5 L350.2,683.0 L350.2,684.8 L343.2,689.3Z M263.7,747.1 L281.5,737.2 L295.2,727.6 L295.2,731.4 L281.5,741.1 L263.7,751.0Z M342.0,696.8 L350.2,691.5 L350.2,693.4 L342.0,698.6Z M263.7,752.9 L281.5,743.0 L298.3,731.0 L300.9,729.2 L300.9,732.9 L298.3,734.8 L281.5,746.9 L263.7,756.8Z" fill="#b2b2b2"/>
<path d="M341.9,671.2 L350.2,665.9 L350.2,667.7 L341.9,673.1Z M263.7,724.0 L281.5,713.8 L284.0,712.3 L284.0,716.2 L281.5,717.8 L263.7,727.9Z M263.7,735.6 L281.5,725.5 L284.2,723.7 L284.2,727.6 L281.5,729.4 L263.7,739.5Z M263.7,743.3 L277.4,735.6 L277.4,737.7 L263.7,745.3Z M301.3,725.2 L312.4,717.3 L312.4,719.3 L301.3,727.2Z M263.7,754.8 L274.5,748.8 L274.5,750.9 L263.7,756.9Z M263.7,758.7 L281.5,748.8 L298.3,736.6 L307.9,729.5 L307.9,731.5 L298.3,738.6 L281.5,750.9 L263.7,760.7Z" fill="#949494"/>
<path d="M263.7,715.7 L281.5,705.4 L298.3,695.1 L317.1,683.3 L319.5,681.8 L334.1,672.2 L350.2,661.9 M263.7,726.6 L281.5,716.4 L298.3,705.6 L317.1,693.4 L319.5,691.8 L334.1,681.8 L350.2,671.6 M263.7,737.5 L281.5,727.4 L298.3,716.1 L317.1,703.4 L319.5,701.7 L334.1,691.5 L350.2,681.2 M263.7,748.3 L281.5,738.4 L298.3,726.6 L317.1,713.4 L319.5,711.7 L334.1,701.1 L350.2,690.9 M263.7,759.2 L281.5,749.4 L298.3,737.1 L317.1,723.4 L319.5,721.6 L334.1,710.8 L350.2,700.6" fill="none" stroke="#262626" stroke-width="0.5"/>
<path d="M275.1,698.1 V756.2 M294.1,687.1 V743.4 M313.1,675.7 V729.4 M332.1,663.8 V715.2" fill="none" stroke="#1e1e1e" stroke-width="0.8"/>
<polyline points="263.7,704.8 281.5,694.4 298.3,684.6 317.1,673.3 319.5,671.9 334.1,662.5 350.2,652.2" fill="none" stroke="#3a3a3a" stroke-width="1.8"/>
<line x1="264.3" y1="704.8" x2="264.3" y2="773.2" stroke="#777" stroke-width="1.6"/>
<line x1="263.5" y1="704.8" x2="263.5" y2="773.2" stroke="#333" stroke-width="0.6"/>
</g>
<polyline points="190.5,522.5 190.5,556.0 190.5,597.5" fill="none" stroke="#2a2a2a" stroke-width="0.5"/>
<use href="#dk2" x="190.5" y="520.5" stroke="#383838" fill="#333"/>
<polyline points="186.6,536.1 186.6,565.8 186.6,592.6" fill="none" stroke="#2a2a2a" stroke-width="0.5"/>
<use href="#dk2" x="186.6" y="534.1" stroke="#383838" fill="#333"/>
<polyline points="199.7,552.2 199.7,586.7 199.7,617.0" fill="none" stroke="#2a2a2a" stroke-width="0.5"/>
<use href="#dk2" x="199.7" y="550.2" stroke="#383838" fill="#333"/>
<polyline points="214.8,543.4 213.4,599.9 213.4,626.7" fill="none" stroke="#2a2a2a" stroke-width="0.5"/>
<use href="#dk2" x="214.8" y="541.4" stroke="#383838" fill="#333"/>
<polyline points="220.7,550.7 220.7,582.8 220.7,612.1" fill="none" stroke="#2a2a2a" stroke-width="0.5"/>
<use href="#dk2" x="220.7" y="548.7" stroke="#383838" fill="#333"/>
<polyline points="231.9,543.4 231.9,576.5 231.9,617.0" fill="none" stroke="#2a2a2a" stroke-width="0.5"/>
<use href="#dk2" x="231.9" y="541.4" stroke="#383838" fill="#333"/>
<polyline points="237.7,550.7 240.2,585.3 240.2,621.8" fill="none" stroke="#2a2a2a" stroke-width="0.5"/>
<use href="#dk2" x="237.7" y="548.7" stroke="#383838" fill="#333"/>
<polyline points="242.6,559.5 242.6,598.9 242.6,631.6" fill="none" stroke="#2a2a2a" stroke-width="0.5"/>
<use href="#dk2" x="242.6" y="557.5" stroke="#383838" fill="#333"/>
<polyline points="249.9,545.9 251.4,586.7 251.4,621.8" fill="none" stroke="#2a2a2a" stroke-width="0.5"/>
<use href="#dk2" x="249.9" y="543.9" stroke="#383838" fill="#333"/>
<polyline points="251.4,550.7 251.4,573.1 251.4,626.7" fill="none" stroke="#2a2a2a" stroke-width="0.5"/>
<use href="#dk2" x="251.4" y="548.7" stroke="#383838" fill="#333"/>
<polyline points="264.5,574.1 263.6,611.1 263.6,646.2" fill="none" stroke="#2a2a2a" stroke-width="0.5"/>
<use href="#dk2" x="264.5" y="572.1" stroke="#383838" fill="#333"/>
<polyline points="277.7,561.5 277.7,597.5 277.7,685.2" fill="none" stroke="#2a2a2a" stroke-width="0.5"/>
<use href="#dk2" x="277.7" y="559.5" stroke="#383838" fill="#333"/>
<polyline points="290.4,565.4 287.9,638.9 287.9,690.1" fill="none" stroke="#2a2a2a" stroke-width="0.5"/>
<use href="#dk2" x="290.4" y="563.4" stroke="#383838" fill="#333"/>
<polyline points="297.7,555.6 297.7,591.6 297.7,621.8" fill="none" stroke="#2a2a2a" stroke-width="0.5"/>
<use href="#dk2" x="297.7" y="553.6" stroke="#383838" fill="#333"/>
<polyline points="307.4,585.8 305.0,624.3 305.0,646.2" fill="none" stroke="#2a2a2a" stroke-width="0.5"/>
<use href="#dk2" x="307.4" y="583.8" stroke="#383838" fill="#333"/>
<polyline points="351.3,554.6 350.3,588.7 350.3,641.3" fill="none" stroke="#2a2a2a" stroke-width="0.5"/>
<use href="#dk2" x="351.3" y="552.6" stroke="#383838" fill="#333"/>
<polyline points="405.9,564.4 404.4,596.5 404.4,655.9" fill="none" stroke="#2a2a2a" stroke-width="0.5"/>
<use href="#dk2" x="405.9" y="562.4" stroke="#383838" fill="#333"/>
<polyline points="442.4,573.6 439.0,606.2 439.0,621.8" fill="none" stroke="#2a2a2a" stroke-width="0.5"/>
<use href="#dk2" x="442.4" y="571.6" stroke="#383838" fill="#333"/>
<polyline points="425.4,590.7 422.9,624.3 422.9,670.6" fill="none" stroke="#2a2a2a" stroke-width="0.5"/>
<use href="#dk2" x="425.4" y="588.7" stroke="#383838" fill="#333"/>
<polyline points="391.2,605.3 389.8,641.3 389.8,665.7" fill="none" stroke="#2a2a2a" stroke-width="0.5"/>
<use href="#dk2" x="391.2" y="603.3" stroke="#383838" fill="#333"/>
<polyline points="136.9,584.8 138.8,625.7 138.8,646.2" fill="none" stroke="#2a2a2a" stroke-width="0.5"/>
<use href="#dk2" x="136.9" y="582.8" stroke="#383838" fill="#333"/>
<polyline points="186.6,621.4 189.0,658.4 189.0,704.7" fill="none" stroke="#2a2a2a" stroke-width="0.5"/>
<use href="#dk2" x="186.6" y="619.4" stroke="#383838" fill="#333"/>
<polyline points="288.9,601.9 288.9,638.9 288.9,660.8" fill="none" stroke="#2a2a2a" stroke-width="0.5"/>
<use href="#dk2" x="288.9" y="599.9" stroke="#383838" fill="#333"/>
<polyline points="302.5,655.5 301.1,697.4 301.1,753.4" fill="none" stroke="#2a2a2a" stroke-width="0.5"/>
<use href="#dk2" x="302.5" y="653.5" stroke="#383838" fill="#333"/>
<polyline points="324.5,608.2 322.0,646.2 322.0,704.7" fill="none" stroke="#2a2a2a" stroke-width="0.5"/>
<use href="#dk2" x="324.5" y="606.2" stroke="#383838" fill="#333"/>
<polyline points="337.6,593.6 336.2,631.6 336.2,660.8" fill="none" stroke="#2a2a2a" stroke-width="0.5"/>
<use href="#dk2" x="337.6" y="591.6" stroke="#383838" fill="#333"/>
<polyline points="213.4,562.9 213.4,573.1 213.4,617.0" fill="none" stroke="#2a2a2a" stroke-width="0.5"/>
<use href="#dk2" x="213.4" y="560.9" stroke="#383838" fill="#333"/>
<polyline points="229.0,565.4 229.0,606.2 229.0,636.5" fill="none" stroke="#2a2a2a" stroke-width="0.5"/>
<use href="#dk2" x="229.0" y="563.4" stroke="#383838" fill="#333"/>
<polyline points="247.5,570.2 247.5,630.6 247.5,646.2" fill="none" stroke="#2a2a2a" stroke-width="0.5"/>
<use href="#dk2" x="247.5" y="568.2" stroke="#383838" fill="#333"/>
<line x1="141.5" y1="689" x2="141.5" y2="702" stroke="#333" stroke-width="0.8"/>
<line x1="190.4" y1="729" x2="190.4" y2="746" stroke="#bbb" stroke-width="0.9"/>
</g>
<g transform="translate(0.0 454.0)">
<path d="M33.8,627.4 C37.4,628.5 47.5,631.0 55.4,633.7 C63.2,636.5 72.4,639.2 80.9,643.9 C89.4,648.6 97.8,655.4 106.3,661.7 C114.8,668.1 124.4,676.2 131.7,682.0 C139.0,687.8 143.4,691.1 150.0,696.3 C156.6,701.5 164.1,707.6 171.2,713.2 C178.3,718.9 185.3,724.9 192.4,730.2 C199.5,735.5 205.7,739.7 213.6,745.0 C221.5,750.3 231.7,757.0 240.0,762.0 C248.3,767.0 256.1,770.8 263.7,774.7 C271.3,778.6 278.7,781.9 285.6,785.3 C292.5,788.7 302.0,793.5 305.3,795.1 L334.9,778.1 C338.8,775.3 352.8,765.4 358.6,761.2 C364.5,757.0 365.3,756.0 370.0,752.8 C374.7,749.5 379.8,746.7 386.9,741.7 C394.0,736.7 404.3,729.4 412.4,722.6 C420.5,715.8 428.5,708.0 435.7,700.9 C442.9,693.8 452.4,683.2 455.8,679.7 L440,660 L200,600 L113.9,628.6 C112.6,628.2 109.7,627.2 106.3,626.2 C102.9,625.2 97.8,623.6 93.6,622.6 C89.4,621.6 85.2,620.9 80.9,620.3 C76.7,619.7 72.3,619.3 68.1,619.2 C63.8,619.1 59.6,619.2 55.4,619.9 C51.2,620.6 46.3,622.1 42.7,623.4 C39.1,624.6 35.3,626.7 33.8,627.4Z" fill="#212121"/>
<defs><clipPath id="bkpetro"><path d="M33.8,627.4 C37.4,628.5 47.5,631.0 55.4,633.7 C63.2,636.5 72.4,639.2 80.9,643.9 C89.4,648.6 97.8,655.4 106.3,661.7 C114.8,668.1 124.4,676.2 131.7,682.0 C139.0,687.8 143.4,691.1 150.0,696.3 C156.6,701.5 164.1,707.6 171.2,713.2 C178.3,718.9 185.3,724.9 192.4,730.2 C199.5,735.5 205.7,739.7 213.6,745.0 C221.5,750.3 231.7,757.0 240.0,762.0 C248.3,767.0 256.1,770.8 263.7,774.7 C271.3,778.6 278.7,781.9 285.6,785.3 C292.5,788.7 302.0,793.5 305.3,795.1 L334.9,778.1 C338.8,775.3 352.8,765.4 358.6,761.2 C364.5,757.0 365.3,756.0 370.0,752.8 C374.7,749.5 379.8,746.7 386.9,741.7 C394.0,736.7 404.3,729.4 412.4,722.6 C420.5,715.8 428.5,708.0 435.7,700.9 C442.9,693.8 452.4,683.2 455.8,679.7 L440,660 L200,600 L113.9,628.6 C112.6,628.2 109.7,627.2 106.3,626.2 C102.9,625.2 97.8,623.6 93.6,622.6 C89.4,621.6 85.2,620.9 80.9,620.3 C76.7,619.7 72.3,619.3 68.1,619.2 C63.8,619.1 59.6,619.2 55.4,619.9 C51.2,620.6 46.3,622.1 42.7,623.4 C39.1,624.6 35.3,626.7 33.8,627.4Z"/></clipPath><clipPath id="flpetro"><polygon points="458.5,659.1 439.7,674.1 387.1,715.6 363.5,731.7 330.0,757.5 307.0,777.8 281.4,768.3 234.7,749.2 213.6,739.7 199.0,733.8 190.0,700.0 165.0,660.0 165.0,640.0 190.0,598.0 440.7,655.8"/></clipPath></defs>
<g clip-path="url(#bkpetro)"><ellipse cx="90" cy="640" rx="50" ry="9" fill="#2e2e2e" filter="url(#bl6)" transform="rotate(24 90 640)"/></g>
<polygon points="263.7,750.0 263.7,774.7 267.0,775.5 283.0,766.0 283.0,750.0" fill="#646464"/>
<polygon points="364.6,725.0 364.6,735.8 387.5,740.8 389.2,713.0" fill="#6e6e6e"/>
<polygon points="415.0,680.0 416.0,692.0 436.8,697.5 440.0,672.0" fill="#6e6e6e"/>
<polygon points="458.5,659.1 439.7,674.1 387.1,715.6 363.5,731.7 330.0,757.5 307.0,777.8 281.4,768.3 234.7,749.2 213.6,739.7 199.0,733.8 190.0,700.0 165.0,660.0 165.0,640.0 190.0,598.0 440.7,655.8" fill="#4d4d4d"/>
<g clip-path="url(#flpetro)">
<path d="M321.1,769.2 L330.7,762.2 L323.3,759.7 L313.8,766.7Z M344.8,751.9 L358.8,741.6 L351.5,739.2 L337.5,749.4Z M408.3,705.4 L417.0,699.1 L409.8,696.7 L401.1,703.1Z M425.6,692.7 L434.2,686.5 L427.1,684.2 L418.5,690.4Z M314.2,766.8 L319.0,763.3 L311.7,760.8 L306.9,764.3Z M352.0,739.3 L370.3,726.0 L363.1,723.6 L344.7,736.9Z M401.6,703.2 L414.6,693.7 L407.5,691.4 L394.4,700.9Z M423.2,687.4 L431.8,681.2 L424.7,678.9 L416.2,685.1Z M302.5,767.9 L307.3,764.4 L300.0,761.9 L295.2,765.4Z M359.0,727.0 L368.1,720.4 L360.9,718.0 L351.8,724.6Z M399.3,697.8 L420.9,682.2 L413.8,679.9 L392.1,695.5Z M290.7,769.0 L300.5,762.0 L293.2,759.5 L283.4,766.5Z M356.8,721.4 L365.9,714.9 L358.7,712.5 L349.6,719.0Z M448.0,655.7 L452.1,652.8 L445.1,650.6 L441.0,653.5Z M283.9,766.6 L298.4,756.2 L291.2,753.7 L276.6,764.1Z M340.9,725.8 L359.2,712.6 L352.0,710.3 L333.7,723.3Z M286.8,757.3 L296.4,750.4 L289.2,747.9 L279.5,754.7Z M329.5,726.8 L338.8,720.2 L331.6,717.8 L322.3,724.3Z M280.0,754.9 L289.6,748.0 L282.4,745.5 L272.7,752.4Z M322.8,724.5 L327.4,721.2 L320.3,718.8 L315.6,722.1Z M345.8,708.2 L363.8,695.4 L356.8,693.1 L338.7,705.8Z M263.4,759.4 L287.7,742.3 L280.5,739.8 L256.1,756.9Z M316.1,722.2 L325.4,715.7 L318.3,713.3 L308.9,719.8Z M334.6,709.2 L366.1,686.9 L359.1,684.6 L327.5,706.8Z M256.6,757.1 L285.7,736.6 L278.6,734.1 L249.3,754.5Z M309.4,720.0 L341.6,697.3 L334.5,695.0 L302.3,717.5Z M355.1,687.9 L368.3,678.5 L361.4,676.3 L348.0,685.6Z M415.5,645.4 L419.7,642.5 L412.8,640.3 L408.6,643.2Z M259.6,747.8 L325.9,701.5 L318.8,699.2 L252.4,745.3Z M366.2,673.3 L370.6,670.3 L363.6,668.0 L359.2,671.1Z M400.7,649.3 L409.1,643.4 L402.2,641.2 L393.8,647.1Z M252.9,745.5 L272.3,732.0 L265.2,729.5 L245.7,743.0Z M310.0,705.7 L319.3,699.3 L312.2,697.0 L303.0,703.3Z M364.1,668.2 L368.4,665.1 L361.5,662.9 L357.1,665.9Z M394.2,647.2 L398.4,644.3 L391.6,642.1 L387.4,645.0Z M236.3,750.0 L251.0,739.7 L243.9,737.3 L229.1,747.5Z M308.1,700.3 L326.4,687.6 L319.4,685.3 L301.0,697.9Z M353.2,669.1 L361.9,663.0 L355.0,660.8 L346.3,666.8Z M387.8,645.1 L400.4,636.4 L393.6,634.2 L380.9,642.9Z M319.8,685.5 L346.7,667.0 L339.8,664.7 L312.9,683.1Z M377.1,646.0 L385.6,640.2 L378.8,638.0 L370.3,643.8Z M322.3,677.1 L331.3,670.9 L324.4,668.7 L315.4,674.8Z M362.1,649.9 L379.2,638.1 L372.4,636.0 L355.3,647.7Z M245.6,722.8 L250.5,719.5 L243.4,717.1 L238.6,720.4Z M269.6,706.5 L279.0,700.0 L272.0,697.7 L262.6,704.1Z M351.3,650.8 L372.9,636.1 L366.1,633.9 L344.5,648.6Z M234.2,723.8 L239.0,720.5 L232.0,718.1 L227.1,721.4Z M267.8,701.0 L272.5,697.8 L265.5,695.5 L260.8,698.7Z M344.9,648.7 L349.3,645.7 L342.5,643.5 L338.1,646.5Z M357.9,639.9 L366.5,634.1 L359.7,631.9 L351.2,637.7Z M217.7,728.2 L232.4,718.2 L225.4,715.8 L210.7,725.7Z M261.2,698.8 L265.9,695.6 L259.0,693.3 L254.3,696.5Z M338.5,646.6 L355.9,634.9 L349.1,632.8 L331.8,644.4Z M201.1,732.6 L225.8,716.0 L218.8,713.6 L194.1,730.1Z M254.7,696.6 L264.1,690.3 L257.2,687.9 L247.7,694.3Z M189.5,733.6 L229.0,707.2 L222.0,704.8 L182.5,731.1Z M248.2,694.4 L262.3,684.9 L255.4,682.6 L241.3,692.1Z M187.9,728.0 L265.2,676.6 L258.3,674.3 L180.9,725.5Z M230.4,693.2 L249.4,680.6 L242.5,678.3 L223.5,690.8Z M258.8,674.4 L268.0,668.3 L261.2,666.0 L251.9,672.1Z M228.7,687.8 L238.3,681.6 L231.4,679.3 L221.9,685.5Z M261.6,666.2 L270.9,660.1 L264.1,657.9 L254.8,663.9Z M178.3,714.5 L222.3,685.6 L215.4,683.3 L171.3,712.1Z M255.3,664.0 L264.5,658.0 L257.7,655.8 L248.5,661.8Z M161.7,718.8 L166.8,715.5 L159.8,713.1 L154.8,716.4Z M244.2,665.0 L253.5,658.9 L246.8,656.7 L237.5,662.7Z M150.1,719.8 L155.2,716.5 L148.3,714.1 L143.2,717.4Z M209.5,681.3 L237.9,662.8 L231.1,660.6 L202.6,679.0Z M148.7,714.3 L153.8,711.0 L146.9,708.6 L141.8,711.9Z M198.2,682.3 L207.9,676.0 L201.1,673.7 L191.4,679.9Z M147.3,708.7 L167.3,695.9 L160.5,693.5 L140.4,706.3Z M182.1,686.4 L191.8,680.1 L185.0,677.8 L175.3,684.0Z M262.1,634.9 L284.4,620.6 L277.8,618.4 L255.4,632.8Z M175.7,684.2 L180.6,681.0 L173.8,678.7 L168.9,681.9Z M209.5,662.6 L223.6,653.5 L216.9,651.3 L202.7,660.3Z M251.3,635.8 L255.8,632.9 L249.2,630.7 L244.6,633.6Z M269.3,624.3 L273.8,621.4 L267.2,619.3 L262.7,622.1Z M174.2,678.9 L184.0,672.7 L177.2,670.4 L167.5,676.6Z M198.4,663.5 L245.0,633.8 L238.4,631.6 L191.7,661.2Z M263.1,622.3 L267.6,619.4 L261.0,617.3 L256.5,620.1Z M167.9,676.7 L206.3,652.3 L199.6,650.1 L161.1,674.4Z M256.9,620.3 L265.9,614.6 L259.3,612.5 L250.3,618.1Z M161.5,674.6 L195.3,653.2 L188.6,651.0 L154.8,672.3Z M255.2,615.4 L264.1,609.8 L257.6,607.7 L248.7,613.3Z M160.1,669.3 L184.3,654.2 L177.6,651.9 L153.4,667.1Z M253.6,610.6 L262.4,605.1 L255.9,603.0 L247.0,608.5Z M124.0,685.8 L158.7,664.1 L152.0,661.9 L117.3,683.5Z M247.4,608.7 L256.3,603.1 L249.8,601.0 L240.9,606.6Z M97.3,696.3 L107.6,690.0 L100.8,687.6 L90.6,694.0Z M236.8,609.5 L245.8,603.9 L239.3,601.8 L230.3,607.4Z M85.8,697.3 L96.1,690.9 L89.4,688.6 L79.1,695.0Z M207.9,621.7 L230.7,607.5 L224.2,605.4 L201.4,619.5Z M79.5,695.1 L89.8,688.7 L83.1,686.4 L72.7,692.7Z M164.2,642.9 L215.6,611.2 L209.1,609.1 L157.6,640.7Z M247.0,591.8 L251.4,589.1 L244.9,587.0 L240.5,589.7Z M73.2,692.9 L93.7,680.3 L87.0,677.9 L66.4,690.5Z M153.2,643.8 L181.7,626.2 L175.2,624.1 L146.6,641.5Z M200.3,614.8 L214.0,606.4 L207.6,604.3 L193.8,612.7Z M240.9,589.9 L245.4,587.2 L238.9,585.1 L234.5,587.8Z M92.5,675.0 L97.6,671.9 L91.0,669.6 L85.9,672.7Z M147.0,641.7 L156.6,635.8 L150.1,633.6 L140.4,639.5Z M161.4,632.9 L170.9,627.1 L164.4,624.9 L154.9,630.7Z M203.4,607.2 L234.9,588.0 L228.5,585.9 L196.9,605.1Z M96.4,666.7 L111.4,657.5 L104.8,655.3 L89.8,664.4Z M136.0,642.6 L145.7,636.7 L139.1,634.5 L129.4,640.4Z M155.3,630.9 L164.8,625.1 L158.2,622.9 L148.7,628.7Z M192.7,608.0 L201.9,602.5 L195.5,600.4 L186.3,606.0Z M215.5,594.2 L228.9,586.0 L222.5,584.0 L209.1,592.1Z M110.2,652.4 L139.5,634.6 L133.0,632.5 L103.6,650.2Z M149.1,628.8 L158.7,623.1 L152.2,620.9 L142.6,626.7Z M182.1,608.9 L186.7,606.1 L180.2,604.0 L175.6,606.8Z M68.7,671.6 L89.1,659.4 L82.5,657.1 L62.1,669.3Z M113.9,644.4 L128.6,635.5 L122.1,633.3 L107.4,642.1Z M147.8,623.9 L157.3,618.2 L150.8,616.1 L141.3,621.8Z M171.4,609.7 L180.6,604.1 L174.2,602.0 L164.9,607.6Z" fill="#585858"/>
<path d="M330.7,762.2 L344.8,751.9 L337.5,749.4 L323.3,759.7Z M417.0,699.1 L425.6,692.7 L418.5,690.4 L409.8,696.7Z M319.0,763.3 L352.0,739.3 L344.7,736.9 L311.7,760.8Z M414.6,693.7 L423.2,687.4 L416.2,685.1 L407.5,691.4Z M307.3,764.4 L359.0,727.0 L351.8,724.6 L300.0,761.9Z M300.5,762.0 L356.8,721.4 L349.6,719.0 L293.2,759.5Z M298.4,756.2 L340.9,725.8 L333.7,723.3 L291.2,753.7Z M296.4,750.4 L329.5,726.8 L322.3,724.3 L289.2,747.9Z M289.6,748.0 L322.8,724.5 L315.6,722.1 L282.4,745.5Z M287.7,742.3 L316.1,722.2 L308.9,719.8 L280.5,739.8Z M285.7,736.6 L309.4,720.0 L302.3,717.5 L278.6,734.1Z M341.6,697.3 L355.1,687.9 L348.0,685.6 L334.5,695.0Z M249.8,754.7 L259.6,747.8 L252.4,745.3 L242.6,752.2Z M325.9,701.5 L366.2,673.3 L359.2,671.1 L318.8,699.2Z M409.1,643.4 L413.3,640.4 L406.4,638.3 L402.2,641.2Z M243.0,752.3 L252.9,745.5 L245.7,743.0 L235.8,749.8Z M319.3,699.3 L364.1,668.2 L357.1,665.9 L312.2,697.0Z M398.4,644.3 L406.8,638.4 L400.0,636.2 L391.6,642.1Z M326.4,687.6 L353.2,669.1 L346.3,666.8 L319.4,685.3Z M250.5,719.5 L269.6,706.5 L262.6,704.1 L243.4,717.1Z M239.0,720.5 L267.8,701.0 L260.8,698.7 L232.0,718.1Z M349.3,645.7 L357.9,639.9 L351.2,637.7 L342.5,643.5Z M232.4,718.2 L261.2,698.8 L254.3,696.5 L225.4,715.8Z M225.8,716.0 L254.7,696.6 L247.7,694.3 L218.8,713.6Z M229.0,707.2 L248.2,694.4 L241.3,692.1 L222.0,704.8Z M249.4,680.6 L258.8,674.4 L251.9,672.1 L242.5,678.3Z M238.3,681.6 L261.6,666.2 L254.8,663.9 L231.4,679.3Z M222.3,685.6 L255.3,664.0 L248.5,661.8 L215.4,683.3Z M166.8,715.5 L244.2,665.0 L237.5,662.7 L159.8,713.1Z M155.2,716.5 L209.5,681.3 L202.6,679.0 L148.3,714.1Z M153.8,711.0 L198.2,682.3 L191.4,679.9 L146.9,708.6Z M167.3,695.9 L182.1,686.4 L175.3,684.0 L160.5,693.5Z M255.8,632.9 L269.3,624.3 L262.7,622.1 L249.2,630.7Z M245.0,633.8 L263.1,622.3 L256.5,620.1 L238.4,631.6Z M206.3,652.3 L256.9,620.3 L250.3,618.1 L199.6,650.1Z M195.3,653.2 L255.2,615.4 L248.7,613.3 L188.6,651.0Z M184.3,654.2 L253.6,610.6 L247.0,608.5 L177.6,651.9Z M158.7,664.1 L247.4,608.7 L240.9,606.6 L152.0,661.9Z M107.6,690.0 L236.8,609.5 L230.3,607.4 L100.8,687.6Z M96.1,690.9 L207.9,621.7 L201.4,619.5 L89.4,688.6Z M89.8,688.7 L164.2,642.9 L157.6,640.7 L83.1,686.4Z M93.7,680.3 L153.2,643.8 L146.6,641.5 L87.0,677.9Z M181.7,626.2 L200.3,614.8 L193.8,612.7 L175.2,624.1Z M97.6,671.9 L147.0,641.7 L140.4,639.5 L91.0,669.6Z M170.9,627.1 L203.4,607.2 L196.9,605.1 L164.4,624.9Z M111.4,657.5 L136.0,642.6 L129.4,640.4 L104.8,655.3Z M164.8,625.1 L192.7,608.0 L186.3,606.0 L158.2,622.9Z M158.7,623.1 L182.1,608.9 L175.6,606.8 L152.2,620.9Z M157.3,618.2 L171.4,609.7 L164.9,607.6 L150.8,616.1Z" fill="#626262"/>
<path d="M386.1,721.7 L399.5,711.9 L392.3,709.5 L378.9,719.2Z M438.4,683.4 L471.7,659.0 L464.7,656.8 L431.3,681.1Z M379.3,719.4 L397.2,706.4 L390.0,704.1 L372.1,717.0Z M436.0,678.1 L465.2,656.9 L458.2,654.7 L429.0,675.8Z M372.6,717.1 L390.5,704.2 L383.3,701.9 L365.4,714.7Z M429.4,676.0 L450.4,660.8 L443.4,658.6 L422.4,673.7Z M370.4,711.6 L388.2,698.8 L381.1,696.5 L363.2,709.3Z M422.8,673.9 L439.7,661.7 L432.7,659.5 L415.8,671.6Z M368.2,706.2 L399.0,684.1 L392.0,681.8 L361.1,703.8Z M412.0,674.8 L433.1,659.6 L426.2,657.4 L405.0,672.5Z M370.4,697.6 L430.8,654.6 L423.8,652.4 L363.4,695.2Z M372.7,689.1 L428.4,649.5 L421.5,647.3 L365.7,686.8Z M374.9,680.7 L417.8,650.4 L410.9,648.2 L367.9,678.4Z M377.1,672.4 L407.1,651.3 L400.2,649.1 L370.1,670.1Z M374.9,667.2 L396.4,652.2 L389.5,650.0 L368.0,665.0Z M291.4,718.7 L300.7,712.2 L293.7,709.8 L284.3,716.3Z M372.8,662.1 L385.7,653.1 L378.8,650.9 L365.9,659.9Z M270.4,726.3 L298.8,706.7 L291.7,704.3 L263.3,723.9Z M370.6,657.0 L375.0,654.0 L368.1,651.8 L363.8,654.8Z M244.3,737.4 L292.2,704.5 L285.2,702.1 L237.2,734.9Z M359.8,657.9 L368.5,651.9 L361.7,649.7 L353.0,655.7Z M222.8,745.3 L252.3,725.1 L245.2,722.6 L215.7,742.8Z M290.3,699.1 L313.3,683.3 L306.3,681.0 L283.3,696.7Z M216.1,742.9 L235.9,729.4 L228.8,727.0 L209.0,740.4Z M283.7,696.9 L342.6,656.7 L335.7,654.5 L276.7,694.5Z M377.1,633.2 L381.3,630.3 L374.6,628.2 L370.3,631.0Z M209.4,740.6 L219.4,733.8 L212.3,731.4 L202.3,738.1Z M277.2,694.7 L336.2,654.6 L329.3,652.4 L270.2,692.3Z M270.6,692.5 L334.2,649.6 L327.4,647.4 L263.7,690.1Z M268.8,687.1 L332.2,644.6 L325.4,642.4 L261.9,684.8Z M267.0,681.8 L351.8,625.1 L345.1,623.0 L260.1,679.5Z M274.5,670.4 L349.8,620.3 L343.1,618.2 L267.6,668.1Z M176.3,729.0 L181.4,725.7 L174.4,723.2 L169.3,726.5Z M290.9,653.2 L343.5,618.3 L336.9,616.2 L284.1,651.0Z M169.7,726.7 L179.8,720.1 L172.8,717.6 L162.7,724.2Z M289.0,648.1 L337.3,616.3 L330.6,614.2 L282.3,645.9Z M163.2,724.4 L168.2,721.1 L161.3,718.7 L156.2,722.0Z M282.7,646.1 L331.1,614.4 L324.4,612.3 L276.0,643.9Z M276.4,644.0 L320.5,615.2 L313.9,613.1 L269.7,641.8Z M247.2,656.8 L301.3,621.7 L294.6,619.6 L240.4,654.6Z M236.2,657.7 L268.3,637.0 L261.6,634.8 L229.5,655.5Z M234.6,652.6 L257.5,637.8 L250.9,635.7 L227.8,650.4Z M288.8,617.7 L306.3,606.5 L299.7,604.4 L282.2,615.6Z M130.7,713.0 L140.8,706.5 L134.0,704.1 L123.8,710.6Z M278.2,618.6 L300.1,604.5 L293.6,602.5 L271.6,616.4Z M124.2,710.8 L164.4,685.1 L157.6,682.8 L117.3,708.4Z M272.0,616.6 L294.0,602.6 L287.4,600.5 L265.4,614.5Z M117.8,708.5 L158.0,683.0 L151.3,680.6 L110.9,706.1Z M270.3,611.8 L287.8,600.6 L281.3,598.6 L263.7,609.7Z M121.6,699.8 L156.6,677.7 L149.9,675.4 L114.8,697.4Z M120.3,694.4 L150.3,675.5 L143.6,673.2 L113.5,692.0Z M229.1,602.8 L238.1,597.3 L231.6,595.2 L222.7,600.7Z M65.8,685.3 L86.3,672.8 L79.7,670.5 L59.1,683.0Z M64.7,680.0 L69.8,676.9 L63.2,674.6 L58.0,677.7Z M195.9,600.5 L209.5,592.3 L203.1,590.2 L189.4,598.4Z M185.2,601.3 L212.5,584.9 L206.1,582.9 L178.8,599.3Z" fill="#3f3f3f"/>
<path d="M323.1,780.3 L27.3,676.8 M339.0,768.5 L44.6,666.5 M354.8,756.9 L61.7,656.4 M370.2,745.5 L78.6,646.4 M385.4,734.3 L95.2,636.5 M400.4,723.2 L111.5,626.8 M415.1,712.4 L127.6,617.2 M429.6,701.7 L143.4,607.8 M443.9,691.1 L159.1,598.5 M457.9,680.8 L174.4,589.4 M471.8,670.5 L189.6,580.4 M485.4,660.5 L204.5,571.5 M303.4,782.2 L487.9,647.1 M280.3,774.1 L466.2,640.3 M257.4,766.1 L444.7,633.6 M234.7,758.1 L423.4,626.9 M212.2,750.2 L402.3,620.2 M190.0,742.3 L381.3,613.6 M167.9,734.6 L360.5,607.1 M146.0,726.9 L339.8,600.6 M124.3,719.3 L319.3,594.2 M102.7,711.7 L299.0,587.8 M81.4,704.2 L278.8,581.5 M60.3,696.7 L258.8,575.2 M39.3,689.4 L239.0,568.9" fill="none" stroke="#242424" stroke-width="0.7"/>
</g>
<defs><clipPath id="wcpetro"><path d="M0,480 L33.8,627.4 L33.8,627.4 C37.4,628.5 47.5,631.0 55.4,633.7 C63.2,636.5 72.4,639.2 80.9,643.9 C89.4,648.6 97.8,655.4 106.3,661.7 C114.8,668.1 124.4,676.2 131.7,682.0 C139.0,687.8 143.4,691.1 150.0,696.3 C156.6,701.5 164.1,707.6 171.2,713.2 C178.3,718.9 185.3,724.9 192.4,730.2 C199.5,735.5 205.7,739.7 213.6,745.0 C221.5,750.3 231.7,757.0 240.0,762.0 C248.3,767.0 256.1,770.8 263.7,774.7 C271.3,778.6 278.7,781.9 285.6,785.3 C292.5,788.7 302.0,793.5 305.3,795.1 L334.9,778.1 C338.8,775.3 352.8,765.4 358.6,761.2 C364.5,757.0 365.3,756.0 370.0,752.8 C374.7,749.5 379.8,746.7 386.9,741.7 C394.0,736.7 404.3,729.4 412.4,722.6 C420.5,715.8 428.5,708.0 435.7,700.9 C442.9,693.8 452.4,683.2 455.8,679.7 L476,660 L476,480 Z"/></clipPath></defs>
<g clip-path="url(#wcpetro)">
<polygon points="229.0,569.5 259.2,558.2 259.2,596.0 229.0,611.0" fill="#646464"/>
<path d="M229.0,569.5 L242.1,564.6 L242.1,567.0 L229.0,572.0Z M255.5,574.5 L259.2,572.9 L259.2,575.1 L255.5,576.7Z" fill="#747474"/>
<path d="M253.2,560.5 L259.2,558.2 L259.2,560.5 L253.2,562.7Z M236.2,573.6 L259.2,564.5 L259.2,566.8 L236.2,576.0Z M229.0,578.7 L259.2,566.6 L259.2,568.9 L229.0,581.2Z M229.0,585.6 L239.6,581.2 L239.6,583.6 L229.0,588.1Z M241.9,580.2 L254.6,574.8 L254.6,577.1 L241.9,582.6Z M245.5,587.5 L259.2,581.3 L259.2,583.5 L245.5,589.8Z M229.0,604.1 L259.2,589.7 L259.2,591.9 L229.0,606.5Z" fill="#5c5c5c"/>
<path d="M229.0,571.8 L253.2,562.6 L253.2,564.9 L229.0,574.3Z M229.0,606.4 L245.6,598.4 L245.6,600.7 L229.0,608.8Z" fill="#686868"/>
<path d="M229.0,574.1 L230.8,573.4 L230.8,575.8 L229.0,576.6Z M229.0,590.2 L259.2,577.1 L259.2,579.4 L229.0,592.7Z M229.0,608.7 L249.0,598.9 L249.0,601.2 L229.0,611.1Z" fill="#606060"/>
<path d="M238.4,570.5 L259.2,562.4 L259.2,564.6 L238.4,572.8Z M248.2,579.7 L259.2,575.0 L259.2,577.2 L248.2,582.0Z M247.6,588.7 L259.2,583.4 L259.2,585.6 L247.6,591.0Z M252.0,595.3 L259.2,591.8 L259.2,594.0 L252.0,597.6Z" fill="#646464"/>
<path d="M229.0,576.4 L234.0,574.4 L234.0,576.9 L229.0,578.9Z M229.0,597.2 L246.1,589.4 L246.1,591.7 L229.0,599.6Z M229.0,601.8 L233.2,599.8 L233.2,602.2 L229.0,604.2Z" fill="#6c6c6c"/>
<path d="M229.0,581.0 L259.2,568.7 L259.2,571.0 L229.0,583.5Z M229.0,587.9 L236.8,584.6 L236.8,587.0 L229.0,590.4Z" fill="#585858"/>
<path d="M229.0,583.3 L242.5,577.7 L242.5,580.1 L229.0,585.8Z" fill="#848484"/>
<path d="M245.4,576.5 L259.2,570.8 L259.2,573.0 L245.4,578.9Z M256.7,586.7 L259.2,585.5 L259.2,587.8 L256.7,588.9Z" fill="#7c7c7c"/>
<path d="M229.0,592.6 L259.2,579.2 L259.2,581.5 L229.0,595.0Z" fill="#484848"/>
<path d="M229.0,594.9 L234.9,592.2 L234.9,594.6 L229.0,597.3Z" fill="#808080"/>
<path d="M229.0,599.5 L243.9,592.6 L243.9,595.0 L229.0,601.9Z M250.9,598.0 L259.2,593.9 L259.2,596.1 L250.9,600.3Z" fill="#545454"/>
<path d="M234.3,599.3 L259.2,587.6 L259.2,589.9 L234.3,601.7Z" fill="#707070"/>
<path d="M229.0,574.5 L259.2,562.8 M229.0,579.5 L259.2,567.3 M229.0,584.5 L259.2,571.9 M229.0,589.5 L259.2,576.4 M229.0,594.5 L259.2,581.0 M229.0,599.5 L259.2,585.5 M229.0,604.5 L259.2,590.1 M229.0,609.5 L259.2,594.6" fill="none" stroke="#2c2c2c" stroke-width="0.5"/>
<path d="M239.8,565.5 V605.6" fill="none" stroke="#1e1e1e" stroke-width="0.8"/>
<polyline points="229.0,569.5 259.2,558.2" fill="none" stroke="#3e3e3e" stroke-width="1.8"/>
<polygon points="316.3,593.9 341.7,580.1 341.7,620.0 316.3,637.0" fill="#646464"/>
<path d="M316.3,593.9 L335.0,583.7 L335.0,586.1 L316.3,596.4Z M316.3,613.1 L334.5,602.2 L334.5,604.6 L316.3,615.6Z M328.5,612.7 L341.7,604.5 L341.7,606.9 L328.5,615.1Z" fill="#505050"/>
<path d="M337.1,582.6 L341.7,580.1 L341.7,582.5 L337.1,585.0Z M316.3,634.6 L338.9,619.6 L338.9,622.0 L316.3,637.1Z" fill="#444444"/>
<path d="M316.3,596.3 L330.0,588.8 L330.0,591.2 L316.3,598.8Z M316.3,617.8 L325.7,612.1 L325.7,614.6 L316.3,620.4Z" fill="#707070"/>
<path d="M336.3,585.3 L341.7,582.3 L341.7,584.7 L336.3,587.7Z M322.2,595.4 L341.7,584.5 L341.7,586.9 L322.2,597.9Z M316.3,601.1 L317.0,600.7 L317.0,603.2 L316.3,603.6Z M316.3,605.9 L334.4,595.4 L334.4,597.8 L316.3,608.4Z M330.7,622.8 L339.8,616.8 L339.8,619.2 L330.7,625.2Z" fill="#585858"/>
<path d="M316.3,598.7 L316.9,598.4 L316.9,600.9 L316.3,601.2Z M316.3,620.2 L326.1,614.2 L326.1,616.6 L316.3,622.8Z M316.3,627.4 L326.9,620.6 L326.9,623.1 L316.3,630.0Z M316.3,629.8 L332.5,619.3 L332.5,621.8 L316.3,632.4Z" fill="#646464"/>
<path d="M320.8,598.5 L341.7,586.8 L341.7,589.1 L320.8,601.1Z M325.3,605.3 L341.7,595.6 L341.7,598.0 L325.3,607.8Z M322.5,611.7 L341.7,600.0 L341.7,602.4 L322.5,614.2Z" fill="#545454"/>
<path d="M316.3,603.5 L323.3,599.5 L323.3,602.0 L316.3,606.0Z" fill="#747474"/>
<path d="M332.6,594.2 L341.7,589.0 L341.7,591.3 L332.6,596.6Z M316.3,608.3 L341.7,593.4 L341.7,595.8 L316.3,610.8Z M316.3,622.6 L330.4,613.8 L330.4,616.2 L316.3,625.2Z M339.3,608.2 L341.7,606.7 L341.7,609.1 L339.3,610.6Z M321.4,621.8 L341.7,608.9 L341.7,611.3 L321.4,624.3Z" fill="#606060"/>
<path d="M328.0,610.7 L341.7,602.3 L341.7,604.6 L328.0,613.1Z" fill="#484848"/>
<path d="M331.4,617.7 L340.5,611.9 L340.5,614.3 L331.4,620.2Z M316.3,632.2 L329.1,623.8 L329.1,626.3 L316.3,634.8Z" fill="#686868"/>
<path d="M340.7,614.0 L341.7,613.4 L341.7,615.7 L340.7,616.4Z" fill="#808080"/>
<path d="M316.3,599.1 L341.7,584.9 M316.3,604.3 L341.7,589.7 M316.3,609.5 L341.7,594.5 M316.3,614.7 L341.7,599.3 M316.3,619.9 L341.7,604.1 M316.3,625.1 L341.7,608.9 M316.3,630.2 L341.7,613.8 M316.3,635.4 L341.7,618.6" fill="none" stroke="#2c2c2c" stroke-width="0.5"/>
<path d="M327.1,588.0 V629.8" fill="none" stroke="#1e1e1e" stroke-width="0.8"/>
<polyline points="316.3,593.9 341.7,580.1" fill="none" stroke="#3e3e3e" stroke-width="1.8"/>
<polygon points="403.0,614.9 425.4,601.0 425.4,650.0 403.0,665.0" fill="#646464"/>
<path d="M411.2,609.8 L425.4,601.0 L425.4,603.9 L411.2,612.7Z M403.0,626.0 L413.5,619.4 L413.5,622.3 L403.0,628.9Z" fill="#6c6c6c"/>
<path d="M403.0,617.6 L424.7,604.1 L424.7,607.0 L403.0,620.6Z M423.8,632.0 L425.4,630.9 L425.4,633.8 L423.8,634.9Z M408.1,645.0 L425.4,633.7 L425.4,636.5 L408.1,647.9Z M403.0,656.6 L414.6,649.0 L414.6,651.9 L403.0,659.6Z" fill="#707070"/>
<path d="M403.0,620.4 L404.0,619.8 L404.0,622.8 L403.0,623.4Z M409.3,630.3 L425.4,620.1 L425.4,622.9 L409.3,633.3Z M411.4,634.5 L425.4,625.5 L425.4,628.4 L411.4,637.4Z M406.0,649.1 L425.4,636.4 L425.4,639.3 L406.0,652.0Z M403.0,662.2 L416.7,653.1 L416.7,656.0 L403.0,665.1Z" fill="#686868"/>
<path d="M416.5,612.0 L425.4,606.4 L425.4,609.3 L416.5,614.9Z" fill="#646464"/>
<path d="M403.0,623.2 L425.4,609.2 L425.4,612.0 L403.0,626.2Z M403.0,628.8 L425.4,614.6 L425.4,617.5 L403.0,631.7Z M403.3,631.4 L421.5,619.8 L421.5,622.7 L403.3,634.3Z M403.0,659.4 L425.4,644.6 L425.4,647.4 L403.0,662.4Z M418.7,651.7 L425.4,647.3 L425.4,650.1 L418.7,654.6Z" fill="#585858"/>
<path d="M403.0,637.1 L425.4,622.8 L425.4,625.6 L403.0,640.1Z" fill="#4c4c4c"/>
<path d="M403.0,639.9 L408.0,636.7 L408.0,639.7 L403.0,642.9Z M403.0,648.3 L407.6,645.3 L407.6,648.2 L403.0,651.2Z" fill="#606060"/>
<path d="M403.0,642.7 L407.9,639.5 L407.9,642.4 L403.0,645.7Z M403.0,653.9 L425.4,639.1 L425.4,642.0 L403.0,656.8Z" fill="#505050"/>
<path d="M417.0,633.7 L425.4,628.2 L425.4,631.1 L417.0,636.6Z" fill="#545454"/>
<path d="M403.0,645.5 L419.1,635.1 L419.1,638.0 L403.0,648.4Z" fill="#5c5c5c"/>
<path d="M403.0,620.9 L425.4,606.9 M403.0,626.9 L425.4,612.8 M403.0,633.0 L425.4,618.7 M403.0,639.0 L425.4,624.6 M403.0,645.1 L425.4,630.5 M403.0,651.1 L425.4,636.4 M403.0,657.1 L425.4,642.3 M403.0,663.2 L425.4,648.2" fill="none" stroke="#2c2c2c" stroke-width="0.5"/>
<path d="M413.8,608.2 V657.8" fill="none" stroke="#1e1e1e" stroke-width="0.8"/>
<polyline points="403.0,614.9 425.4,601.0" fill="none" stroke="#3e3e3e" stroke-width="1.8"/>
<polygon points="183.8,555.9 229.0,567.5 259.2,574.6 316.3,592.8 354.4,601.3 403.0,613.5 425.4,619.0 443.7,624.6 443.7,676.7 425.4,671.5 403.0,665.0 354.4,650.0 316.3,637.0 259.2,618.0 229.0,610.0 183.8,598.0" fill="#6e6e6e"/>
<path d="M183.8,555.9 L205.9,561.6 L205.9,564.1 L183.8,558.4Z M305.1,589.2 L314.7,592.3 L314.7,594.9 L305.1,591.8Z M386.3,612.1 L401.8,616.0 L401.8,619.1 L386.3,615.1Z M183.8,560.6 L193.1,563.0 L193.1,565.5 L183.8,563.1Z M229.3,572.3 L259.2,579.4 L262.8,580.6 L262.8,583.1 L259.2,582.0 L229.3,574.8Z M250.5,579.7 L259.2,581.8 L261.6,582.6 L261.6,585.2 L259.2,584.4 L250.5,582.3Z M421.1,626.7 L425.4,627.8 L443.7,633.3 L443.7,636.3 L425.4,630.8 L421.1,629.7Z M433.1,633.0 L443.7,636.2 L443.7,639.2 L433.1,636.0Z M219.3,576.8 L229.0,579.3 L247.9,583.9 L247.9,586.5 L229.0,581.8 L219.3,579.3Z M254.0,585.4 L259.2,586.7 L263.9,588.2 L263.9,590.7 L259.2,589.2 L254.0,587.9Z M236.2,583.4 L259.2,589.1 L263.3,590.4 L263.3,593.0 L259.2,591.6 L236.2,585.9Z M380.5,624.6 L402.8,630.6 L402.8,633.6 L380.5,627.5Z M198.4,576.1 L220.1,581.7 L220.1,584.2 L198.4,578.6Z M260.6,599.2 L274.0,603.5 L274.0,606.1 L260.6,601.7Z M319.9,620.9 L349.6,629.7 L349.6,632.5 L319.9,623.5Z M407.5,651.9 L416.5,654.4 L416.5,657.5 L407.5,655.0Z M403.7,653.7 L425.4,659.8 L431.4,661.6 L431.4,664.6 L425.4,662.9 L403.7,656.8Z M345.3,638.9 L354.4,641.9 L383.5,650.6 L383.5,653.5 L354.4,644.7 L345.3,641.7Z M384.5,650.9 L403.0,656.4 L416.8,660.3 L416.8,663.4 L403.0,659.4 L384.5,653.8Z M213.0,603.4 L228.0,607.4 L228.0,609.9 L213.0,605.9Z" fill="#6c6c6c"/>
<path d="M217.3,564.5 L227.5,567.1 L227.5,569.6 L217.3,567.0Z M276.9,582.7 L289.7,586.8 L289.7,589.3 L276.9,585.2Z M384.2,614.4 L402.9,619.2 L402.9,622.2 L384.2,617.3Z M395.7,620.2 L403.0,622.1 L415.7,625.3 L415.7,628.3 L403.0,625.1 L395.7,623.2Z M270.9,588.0 L300.5,597.5 L300.5,600.1 L270.9,590.6Z M380.4,619.0 L389.2,621.3 L389.2,624.3 L380.4,621.9Z M433.7,636.1 L443.7,639.1 L443.7,642.1 L433.7,639.1Z M414.4,633.6 L425.4,636.5 L432.4,638.6 L432.4,641.6 L425.4,639.6 L414.4,636.7Z M183.8,572.3 L197.2,575.8 L197.2,578.2 L183.8,574.8Z M265.8,596.0 L291.7,604.4 L291.7,607.0 L265.8,598.6Z M371.8,627.8 L380.2,630.1 L380.2,633.0 L371.8,630.7Z M433.0,644.6 L443.7,647.8 L443.7,650.8 L433.0,647.7Z M183.8,577.0 L208.4,583.4 L208.4,585.9 L183.8,579.4Z M219.6,586.3 L229.0,588.8 L256.9,595.7 L256.9,598.3 L229.0,591.3 L219.6,588.8Z M275.4,604.0 L306.3,614.1 L306.3,616.7 L275.4,606.6Z M436.1,651.3 L443.7,653.5 L443.7,656.6 L436.1,654.4Z M256.8,605.3 L259.2,605.9 L291.4,616.5 L291.4,619.1 L259.2,608.5 L256.8,607.9Z M340.8,632.3 L354.4,636.5 L377.8,643.3 L377.8,646.2 L354.4,639.3 L340.8,635.1Z M382.0,644.6 L399.0,649.5 L399.0,652.5 L382.0,647.5Z M183.8,588.6 L194.6,591.5 L194.6,594.0 L183.8,591.1Z M279.6,615.1 L314.8,626.7 L314.8,629.3 L279.6,617.7Z M390.6,649.9 L401.5,653.1 L401.5,656.1 L390.6,652.8Z M426.9,663.2 L443.7,668.0 L443.7,671.1 L426.9,666.3Z M241.7,611.0 L259.2,615.6 L263.8,617.1 L263.8,619.7 L259.2,618.1 L241.7,613.5Z" fill="#747474"/>
<path d="M230.7,567.9 L259.2,574.6 L260.0,574.8 L260.0,577.4 L259.2,577.2 L230.7,570.4Z M441.0,626.7 L443.7,627.5 L443.7,630.5 L441.0,629.7Z M383.7,628.3 L403.0,633.5 L405.9,634.3 L405.9,637.3 L403.0,636.5 L383.7,631.2Z M202.9,584.3 L229.0,591.1 L230.7,591.5 L230.7,594.1 L229.0,593.6 L202.9,586.8Z M410.5,649.9 L422.0,653.1 L422.0,656.1 L410.5,652.9Z M183.8,586.3 L195.2,589.3 L195.2,591.8 L183.8,588.8Z M198.9,590.3 L212.3,593.8 L212.3,596.3 L198.9,592.8Z M432.8,662.0 L443.7,665.1 L443.7,668.2 L432.8,665.0Z" fill="#585858"/>
<path d="M260.3,575.0 L291.4,584.9 L291.4,587.5 L260.3,577.5Z M326.5,595.1 L341.5,598.4 L341.5,601.2 L326.5,597.7Z M233.6,570.9 L259.2,577.0 L271.6,581.0 L271.6,583.5 L259.2,579.6 L233.6,573.5Z M436.1,628.1 L443.7,630.4 L443.7,633.4 L436.1,631.1Z M232.2,587.2 L259.2,593.9 L261.8,594.7 L261.8,597.3 L259.2,596.4 L232.2,589.7Z M303.5,608.3 L316.3,612.4 L341.9,619.5 L341.9,622.3 L316.3,615.0 L303.5,610.9Z M205.4,587.3 L229.0,593.5 L239.5,596.1 L239.5,598.7 L229.0,596.0 L205.4,589.8Z M276.3,618.9 L300.9,627.0 L300.9,629.6 L276.3,621.4Z" fill="#808080"/>
<path d="M350.5,600.4 L354.4,601.3 L362.9,603.4 L362.9,606.3 L354.4,604.2 L350.5,603.3Z M406.4,614.3 L419.6,617.6 L419.6,620.6 L406.4,617.4Z M335.5,599.7 L351.9,603.4 L351.9,606.3 L335.5,602.4Z M359.6,605.3 L375.7,609.4 L375.7,612.4 L359.6,608.2Z M213.3,570.5 L229.0,574.6 L245.0,578.4 L245.0,581.0 L229.0,577.1 L213.3,573.0Z M183.8,567.6 L206.1,573.4 L206.1,575.9 L183.8,570.1Z M338.1,610.7 L354.4,614.8 L376.0,620.6 L376.0,623.5 L354.4,617.7 L338.1,613.4Z M350.4,621.9 L354.4,622.9 L365.8,626.1 L365.8,629.0 L354.4,625.8 L350.4,624.7Z M406.7,643.1 L425.4,648.2 L433.5,650.5 L433.5,653.6 L425.4,651.2 L406.7,646.1Z M229.5,596.0 L259.2,603.5 L264.3,605.2 L264.3,607.8 L259.2,606.1 L229.5,598.5Z M431.6,655.8 L443.7,659.3 L443.7,662.4 L431.6,658.9Z" fill="#646464"/>
<path d="M366.9,604.4 L403.0,613.5 L404.3,613.8 L404.3,616.8 L403.0,616.5 L366.9,607.3Z M183.8,558.2 L197.6,561.8 L197.6,564.3 L183.8,560.7Z M296.6,598.7 L316.3,605.1 L321.2,606.3 L321.2,609.0 L316.3,607.7 L296.6,601.3Z M343.4,617.3 L354.4,620.2 L375.7,626.1 L375.7,629.0 L354.4,623.1 L343.4,620.1Z M358.5,626.8 L368.2,629.5 L368.2,632.4 L358.5,629.7Z M422.6,644.5 L425.4,645.2 L439.5,649.4 L439.5,652.5 L425.4,648.3 L422.6,647.6Z M391.2,638.8 L399.5,641.1 L399.5,644.1 L391.2,641.7Z M409.9,646.9 L425.4,651.1 L443.7,656.4 L443.7,659.5 L425.4,654.1 L409.9,649.9Z M311.8,620.8 L316.3,622.3 L327.4,625.6 L327.4,628.3 L316.3,624.9 L311.8,623.4Z M226.1,602.2 L229.0,602.9 L236.2,604.8 L236.2,607.3 L229.0,605.4 L226.1,604.7Z M279.3,617.4 L289.9,620.9 L289.9,623.5 L279.3,620.0Z M245.8,609.7 L259.2,613.2 L272.2,617.5 L272.2,620.0 L259.2,615.7 L245.8,612.2Z M344.5,641.3 L354.4,644.6 L367.7,648.6 L367.7,651.5 L354.4,647.4 L344.5,644.1Z" fill="#606060"/>
<path d="M428.3,619.9 L437.7,622.8 L437.7,625.8 L428.3,622.9Z M406.9,617.3 L425.4,621.9 L438.5,625.9 L438.5,629.0 L425.4,625.0 L406.9,620.4Z M263.2,580.7 L276.0,584.8 L276.0,587.4 L263.2,583.3Z M363.0,608.9 L375.5,612.1 L375.5,615.1 L363.0,611.8Z M223.3,575.5 L229.0,576.9 L259.2,584.2 L261.3,584.9 L261.3,587.5 L259.2,586.8 L229.0,579.5 L223.3,578.0Z M307.1,599.7 L316.3,602.6 L336.5,607.7 L336.5,610.4 L316.3,605.2 L307.1,602.3Z M408.5,626.4 L425.4,630.7 L426.5,631.0 L426.5,634.1 L425.4,633.7 L408.5,629.4Z M376.8,620.8 L392.6,625.0 L392.6,628.0 L376.8,623.7Z M183.8,569.9 L196.7,573.3 L196.7,575.8 L183.8,572.4Z M433.6,638.9 L443.7,642.0 L443.7,645.0 L433.6,642.0Z M259.2,591.5 L273.6,596.2 L273.6,598.7 L259.2,594.1Z M442.3,650.2 L443.7,650.7 L443.7,653.7 L442.3,653.3Z M236.3,593.0 L248.9,596.1 L248.9,598.7 L236.3,595.5Z M292.0,611.9 L311.6,618.3 L311.6,620.9 L292.0,614.4Z M372.7,636.3 L399.3,643.9 L399.3,646.9 L372.7,639.2Z M274.7,608.6 L299.2,616.7 L299.2,619.3 L274.7,611.2Z M341.0,629.7 L349.1,632.2 L349.1,635.0 L341.0,632.5Z M323.8,629.5 L354.1,639.1 L354.1,641.9 L323.8,632.2Z M295.6,622.8 L307.3,626.7 L307.3,629.3 L295.6,625.4Z M183.8,593.3 L199.1,597.4 L199.1,599.9 L183.8,595.8Z M301.7,627.2 L316.3,632.1 L323.1,634.3 L323.1,637.0 L316.3,634.7 L301.7,629.8Z M326.4,635.4 L343.1,640.9 L343.1,643.7 L326.4,638.1Z M381.5,652.8 L403.0,659.3 L419.4,664.0 L419.4,667.0 L403.0,662.3 L381.5,655.7Z M185.0,596.0 L207.7,602.0 L207.7,604.5 L185.0,598.5Z M373.8,653.2 L403.0,662.1 L410.7,664.4 L410.7,667.4 L403.0,665.1 L373.8,656.1Z M419.7,667.0 L425.4,668.6 L428.5,669.5 L428.5,672.5 L425.4,671.6 L419.7,670.0Z" fill="#686868"/>
<path d="M439.2,623.2 L443.7,624.6 L443.7,627.6 L439.2,626.3Z M199.5,562.3 L226.7,569.3 L226.7,571.8 L199.5,564.8Z M262.1,582.8 L298.5,594.5 L298.5,597.1 L262.1,585.3Z M337.6,605.3 L354.4,609.4 L365.4,612.3 L365.4,615.2 L354.4,612.3 L337.6,608.1Z M371.4,613.9 L394.3,619.8 L394.3,622.8 L371.4,616.8Z M340.6,608.7 L354.4,612.1 L370.2,616.3 L370.2,619.2 L354.4,615.0 L340.6,611.4Z M393.3,625.2 L403.0,627.8 L409.4,629.5 L409.4,632.5 L403.0,630.8 L393.3,628.2Z M197.9,573.6 L223.3,580.2 L223.3,582.7 L197.9,576.1Z M275.3,594.3 L300.6,602.4 L300.6,605.0 L275.3,596.8Z M228.2,583.8 L229.0,584.0 L258.6,591.3 L258.6,593.9 L229.0,586.5 L228.2,586.3Z M277.6,597.5 L299.1,604.4 L299.1,607.0 L277.6,600.0Z M183.8,574.6 L209.8,581.4 L209.8,583.9 L183.8,577.1Z M215.1,582.8 L228.5,586.3 L228.5,588.8 L215.1,585.3Z M263.3,597.6 L285.2,604.8 L285.2,607.4 L263.3,600.2Z M330.0,618.8 L354.4,625.6 L357.1,626.4 L357.1,629.3 L354.4,628.5 L330.0,621.5Z M399.0,638.1 L403.0,639.2 L419.6,643.7 L419.6,646.7 L403.0,642.3 L399.0,641.1Z M346.9,626.2 L354.4,628.4 L382.5,636.3 L382.5,639.3 L354.4,631.2 L346.9,629.0Z M357.0,631.8 L367.7,634.9 L367.7,637.8 L357.0,634.7Z M418.1,654.9 L425.4,656.9 L443.7,662.2 L443.7,665.3 L425.4,660.0 L418.1,657.9Z M236.5,602.5 L259.2,608.4 L275.1,613.6 L275.1,616.2 L259.2,610.9 L236.5,605.0Z M365.9,642.6 L389.2,649.5 L389.2,652.4 L365.9,645.5Z M270.4,619.3 L309.0,632.1 L309.0,634.7 L270.4,621.9Z" fill="#707070"/>
<path d="M298.5,589.6 L316.3,595.3 L322.7,596.7 L322.7,599.4 L316.3,597.9 L298.5,592.2Z M183.8,562.9 L206.0,568.7 L206.0,571.2 L183.8,565.4Z M307.4,604.6 L316.3,607.5 L333.7,612.1 L333.7,614.8 L316.3,610.1 L307.4,607.2Z M338.9,613.5 L354.4,617.5 L376.1,623.4 L376.1,626.3 L354.4,620.4 L338.9,616.2Z M292.0,604.6 L301.7,607.7 L301.7,610.3 L292.0,607.1Z M377.4,640.4 L403.0,647.8 L405.1,648.4 L405.1,651.4 L403.0,650.8 L377.4,643.4Z M303.7,620.6 L316.3,624.7 L335.0,630.5 L335.0,633.2 L316.3,627.3 L303.7,623.2Z M318.6,635.3 L342.9,643.4 L342.9,646.2 L318.6,637.9Z" fill="#5c5c5c"/>
<path d="M201.4,565.1 L224.7,571.1 L224.7,573.6 L201.4,567.6Z M289.3,589.1 L316.3,597.7 L319.1,598.4 L319.1,601.0 L316.3,600.3 L289.3,591.7Z" fill="#888888"/>
<path d="M322.2,599.1 L351.5,606.0 L351.5,608.9 L322.2,601.8Z M318.9,618.1 L337.3,623.4 L337.3,626.2 L318.9,620.7Z M354.6,633.8 L368.3,637.8 L368.3,640.7 L354.6,636.7Z M420.7,664.3 L425.4,665.7 L440.1,669.9 L440.1,672.9 L425.4,668.7 L420.7,667.4Z" fill="#848484"/>
<path d="M411.5,621.3 L425.4,624.8 L430.7,626.4 L430.7,629.5 L425.4,627.9 L411.5,624.4Z M303.5,605.8 L316.3,610.0 L335.6,615.2 L335.6,617.9 L316.3,612.6 L303.5,608.4Z M221.2,596.1 L229.0,598.2 L253.7,604.5 L253.7,607.1 L229.0,600.7 L221.2,598.6Z M204.4,598.8 L229.0,605.3 L234.7,606.8 L234.7,609.3 L229.0,607.8 L204.4,601.3Z M343.6,643.7 L354.4,647.3 L365.5,650.7 L365.5,653.6 L354.4,650.1 L343.6,646.5Z" fill="#7c7c7c"/>
<path d="M305.3,596.6 L316.3,600.2 L337.6,605.3 L337.6,608.1 L316.3,602.8 L305.3,599.2Z M417.3,637.3 L425.4,639.4 L443.7,644.9 L443.7,647.9 L425.4,642.5 L417.3,640.3Z M381.9,633.3 L390.9,635.9 L390.9,638.8 L381.9,636.3Z M183.8,581.6 L195.6,584.7 L195.6,587.2 L183.8,584.1Z M183.8,584.0 L219.9,593.4 L219.9,595.9 L183.8,586.5Z" fill="#505050"/>
<path d="M183.8,565.3 L196.1,568.4 L196.1,570.9 L183.8,567.7Z M199.4,569.3 L222.9,575.4 L222.9,577.9 L199.4,571.8Z M392.4,622.1 L402.9,624.9 L402.9,627.9 L392.4,625.1Z M326.1,607.6 L337.1,610.4 L337.1,613.1 L326.1,610.2Z M388.4,632.4 L403.0,636.4 L422.9,641.7 L422.9,644.7 L403.0,639.4 L388.4,635.3Z M183.8,579.3 L189.2,580.7 L189.2,583.2 L183.8,581.8Z M239.1,605.5 L259.2,610.8 L268.8,614.0 L268.8,616.5 L259.2,613.3 L239.1,608.1Z M439.3,672.5 L443.7,673.8 L443.7,676.9 L439.3,675.6Z" fill="#787878"/>
<path d="M274.8,591.7 L295.9,598.5 L295.9,601.1 L274.8,594.3Z" fill="#484848"/>
<path d="M415.1,630.9 L425.4,633.6 L432.9,635.8 L432.9,638.9 L425.4,636.6 L415.1,634.0Z" fill="#8c8c8c"/>
<path d="M291.4,606.8 L316.3,614.9 L316.4,614.9 L316.4,617.5 L316.3,617.5 L291.4,609.4Z M315.7,629.4 L316.3,629.6 L335.7,635.9 L335.7,638.6 L316.3,632.2 L315.7,632.0Z" fill="#4c4c4c"/>
<path d="M252.4,599.4 L259.2,601.1 L282.6,608.8 L282.6,611.4 L259.2,603.7 L252.4,602.0Z M204.3,594.0 L229.0,600.6 L235.6,602.3 L235.6,604.8 L229.0,603.1 L204.3,596.5Z M183.8,591.0 L200.0,595.3 L200.0,597.8 L183.8,593.5Z M213.4,598.8 L224.7,601.8 L224.7,604.3 L213.4,601.3Z" fill="#545454"/>
<path d="M183.8,561.0 L229.0,572.6 L259.2,579.8 L316.3,598.1 L354.4,607.2 L403.0,619.7 L425.4,625.3 L443.7,630.9 M183.8,566.0 L229.0,577.7 L259.2,585.1 L316.3,603.5 L354.4,613.0 L403.0,625.9 L425.4,631.7 L443.7,637.2 M183.8,571.1 L229.0,582.9 L259.2,590.3 L316.3,608.8 L354.4,618.9 L403.0,632.1 L425.4,638.0 L443.7,643.4 M183.8,576.2 L229.0,588.0 L259.2,595.5 L316.3,614.1 L354.4,624.8 L403.0,638.3 L425.4,644.3 L443.7,649.7 M183.8,581.3 L229.0,593.1 L259.2,600.7 L316.3,619.4 L354.4,630.6 L403.0,644.5 L425.4,650.6 L443.7,656.0 M183.8,586.3 L229.0,598.2 L259.2,606.0 L316.3,624.8 L354.4,636.5 L403.0,650.7 L425.4,657.0 L443.7,662.3 M183.8,591.4 L229.0,603.3 L259.2,611.2 L316.3,630.1 L354.4,642.4 L403.0,656.9 L425.4,663.3 L443.7,668.5 M183.8,596.5 L229.0,608.5 L259.2,616.4 L316.3,635.4 L354.4,648.2 L403.0,663.1 L425.4,669.6 L443.7,674.8" fill="none" stroke="#2c2c2c" stroke-width="0.5"/>
<path d="M196.4,559.1 V601.3 M217.4,564.5 V606.9 M238.4,569.7 V612.5 M259.4,574.7 V618.1 M280.4,581.4 V625.1 M301.4,588.1 V632.0 M322.4,594.2 V639.1 M343.4,598.8 V646.2 M364.4,603.8 V653.1 M385.4,609.1 V659.6 M406.4,614.3 V666.0 M427.4,619.6 V672.1" fill="none" stroke="#1e1e1e" stroke-width="0.8"/>
<polyline points="183.8,555.9 229.0,567.5 259.2,574.6 316.3,592.8 354.4,601.3 403.0,613.5 425.4,619.0 443.7,624.6" fill="none" stroke="#3e3e3e" stroke-width="1.8"/>
<line x1="184.4" y1="555.9" x2="184.4" y2="598.0" stroke="#777" stroke-width="1.6"/>
<line x1="183.6" y1="555.9" x2="183.6" y2="598.0" stroke="#333" stroke-width="0.6"/>
<polygon points="176.1,600.3 205.0,584.5 229.0,569.5 229.0,611.0 205.0,625.8 176.1,643.7" fill="#646464"/>
<path d="M176.1,600.3 L204.7,584.7 L204.7,587.1 L176.1,602.9Z" fill="#484848"/>
<path d="M215.3,578.1 L229.0,569.5 L229.0,572.0 L215.3,580.5Z M215.1,580.5 L229.0,571.8 L229.0,574.3 L215.1,583.0Z M217.8,590.3 L229.0,583.3 L229.0,585.8 L217.8,592.8Z M216.4,593.5 L229.0,585.6 L229.0,588.1 L216.4,595.9Z M176.1,641.3 L191.8,631.6 L191.8,634.1 L176.1,643.9Z" fill="#646464"/>
<path d="M176.1,602.7 L186.8,596.8 L186.8,599.4 L176.1,605.3Z M176.1,617.2 L188.5,610.0 L188.5,612.6 L176.1,619.7Z" fill="#545454"/>
<path d="M189.8,595.2 L205.0,586.8 L211.3,582.9 L211.3,585.3 L205.0,589.2 L189.8,597.7Z M176.1,612.4 L196.1,601.0 L196.1,603.5 L176.1,614.9Z M226.9,593.9 L229.0,592.6 L229.0,595.0 L226.9,596.3Z M176.8,631.2 L205.0,614.4 L213.5,609.1 L213.5,611.5 L205.0,616.8 L176.8,633.8Z M193.5,630.6 L205.0,623.5 L211.0,619.8 L211.0,622.2 L205.0,626.0 L193.5,633.1Z" fill="#585858"/>
<path d="M176.1,605.1 L193.7,595.4 L193.7,597.9 L176.1,607.7Z M176.1,614.8 L195.1,603.9 L195.1,606.4 L176.1,617.3Z M176.1,624.4 L194.2,613.8 L194.2,616.3 L176.1,627.0Z M222.0,610.8 L229.0,606.4 L229.0,608.8 L222.0,613.2Z" fill="#4c4c4c"/>
<path d="M194.7,594.8 L205.0,589.1 L229.0,574.1 L229.0,576.6 L205.0,591.5 L194.7,597.3Z M201.6,609.5 L205.0,607.5 L219.2,598.7 L219.2,601.1 L205.0,609.9 L201.6,611.9Z M196.7,621.6 L205.0,616.6 L220.6,607.0 L220.6,609.5 L205.0,619.1 L196.7,624.1Z" fill="#747474"/>
<path d="M176.1,607.5 L205.0,591.4 L210.1,588.2 L210.1,590.7 L205.0,593.8 L176.1,610.1Z M223.5,579.8 L229.0,576.4 L229.0,578.9 L223.5,582.3Z M198.8,601.8 L205.0,598.3 L211.0,594.5 L211.0,597.0 L205.0,600.7 L198.8,604.3Z M198.7,606.5 L205.0,602.9 L223.7,591.2 L223.7,593.7 L205.0,605.3 L198.7,609.0Z" fill="#5c5c5c"/>
<path d="M176.1,609.9 L191.7,601.2 L191.7,603.7 L176.1,612.5Z M200.2,608.0 L205.0,605.2 L229.0,590.2 L229.0,592.7 L205.0,607.6 L200.2,610.4Z M191.3,617.9 L205.0,609.8 L229.0,594.9 L229.0,597.3 L205.0,612.2 L191.3,620.4Z M176.1,636.5 L203.7,619.8 L203.7,622.2 L176.1,639.0Z M212.2,614.5 L229.0,604.1 L229.0,606.5 L212.2,616.9Z" fill="#686868"/>
<path d="M196.9,598.2 L205.0,593.7 L229.0,578.7 L229.0,581.2 L205.0,596.1 L196.9,600.7Z" fill="#444444"/>
<path d="M201.3,598.1 L205.0,596.0 L227.9,581.7 L227.9,584.1 L205.0,598.4 L201.3,600.5Z M176.1,619.6 L189.6,611.8 L189.6,614.3 L176.1,622.1Z M211.1,619.8 L229.0,608.7 L229.0,611.1 L211.1,622.2Z" fill="#6c6c6c"/>
<path d="M199.6,603.7 L205.0,600.6 L209.4,597.8 L209.4,600.3 L205.0,603.0 L199.6,606.1Z" fill="#707070"/>
<path d="M176.1,622.0 L186.4,616.0 L186.4,618.5 L176.1,624.6Z M180.1,624.5 L190.0,618.6 L190.0,621.1 L180.1,627.0Z M176.1,629.2 L200.9,614.5 L200.9,617.0 L176.1,631.8Z M216.0,607.5 L228.4,599.9 L228.4,602.3 L216.0,610.0Z M176.1,638.9 L204.1,621.8 L204.1,624.3 L176.1,641.4Z" fill="#606060"/>
<path d="M211.3,608.2 L229.0,597.2 L229.0,599.6 L211.3,610.6Z" fill="#7c7c7c"/>
<path d="M176.1,634.1 L185.2,628.6 L185.2,631.1 L176.1,636.6Z M205.4,621.0 L215.5,614.7 L215.5,617.2 L205.4,623.5Z" fill="#505050"/>
<path d="M176.1,605.5 L205.0,589.5 L229.0,574.5 M176.1,610.8 L205.0,594.5 L229.0,579.5 M176.1,616.0 L205.0,599.4 L229.0,584.5 M176.1,621.2 L205.0,604.4 L229.0,589.5 M176.1,626.4 L205.0,609.4 L229.0,594.5 M176.1,631.7 L205.0,614.4 L229.0,599.5 M176.1,636.9 L205.0,619.4 L229.0,604.5 M176.1,642.1 L205.0,624.3 L229.0,609.5" fill="none" stroke="#2c2c2c" stroke-width="0.5"/>
<path d="M186.9,594.4 V637.0 M204.9,584.6 V625.9 M222.9,573.3 V614.8" fill="none" stroke="#1e1e1e" stroke-width="0.8"/>
<polyline points="176.1,600.3 205.0,584.5 229.0,569.5" fill="none" stroke="#3e3e3e" stroke-width="1.8"/>
<polygon points="262.2,627.8 316.3,593.9 316.3,637.0 262.2,676.8" fill="#646464"/>
<path d="M262.2,627.8 L272.5,621.4 L272.5,624.2 L262.2,630.7Z M262.2,657.7 L280.4,645.2 L280.4,647.9 L262.2,660.6Z M310.5,626.7 L316.3,622.6 L316.3,625.2 L310.5,629.2Z M271.3,656.8 L283.2,648.4 L283.2,651.1 L271.3,659.6Z" fill="#585858"/>
<path d="M276.1,619.1 L314.4,595.1 L314.4,597.6 L276.1,621.8Z M290.1,612.8 L316.3,596.3 L316.3,598.8 L290.1,615.6Z M262.2,633.2 L263.9,632.2 L263.9,635.0 L262.2,636.1Z M270.8,662.5 L309.0,635.1 L309.0,637.6 L270.8,665.3Z" fill="#6c6c6c"/>
<path d="M262.2,630.5 L281.4,618.4 L281.4,621.1 L262.2,633.4Z M262.2,636.0 L274.7,627.9 L274.7,630.7 L262.2,638.8Z M299.5,611.9 L315.8,601.4 L315.8,603.9 L299.5,614.6Z M307.7,609.1 L316.3,603.5 L316.3,606.0 L307.7,611.7Z M272.8,653.0 L308.3,628.3 L308.3,630.9 L272.8,655.8Z M274.4,665.1 L299.6,646.8 L299.6,649.5 L274.4,667.9Z M306.3,641.9 L316.3,634.6 L316.3,637.1 L306.3,644.5Z" fill="#686868"/>
<path d="M271.9,627.0 L309.1,603.3 L309.1,605.9 L271.9,629.9Z M285.2,623.7 L296.9,616.1 L296.9,618.7 L285.2,626.4Z M314.3,614.4 L316.3,613.1 L316.3,615.6 L314.3,617.0Z M294.3,633.0 L316.3,617.8 L316.3,620.4 L294.3,635.6Z M271.0,665.0 L298.7,644.9 L298.7,647.6 L271.0,667.8Z" fill="#606060"/>
<path d="M311.1,602.0 L316.3,598.7 L316.3,601.2 L311.1,604.6Z M267.9,637.6 L299.1,617.2 L299.1,619.8 L267.9,640.5Z M274.0,636.3 L284.0,629.7 L284.0,632.4 L274.0,639.1Z M289.8,630.9 L306.5,619.6 L306.5,622.2 L289.8,633.6Z M305.1,623.1 L316.3,615.5 L316.3,618.0 L305.1,625.7Z M293.9,640.8 L316.3,625.0 L316.3,627.6 L293.9,643.5Z M295.5,642.2 L316.3,627.4 L316.3,630.0 L295.5,644.9Z M262.2,668.6 L270.8,662.5 L270.8,665.3 L262.2,671.5Z" fill="#707070"/>
<path d="M280.6,624.1 L298.0,612.9 L298.0,615.5 L280.6,626.9Z" fill="#484848"/>
<path d="M262.2,638.7 L271.8,632.4 L271.8,635.2 L262.2,641.6Z M263.7,651.2 L297.7,628.1 L297.7,630.8 L263.7,654.1Z M262.2,655.0 L286.3,638.5 L286.3,641.2 L262.2,657.9Z M288.8,639.3 L301.1,630.8 L301.1,633.4 L288.8,642.0Z" fill="#5c5c5c"/>
<path d="M302.7,614.8 L316.3,605.9 L316.3,608.4 L302.7,617.4Z M264.2,645.5 L290.2,628.1 L290.2,630.8 L264.2,648.4Z M262.2,674.1 L273.8,665.6 L273.8,668.4 L262.2,676.9Z" fill="#646464"/>
<path d="M288.2,626.9 L316.3,608.3 L316.3,610.8 L288.2,629.6Z M294.3,625.4 L305.8,617.7 L305.8,620.3 L294.3,628.1Z" fill="#808080"/>
<path d="M312.9,612.9 L316.3,610.7 L316.3,613.2 L312.9,615.5Z M262.2,665.9 L273.4,657.9 L273.4,660.7 L262.2,668.8Z M313.4,631.9 L316.3,629.8 L316.3,632.4 L313.4,634.5Z" fill="#545454"/>
<path d="M262.2,649.6 L283.7,635.1 L283.7,637.8 L262.2,652.4Z" fill="#747474"/>
<path d="M304.0,628.8 L315.2,621.0 L315.2,623.5 L304.0,631.4Z M262.2,660.5 L271.6,653.9 L271.6,656.7 L262.2,663.3Z" fill="#505050"/>
<path d="M277.4,655.1 L289.6,646.4 L289.6,649.1 L277.4,657.9Z M309.9,636.9 L316.3,632.2 L316.3,634.8 L309.9,639.5Z" fill="#787878"/>
<path d="M262.2,633.7 L316.3,599.1 M262.2,639.6 L316.3,604.3 M262.2,645.5 L316.3,609.5 M262.2,651.4 L316.3,614.7 M262.2,657.3 L316.3,619.9 M262.2,663.2 L316.3,625.1 M262.2,669.1 L316.3,630.2 M262.2,675.0 L316.3,635.4" fill="none" stroke="#2c2c2c" stroke-width="0.5"/>
<path d="M273.0,621.0 V668.9 M291.0,609.8 V655.6 M309.0,598.5 V642.4" fill="none" stroke="#1e1e1e" stroke-width="0.8"/>
<polyline points="262.2,627.8 316.3,593.9" fill="none" stroke="#3e3e3e" stroke-width="1.8"/>
<polygon points="350.2,652.2 401.0,616.1 403.0,614.9 403.0,665.0 401.0,666.5 350.2,703.5" fill="#646464"/>
<path d="M350.2,652.2 L377.6,632.7 L377.6,635.7 L350.2,655.2Z M387.0,628.8 L401.0,618.9 L403.0,617.6 L403.0,620.6 L401.0,621.8 L387.0,631.8Z M356.4,653.5 L386.4,632.1 L386.4,635.1 L356.4,656.5Z M395.8,631.0 L401.0,627.3 L403.0,626.0 L403.0,628.9 L401.0,630.2 L395.8,634.0Z M367.9,656.6 L382.8,645.9 L382.8,648.9 L367.9,659.6Z M367.8,668.0 L401.0,644.1 L403.0,642.7 L403.0,645.7 L401.0,647.0 L367.8,671.0Z M379.0,662.8 L401.0,646.9 L403.0,645.5 L403.0,648.4 L401.0,649.8 L379.0,665.7Z M386.8,662.8 L401.0,652.5 L403.0,651.1 L403.0,654.0 L401.0,655.4 L386.8,665.7Z M369.4,686.6 L380.6,678.5 L380.6,681.5 L369.4,689.6Z" fill="#545454"/>
<path d="M386.7,626.3 L401.0,616.1 L402.0,615.5 L402.0,618.4 L401.0,619.0 L386.7,629.2Z M350.2,677.9 L383.6,653.8 L383.6,656.8 L350.2,680.9Z M357.6,681.0 L379.7,665.1 L379.7,668.0 L357.6,684.0Z M373.8,675.0 L401.0,655.3 L403.0,653.9 L403.0,656.8 L401.0,658.2 L373.8,677.9Z" fill="#707070"/>
<path d="M350.2,655.1 L378.9,634.6 L378.9,637.6 L350.2,658.1Z M352.7,664.7 L362.8,657.4 L362.8,660.4 L352.7,667.6Z M394.0,643.5 L401.0,638.5 L403.0,637.1 L403.0,640.1 L401.0,641.4 L394.0,646.5Z M358.4,683.3 L385.5,663.7 L385.5,666.7 L358.4,686.3Z M350.2,697.8 L365.2,686.9 L365.2,689.9 L350.2,700.8Z" fill="#606060"/>
<path d="M387.2,631.5 L401.0,621.7 L403.0,620.4 L403.0,623.4 L401.0,624.6 L387.2,634.5Z M350.2,660.8 L382.3,637.9 L382.3,640.8 L350.2,663.8Z M351.9,679.5 L360.1,673.6 L360.1,676.6 L351.9,682.5Z M360.7,676.0 L370.6,668.8 L370.6,671.8 L360.7,678.9Z M391.2,656.7 L401.0,649.7 L403.0,648.3 L403.0,651.2 L401.0,652.6 L391.2,659.7Z M350.2,695.0 L358.3,689.1 L358.3,692.1 L350.2,697.9Z" fill="#646464"/>
<path d="M383.8,636.8 L401.0,624.5 L403.0,623.2 L403.0,626.2 L401.0,627.4 L383.8,639.8Z M367.6,654.0 L378.8,646.0 L378.8,649.0 L367.6,657.0Z M384.0,642.3 L392.1,636.5 L392.1,639.4 L384.0,645.3Z M350.2,669.3 L358.2,663.6 L358.2,666.5 L350.2,672.3Z M388.5,641.9 L397.3,635.5 L397.3,638.5 L388.5,644.8Z M378.2,677.4 L397.3,663.6 L397.3,666.5 L378.2,680.4Z" fill="#686868"/>
<path d="M354.5,660.5 L387.0,637.3 L387.0,640.2 L354.5,663.5Z M388.7,650.1 L401.0,641.3 L403.0,639.9 L403.0,642.9 L401.0,644.2 L388.7,653.1Z M354.2,689.2 L364.9,681.5 L364.9,684.4 L354.2,692.2Z M383.6,670.7 L399.4,659.2 L399.4,662.2 L383.6,673.7Z" fill="#6c6c6c"/>
<path d="M398.1,632.2 L401.0,630.1 L403.0,628.8 L403.0,631.7 L401.0,633.0 L398.1,635.1Z M350.2,700.6 L366.5,688.8 L366.5,691.7 L350.2,703.6Z" fill="#5c5c5c"/>
<path d="M350.2,672.1 L357.4,667.0 L357.4,670.0 L350.2,675.1Z" fill="#585858"/>
<path d="M369.4,658.4 L401.0,635.7 L403.0,634.4 L403.0,637.3 L401.0,638.6 L369.4,661.3Z M357.0,670.1 L387.8,648.0 L387.8,650.9 L357.0,673.1Z" fill="#4c4c4c"/>
<path d="M350.2,683.6 L360.6,676.0 L360.6,679.0 L350.2,686.5Z" fill="#7c7c7c"/>
<path d="M360.4,687.5 L377.3,675.3 L377.3,678.2 L360.4,690.5Z" fill="#747474"/>
<path d="M392.7,669.7 L401.0,663.7 L403.0,662.2 L403.0,665.1 L401.0,666.6 L392.7,672.7Z" fill="#484848"/>
<path d="M350.2,658.4 L401.0,622.2 L403.0,620.9 M350.2,664.6 L401.0,628.2 L403.0,626.9 M350.2,670.7 L401.0,634.3 L403.0,633.0 M350.2,676.9 L401.0,640.4 L403.0,639.0 M350.2,683.1 L401.0,646.4 L403.0,645.1 M350.2,689.3 L401.0,652.5 L403.0,651.1 M350.2,695.5 L401.0,658.6 L403.0,657.1 M350.2,701.6 L401.0,664.6 L403.0,663.2" fill="none" stroke="#2c2c2c" stroke-width="0.5"/>
<path d="M361.0,644.5 V695.6 M379.0,631.7 V682.5 M397.0,618.9 V669.4" fill="none" stroke="#1e1e1e" stroke-width="0.8"/>
<polyline points="350.2,652.2 401.0,616.1 403.0,614.9" fill="none" stroke="#3e3e3e" stroke-width="1.8"/>
<polygon points="124.6,582.2 176.1,600.3 208.3,609.8 235.8,619.3 262.2,627.8 296.2,637.3 303.6,639.4 348.5,651.7 350.2,652.2 391.5,662.8 391.5,714.0 350.2,704.8 348.5,704.4 303.6,690.1 296.2,687.8 262.2,676.8 235.8,665.2 208.3,653.2 176.1,643.7 124.6,626.0" fill="#6e6e6e"/>
<path d="M124.6,582.2 L138.2,587.0 L138.2,589.5 L124.6,584.8Z M265.7,628.8 L277.9,632.2 L277.9,635.1 L265.7,631.7Z M341.5,649.8 L348.5,651.7 L350.2,652.2 L350.8,652.4 L350.8,655.4 L350.2,655.3 L348.5,654.8 L341.5,652.9Z M132.1,587.3 L141.2,590.5 L141.2,593.0 L132.1,589.8Z M147.6,592.7 L176.1,602.7 L177.8,603.2 L177.8,605.8 L176.1,605.3 L147.6,595.3Z M139.9,592.4 L161.0,599.8 L161.0,602.4 L139.9,595.0Z M232.5,623.2 L235.8,624.4 L249.7,629.1 L249.7,631.8 L235.8,627.1 L232.5,625.9Z M386.8,667.3 L391.5,668.5 L391.5,671.5 L386.8,670.3Z M252.0,632.5 L262.1,635.9 L262.1,638.8 L252.0,635.3Z M130.2,598.8 L151.0,606.0 L151.0,608.6 L130.2,601.3Z M341.8,676.1 L348.5,678.1 L349.8,678.4 L349.8,681.5 L348.5,681.1 L341.8,679.1Z M351.5,678.8 L384.1,686.6 L384.1,689.6 L351.5,681.9Z M252.0,653.7 L262.2,657.7 L267.8,659.5 L267.8,662.4 L262.2,660.6 L252.0,656.5Z M124.6,611.4 L135.6,615.2 L135.6,617.8 L124.6,614.0Z M126.6,614.5 L162.3,626.9 L162.3,629.5 L126.6,617.1Z M243.6,658.2 L252.7,662.0 L252.7,664.8 L243.6,661.0Z M389.2,704.9 L391.5,705.5 L391.5,708.5 L389.2,707.9Z M261.5,671.1 L262.2,671.4 L280.1,677.1 L280.1,680.0 L262.2,674.2 L261.5,673.9Z M381.2,708.8 L391.5,711.2 L391.5,714.1 L381.2,711.9Z" fill="#747474"/>
<path d="M142.2,588.4 L158.6,594.2 L158.6,596.7 L142.2,590.9Z M174.1,604.4 L176.1,605.1 L194.9,610.7 L194.9,613.2 L176.1,607.7 L174.1,607.0Z M306.6,645.9 L324.4,650.9 L324.4,653.9 L306.6,648.9Z M147.7,602.4 L171.2,610.7 L171.2,613.2 L147.7,605.0Z M389.9,679.5 L391.5,679.9 L391.5,682.9 L389.9,682.5Z M124.6,599.2 L142.1,605.3 L142.1,607.9 L124.6,601.8Z M281.7,658.2 L296.2,662.6 L303.6,664.8 L307.9,666.0 L307.9,669.0 L303.6,667.7 L296.2,665.5 L281.7,661.1Z M124.6,606.5 L130.0,608.4 L130.0,611.0 L124.6,609.1Z M134.1,609.8 L145.8,613.9 L145.8,616.5 L134.1,612.4Z M204.6,632.8 L208.3,633.9 L229.9,642.5 L229.9,645.2 L208.3,636.5 L204.6,635.4Z M356.5,685.8 L376.3,690.5 L376.3,693.5 L356.5,688.9Z M342.2,687.8 L348.5,689.8 L350.2,690.2 L355.7,691.4 L355.7,694.5 L350.2,693.2 L348.5,692.8 L342.2,690.9Z M312.3,684.4 L328.4,689.4 L328.4,692.4 L312.3,687.4Z M317.8,691.8 L330.0,695.7 L330.0,698.7 L317.8,694.8Z" fill="#606060"/>
<path d="M170.1,598.2 L176.1,600.3 L194.3,605.7 L194.3,608.2 L176.1,602.9 L170.1,600.8Z M124.6,587.1 L133.4,590.2 L133.4,592.7 L124.6,589.6Z M359.0,660.3 L383.0,666.3 L383.0,669.3 L359.0,663.3Z M166.2,604.1 L176.1,607.5 L203.7,615.7 L203.7,618.2 L176.1,610.1 L166.2,606.6Z M302.5,647.5 L303.6,647.9 L337.6,657.5 L337.6,660.5 L303.6,650.8 L302.5,650.5Z M128.9,593.4 L139.5,597.1 L139.5,599.7 L128.9,596.0Z M306.0,651.4 L321.3,655.7 L321.3,658.7 L306.0,654.3Z M124.6,596.8 L129.8,598.6 L129.8,601.2 L124.6,599.4Z M256.6,644.8 L262.2,646.9 L287.7,654.4 L287.7,657.4 L262.2,649.7 L256.6,647.6Z M178.9,620.4 L208.3,629.1 L209.3,629.5 L209.3,632.0 L208.3,631.6 L178.9,623.0Z M318.5,666.3 L348.5,675.1 L350.2,675.6 L350.7,675.7 L350.7,678.8 L350.2,678.6 L348.5,678.2 L318.5,669.3Z M143.1,610.5 L172.1,620.6 L172.1,623.2 L143.1,613.1Z M320.4,669.8 L336.7,674.6 L336.7,677.6 L320.4,672.8Z M153.2,616.4 L169.8,622.2 L169.8,624.8 L153.2,619.0Z M124.6,609.0 L159.7,621.1 L159.7,623.7 L124.6,611.5Z M378.3,691.0 L387.3,693.1 L387.3,696.1 L378.3,694.0Z M389.0,693.5 L391.5,694.1 L391.5,697.1 L389.0,696.5Z M304.5,673.5 L331.5,681.7 L331.5,684.7 L304.5,676.5Z M276.5,667.7 L296.2,673.8 L303.6,676.1 L305.5,676.6 L305.5,679.6 L303.6,679.0 L296.2,676.7 L276.5,670.6Z M358.8,692.2 L375.4,696.0 L375.4,699.1 L358.8,695.2Z M381.1,697.4 L391.5,699.8 L391.5,702.8 L381.1,700.4Z M161.2,628.9 L175.5,633.8 L175.5,636.4 L161.2,631.5Z M219.2,648.1 L235.8,655.0 L240.8,657.1 L240.8,659.8 L235.8,657.7 L219.2,650.7Z M375.1,698.8 L391.5,702.6 L391.5,705.6 L375.1,701.9Z M124.6,621.1 L135.8,625.0 L135.8,627.6 L124.6,623.7Z M139.8,626.4 L176.1,638.9 L176.3,638.9 L176.3,641.5 L176.1,641.4 L139.8,629.0Z M273.2,677.6 L296.2,685.0 L303.6,687.3 L307.3,688.5 L307.3,691.5 L303.6,690.3 L296.2,687.9 L273.2,680.5Z" fill="#6c6c6c"/>
<path d="M206.2,609.2 L208.3,609.8 L232.4,618.1 L232.4,620.8 L208.3,612.4 L206.2,611.7Z M284.0,633.9 L296.2,637.3 L303.6,639.4 L303.7,639.4 L303.7,642.4 L303.6,642.4 L296.2,640.3 L284.0,636.8Z M198.5,611.7 L208.3,614.6 L226.1,621.0 L226.1,623.6 L208.3,617.2 L198.5,614.3Z M124.6,591.9 L125.3,592.2 L125.3,594.8 L124.6,594.5Z M216.3,622.4 L234.6,629.1 L234.6,631.8 L216.3,625.0Z M163.8,610.5 L174.3,614.1 L174.3,616.7 L163.8,613.0Z M191.1,619.2 L208.1,624.2 L208.1,626.8 L191.1,621.8Z M180.0,623.1 L189.6,626.0 L189.6,628.5 L180.0,625.7Z M215.0,634.1 L235.8,642.3 L252.7,648.7 L252.7,651.5 L235.8,645.0 L215.0,636.7Z M322.3,676.0 L347.1,683.5 L347.1,686.6 L322.3,679.1Z M166.9,626.1 L176.1,629.2 L177.7,629.7 L177.7,632.3 L176.1,631.8 L166.9,628.6Z M169.1,629.2 L176.1,631.6 L208.3,641.1 L208.5,641.2 L208.5,643.8 L208.3,643.7 L176.1,634.2 L169.1,631.8Z M262.3,663.2 L272.6,666.4 L272.6,669.3 L262.3,666.1Z M266.1,667.1 L296.2,676.6 L303.6,678.9 L304.5,679.1 L304.5,682.1 L303.6,681.8 L296.2,679.5 L266.1,670.0Z M328.8,689.5 L337.5,692.2 L337.5,695.3 L328.8,692.5Z M184.8,641.4 L208.3,648.4 L219.4,653.1 L219.4,655.8 L208.3,650.9 L184.8,644.0Z M329.5,692.6 L345.8,697.7 L345.8,700.8 L329.5,695.6Z M364.9,705.2 L373.0,707.0 L373.0,710.0 L364.9,708.2Z" fill="#646464"/>
<path d="M238.7,620.2 L259.7,627.0 L259.7,629.9 L238.7,623.0Z M232.0,620.5 L235.8,621.9 L245.7,625.1 L245.7,627.9 L235.8,624.6 L232.0,623.2Z M250.2,629.2 L262.2,633.2 L266.0,634.3 L266.0,637.2 L262.2,636.1 L250.2,632.0Z M183.4,614.5 L194.0,617.6 L194.0,620.2 L183.4,617.1Z M325.9,659.9 L343.9,665.0 L343.9,668.1 L325.9,662.9Z M179.3,615.7 L187.9,618.3 L187.9,620.8 L179.3,618.3Z M272.9,647.3 L296.2,654.2 L298.1,654.7 L298.1,657.7 L296.2,657.1 L272.9,650.2Z M221.3,631.6 L235.8,637.2 L253.4,643.6 L253.4,646.5 L235.8,639.9 L221.3,634.3Z M298.4,657.6 L303.6,659.1 L321.4,664.3 L321.4,667.3 L303.6,662.1 L298.4,660.6Z M141.4,607.5 L176.1,619.6 L176.9,619.8 L176.9,622.4 L176.1,622.1 L141.4,610.1Z M355.4,676.8 L384.7,683.9 L384.7,686.9 L355.4,679.9Z M124.6,604.1 L129.5,605.8 L129.5,608.4 L124.6,606.7Z M185.8,636.9 L208.3,643.6 L209.0,643.9 L209.0,646.4 L208.3,646.1 L185.8,639.5Z M293.8,681.4 L296.2,682.2 L303.6,684.5 L322.9,690.5 L322.9,693.5 L303.6,687.5 L296.2,685.1 L293.8,684.4Z" fill="#5c5c5c"/>
<path d="M312.2,641.8 L339.1,649.1 L339.1,652.2 L312.2,644.7Z M184.9,605.3 L208.3,612.2 L220.2,616.4 L220.2,619.0 L208.3,614.8 L184.9,607.9Z M310.1,644.0 L348.3,654.6 L348.3,657.7 L310.1,647.0Z M278.9,673.9 L293.1,678.4 L293.1,681.4 L278.9,676.8Z M366.5,702.6 L391.5,708.3 L391.5,711.3 L366.5,705.7Z M165.2,637.5 L176.1,641.3 L177.1,641.6 L177.1,644.1 L176.1,643.9 L165.2,640.1Z" fill="#585858"/>
<path d="M352.4,652.8 L384.5,661.0 L384.5,664.0 L352.4,655.8Z M329.1,652.2 L348.5,657.6 L350.2,658.0 L356.7,659.7 L356.7,662.8 L350.2,661.1 L348.5,660.7 L329.1,655.2Z M215.4,619.6 L235.8,627.0 L248.4,631.3 L248.4,634.1 L235.8,629.7 L215.4,622.2Z M176.2,610.0 L208.0,619.3 L208.0,621.9 L176.2,612.5Z M321.4,655.7 L339.1,660.8 L339.1,663.8 L321.4,658.8Z M372.9,669.5 L391.5,674.2 L391.5,677.2 L372.9,672.6Z M347.8,666.2 L348.5,666.4 L350.2,666.8 L376.4,673.3 L376.4,676.3 L350.2,669.9 L348.5,669.4 L347.8,669.2Z M378.3,673.7 L391.5,677.0 L391.5,680.0 L378.3,676.8Z M220.6,628.9 L235.8,634.6 L244.0,637.6 L244.0,640.3 L235.8,637.3 L220.6,631.5Z M356.1,671.2 L385.3,678.3 L385.3,681.3 L356.1,674.2Z M152.0,608.8 L176.1,617.2 L182.7,619.1 L182.7,621.7 L176.1,619.7 L152.0,611.4Z M334.6,668.2 L348.5,672.2 L350.2,672.6 L374.3,678.5 L374.3,681.5 L350.2,675.7 L348.5,675.3 L334.6,671.2Z M268.0,651.3 L296.2,659.8 L303.6,662.0 L305.2,662.4 L305.2,665.4 L303.6,664.9 L296.2,662.7 L268.0,654.2Z M167.5,623.8 L176.1,626.8 L189.1,630.7 L189.1,633.2 L176.1,629.4 L167.5,626.4Z M273.7,661.3 L296.2,668.2 L303.6,670.4 L313.6,673.4 L313.6,676.4 L303.6,673.4 L296.2,671.1 L273.7,664.2Z M334.4,682.6 L348.5,686.8 L350.2,687.3 L359.1,689.3 L359.1,692.4 L350.2,690.3 L348.5,689.9 L334.4,685.6Z M309.4,680.6 L342.4,690.8 L342.4,693.9 L309.4,683.6Z M349.3,692.9 L350.2,693.1 L362.7,696.0 L362.7,699.0 L350.2,696.2 L349.3,695.9Z M242.8,660.5 L262.2,668.6 L270.7,671.3 L270.7,674.2 L262.2,671.5 L242.8,663.2Z M124.8,623.6 L157.1,634.8 L157.1,637.3 L124.8,626.2Z" fill="#707070"/>
<path d="M252.3,627.3 L262.2,630.5 L270.6,632.9 L270.6,635.8 L262.2,633.4 L252.3,630.1Z M273.0,636.3 L296.2,642.9 L299.5,643.9 L299.5,646.8 L296.2,645.9 L273.0,639.2Z M154.6,600.0 L164.7,603.5 L164.7,606.1 L154.6,602.6Z M342.3,661.7 L348.5,663.4 L350.2,663.9 L369.0,668.6 L369.0,671.6 L350.2,667.0 L348.5,666.5 L342.3,664.7Z M378.8,679.6 L391.5,682.7 L391.5,685.7 L378.8,682.6Z M213.0,643.1 L235.8,652.5 L250.6,658.5 L250.6,661.3 L235.8,655.2 L213.0,645.7Z" fill="#808080"/>
<path d="M279.3,635.4 L296.2,640.1 L299.2,641.0 L299.2,643.9 L296.2,643.1 L279.3,638.3Z M361.5,658.0 L391.5,665.6 L391.5,668.6 L361.5,661.0Z M349.6,660.8 L350.2,661.0 L380.9,668.7 L380.9,671.7 L350.2,664.0 L349.6,663.9Z M240.1,631.0 L262.2,638.7 L275.4,642.5 L275.4,645.4 L262.2,641.6 L240.1,633.7Z M286.5,645.7 L296.2,648.5 L303.6,650.7 L304.0,650.8 L304.0,653.7 L303.6,653.6 L296.2,651.5 L286.5,648.7Z M196.6,618.4 L208.3,621.9 L219.5,626.0 L219.5,628.6 L208.3,624.4 L196.6,621.0Z M289.3,649.3 L296.2,651.3 L303.6,653.5 L316.7,657.2 L316.7,660.2 L303.6,656.5 L296.2,654.3 L289.3,652.3Z M308.9,657.8 L347.5,669.0 L347.5,672.1 L308.9,660.8Z M192.6,622.0 L208.3,626.7 L220.4,631.3 L220.4,633.9 L208.3,629.2 L192.6,624.6Z M129.1,620.2 L153.2,628.6 L153.2,631.1 L129.1,622.8Z M224.2,657.7 L235.8,662.7 L250.7,669.1 L250.7,671.9 L235.8,665.4 L224.2,660.3Z M252.3,669.8 L262.2,674.1 L271.4,677.0 L271.4,679.9 L262.2,676.9 L252.3,672.6Z" fill="#7c7c7c"/>
<path d="M124.6,589.5 L131.5,591.9 L131.5,594.5 L124.6,592.1Z M264.6,636.6 L295.6,645.6 L295.6,648.5 L264.6,639.5Z M227.1,628.8 L235.8,632.1 L246.2,635.7 L246.2,638.5 L235.8,634.8 L227.1,631.5Z M124.6,601.7 L130.3,603.7 L130.3,606.2 L124.6,604.2Z M222.7,634.7 L235.8,639.7 L256.4,647.4 L256.4,650.3 L235.8,642.4 L222.7,637.3Z M203.0,629.9 L208.3,631.5 L212.3,633.1 L212.3,635.7 L208.3,634.1 L203.0,632.5Z M361.0,684.0 L391.5,691.2 L391.5,694.2 L361.0,687.0Z M196.4,632.8 L208.3,636.3 L218.9,640.6 L218.9,643.2 L208.3,638.9 L196.4,635.4Z M361.6,689.9 L383.9,695.2 L383.9,698.2 L361.6,693.0Z M160.0,630.9 L176.1,636.5 L189.8,640.5 L189.8,643.1 L176.1,639.0 L160.0,633.5Z M346.9,695.1 L348.5,695.6 L350.2,696.0 L376.5,702.0 L376.5,705.1 L350.2,699.1 L348.5,698.7 L346.9,698.2Z" fill="#787878"/>
<path d="M133.2,592.5 L151.1,598.8 L151.1,601.4 L133.2,595.1Z" fill="#909090"/>
<path d="M143.0,598.4 L162.8,605.3 L162.8,607.8 L143.0,600.9Z" fill="#545454"/>
<path d="M124.6,594.4 L137.4,598.8 L137.4,601.4 L124.6,597.0Z M252.9,638.1 L262.2,641.4 L277.6,645.9 L277.6,648.8 L262.2,644.3 L252.9,640.9Z M250.8,640.0 L262.2,644.1 L263.6,644.5 L263.6,647.4 L262.2,647.0 L250.8,642.8Z M171.8,622.9 L176.1,624.4 L193.8,629.6 L193.8,632.2 L176.1,627.0 L171.8,625.5Z M264.1,655.6 L285.7,662.2 L285.7,665.1 L264.1,658.5Z M327.0,674.6 L348.5,681.0 L350.2,681.4 L360.9,684.0 L360.9,687.0 L350.2,684.5 L348.5,684.1 L327.0,677.6Z M223.3,642.3 L235.8,647.4 L241.1,649.5 L241.1,652.2 L235.8,650.1 L223.3,645.0Z M190.1,633.4 L208.3,638.7 L221.0,643.9 L221.0,646.5 L208.3,641.3 L190.1,635.9Z M221.6,644.1 L235.8,649.9 L258.0,658.8 L258.0,661.7 L235.8,652.6 L221.6,646.8Z M271.2,663.2 L292.8,669.9 L292.8,672.9 L271.2,666.1Z M318.2,680.5 L337.4,686.4 L337.4,689.4 L318.2,683.5Z M196.4,642.5 L208.3,646.0 L229.7,655.0 L229.7,657.7 L208.3,648.5 L196.4,645.0Z M298.9,680.2 L303.6,681.7 L312.0,684.3 L312.0,687.3 L303.6,684.7 L298.9,683.2Z M223.5,654.9 L235.8,660.1 L251.2,666.7 L251.2,669.5 L235.8,662.8 L223.5,657.5Z M190.5,645.5 L208.3,650.8 L216.0,654.1 L216.0,656.7 L208.3,653.4 L190.5,648.1Z M340.7,699.0 L348.5,701.5 L350.2,701.9 L355.6,703.1 L355.6,706.1 L350.2,704.9 L348.5,704.5 L340.7,702.1Z" fill="#686868"/>
<path d="M256.6,650.2 L262.2,652.3 L272.3,655.4 L272.3,658.3 L262.2,655.2 L256.6,653.0Z M142.5,617.6 L166.0,625.7 L166.0,628.3 L142.5,620.2Z" fill="#848484"/>
<path d="M242.2,647.3 L251.6,650.9 L251.6,653.7 L242.2,650.0Z" fill="#888888"/>
<path d="M285.7,662.2 L296.2,665.4 L303.6,667.6 L316.6,671.5 L316.6,674.5 L303.6,670.6 L296.2,668.3 L285.7,665.1Z" fill="#949494"/>
<path d="M124.6,616.3 L159.8,628.4 L159.8,631.0 L124.6,618.9Z" fill="#4c4c4c"/>
<path d="M346.9,698.0 L348.5,698.5 L350.2,698.9 L358.4,700.8 L358.4,703.9 L350.2,702.0 L348.5,701.6 L346.9,701.1Z" fill="#505050"/>
<path d="M124.6,587.5 L176.1,605.5 L208.3,615.0 L235.8,624.8 L262.2,633.7 L296.2,643.4 L303.6,645.5 L348.5,658.1 L350.2,658.5 L391.5,669.0 M124.6,592.8 L176.1,610.8 L208.3,620.3 L235.8,630.4 L262.2,639.6 L296.2,649.5 L303.6,651.6 L348.5,664.4 L350.2,664.9 L391.5,675.1 M124.6,598.0 L176.1,616.0 L208.3,625.5 L235.8,635.9 L262.2,645.5 L296.2,655.6 L303.6,657.7 L348.5,670.8 L350.2,671.2 L391.5,681.3 M124.6,603.3 L176.1,621.2 L208.3,630.7 L235.8,641.4 L262.2,651.4 L296.2,661.7 L303.6,663.9 L348.5,677.1 L350.2,677.5 L391.5,687.5 M124.6,608.6 L176.1,626.4 L208.3,635.9 L235.8,647.0 L262.2,657.3 L296.2,667.7 L303.6,670.0 L348.5,683.5 L350.2,683.9 L391.5,693.6 M124.6,613.9 L176.1,631.7 L208.3,641.2 L235.8,652.5 L262.2,663.2 L296.2,673.8 L303.6,676.1 L348.5,689.8 L350.2,690.2 L391.5,699.8 M124.6,619.1 L176.1,636.9 L208.3,646.4 L235.8,658.0 L262.2,669.1 L296.2,679.9 L303.6,682.2 L348.5,696.2 L350.2,696.5 L391.5,706.0 M124.6,624.4 L176.1,642.1 L208.3,651.6 L235.8,663.6 L262.2,675.0 L296.2,686.0 L303.6,688.3 L348.5,702.5 L350.2,702.9 L391.5,712.1" fill="none" stroke="#2c2c2c" stroke-width="0.5"/>
<path d="M137.8,586.8 V630.5 M159.8,594.6 V638.1 M181.8,602.0 V645.4 M203.8,608.5 V651.9 M225.8,615.8 V660.9 M247.8,623.2 V670.5 M269.8,629.9 V679.3 M291.8,636.1 V686.4 M313.8,642.2 V693.4 M335.8,648.2 V700.4 M357.8,654.2 V706.5 M379.8,659.8 V711.4" fill="none" stroke="#1e1e1e" stroke-width="0.8"/>
<polyline points="124.6,582.2 176.1,600.3 208.3,609.8 235.8,619.3 262.2,627.8 296.2,637.3 303.6,639.4 348.5,651.7 350.2,652.2 391.5,662.8" fill="none" stroke="#3e3e3e" stroke-width="1.8"/>
<line x1="125.2" y1="582.2" x2="125.2" y2="626.0" stroke="#777" stroke-width="1.6"/>
<line x1="124.4" y1="582.2" x2="124.4" y2="626.0" stroke="#333" stroke-width="0.6"/>
<polygon points="85.0,643.7 123.6,625.7 176.1,600.3 176.1,643.7 123.6,668.0 85.0,686.0" fill="#646464"/>
<path d="M93.1,639.9 L110.8,631.7 L110.8,634.2 L93.1,642.4Z M85.0,657.8 L92.4,654.3 L92.4,656.8 L85.0,660.3Z M153.7,625.4 L162.0,621.5 L162.0,624.1 L153.7,628.0Z M111.9,664.1 L123.6,658.6 L151.7,645.4 L151.7,648.0 L123.6,661.1 L111.9,666.6Z M145.9,650.5 L176.1,636.5 L176.1,639.0 L145.9,653.1Z" fill="#505050"/>
<path d="M114.0,630.2 L123.6,625.7 L151.1,612.4 L151.1,614.9 L123.6,628.2 L114.0,632.7Z M132.4,628.5 L167.6,611.6 L167.6,614.2 L132.4,631.0Z M171.2,612.3 L176.1,609.9 L176.1,612.5 L171.2,614.9Z M85.0,655.5 L105.3,646.0 L105.3,648.5 L85.0,658.0Z M124.2,644.2 L154.1,630.0 L154.1,632.6 L124.2,646.7Z M157.9,628.2 L173.0,621.1 L173.0,623.6 L157.9,630.8Z M110.8,652.8 L123.6,646.9 L129.8,643.9 L129.8,646.4 L123.6,649.4 L110.8,655.3Z M166.6,631.3 L176.1,626.8 L176.1,629.4 L166.6,633.9Z M85.0,674.2 L91.7,671.1 L91.7,673.6 L85.0,676.8Z M145.4,655.5 L162.3,647.7 L162.3,650.2 L145.4,658.1Z" fill="#5c5c5c"/>
<path d="M159.6,608.3 L176.1,600.3 L176.1,602.9 L159.6,610.8Z M85.0,646.1 L106.8,635.9 L106.8,638.4 L85.0,648.6Z M140.5,622.2 L165.6,610.2 L165.6,612.7 L140.5,624.8Z M103.5,649.2 L123.6,639.8 L129.5,637.0 L129.5,639.5 L123.6,642.3 L103.5,651.7Z M132.3,649.8 L141.3,645.6 L141.3,648.1 L132.3,652.3Z" fill="#585858"/>
<path d="M112.3,633.3 L121.4,629.1 L121.4,631.6 L112.3,635.8Z M159.7,610.6 L176.1,602.7 L176.1,605.3 L159.7,613.2Z M137.7,628.3 L167.5,614.1 L167.5,616.6 L137.7,630.9Z M85.0,660.1 L114.1,646.6 L114.1,649.1 L85.0,662.6Z M131.3,643.2 L149.4,634.7 L149.4,637.2 L131.3,645.7Z M165.1,639.2 L174.4,634.8 L174.4,637.4 L165.1,641.8Z M85.0,683.6 L94.0,679.5 L94.0,682.0 L85.0,686.1Z" fill="#545454"/>
<path d="M123.8,627.9 L152.8,613.9 L152.8,616.5 L123.8,630.4Z M142.5,628.4 L158.7,620.7 L158.7,623.2 L142.5,630.9Z M125.6,650.6 L163.4,632.8 L163.4,635.4 L125.6,653.1Z M85.0,679.0 L98.0,672.9 L98.0,675.4 L85.0,681.4Z" fill="#707070"/>
<path d="M85.0,648.4 L86.2,647.8 L86.2,650.3 L85.0,650.9Z M98.7,642.0 L107.5,637.9 L107.5,640.4 L98.7,644.5Z M85.0,650.8 L105.4,641.2 L105.4,643.7 L85.0,653.2Z M141.0,631.5 L152.1,626.2 L152.1,628.7 L141.0,634.0Z M97.2,656.8 L117.6,647.3 L117.6,649.8 L97.2,659.3Z M163.1,628.2 L176.1,622.0 L176.1,624.6 L163.1,630.7Z M95.7,666.9 L123.6,653.9 L126.3,652.6 L126.3,655.1 L123.6,656.4 L95.7,669.4Z M171.8,631.3 L176.1,629.2 L176.1,631.8 L171.8,633.8Z M99.8,672.1 L113.9,665.5 L113.9,668.0 L99.8,674.6Z" fill="#747474"/>
<path d="M115.1,634.4 L123.6,630.4 L129.2,627.7 L129.2,630.2 L123.6,632.9 L115.1,636.9Z M169.6,610.6 L176.1,607.5 L176.1,610.1 L169.6,613.2Z M124.0,642.0 L147.0,631.0 L147.0,633.5 L124.0,644.5Z" fill="#4c4c4c"/>
<path d="M110.2,639.0 L123.6,632.8 L130.7,629.4 L130.7,631.9 L123.6,635.2 L110.2,641.5Z M113.6,642.1 L123.6,637.5 L126.4,636.1 L126.4,638.6 L123.6,640.0 L113.6,644.6Z M129.2,634.8 L137.2,630.9 L137.2,633.4 L129.2,637.3Z M174.5,615.5 L176.1,614.8 L176.1,617.3 L174.5,618.1Z M126.4,647.9 L151.2,636.2 L151.2,638.7 L126.4,650.4Z M173.0,625.9 L176.1,624.4 L176.1,627.0 L173.0,628.4Z M167.1,645.5 L176.1,641.3 L176.1,643.9 L167.1,648.0Z" fill="#606060"/>
<path d="M85.0,653.1 L90.4,650.6 L90.4,653.1 L85.0,655.6Z M85.0,667.2 L101.3,659.6 L101.3,662.1 L85.0,669.7Z M145.4,646.0 L171.1,634.0 L171.1,636.6 L145.4,648.6Z M99.3,677.0 L123.6,665.6 L136.9,659.5 L136.9,662.0 L123.6,668.1 L99.3,679.5Z" fill="#646464"/>
<path d="M95.6,648.2 L123.6,635.1 L135.0,629.6 L135.0,632.2 L123.6,637.6 L95.6,650.7Z M150.8,629.2 L173.7,618.3 L173.7,620.9 L150.8,631.7Z M85.0,669.6 L112.4,656.8 L112.4,659.3 L85.0,672.0Z M175.5,634.4 L176.1,634.1 L176.1,636.6 L175.5,636.9Z" fill="#787878"/>
<path d="M165.6,617.4 L176.1,612.4 L176.1,614.9 L165.6,619.9Z M85.0,662.5 L94.7,658.0 L94.7,660.5 L85.0,665.0Z M155.2,634.3 L166.9,628.8 L166.9,631.3 L155.2,636.8Z M145.1,643.8 L171.7,631.3 L171.7,633.9 L145.1,646.3Z M128.9,660.9 L162.4,645.2 L162.4,647.8 L128.9,663.4Z M171.3,641.1 L176.1,638.9 L176.1,641.4 L171.3,643.7Z" fill="#686868"/>
<path d="M85.0,664.9 L108.8,653.8 L108.8,656.3 L85.0,667.4Z M103.6,658.5 L116.9,652.3 L116.9,654.8 L103.6,661.0Z M116.3,664.4 L123.6,661.0 L144.1,651.4 L144.1,653.9 L123.6,663.4 L116.3,666.9Z M85.6,681.0 L122.8,663.7 L122.8,666.2 L85.6,683.5Z" fill="#6c6c6c"/>
<path d="M105.7,664.6 L123.6,656.2 L139.0,649.0 L139.0,651.6 L123.6,658.8 L105.7,667.1Z" fill="#444444"/>
<path d="M85.0,676.6 L105.0,667.3 L105.0,669.8 L85.0,679.1Z" fill="#949494"/>
<path d="M85.0,648.8 L123.6,630.8 L176.1,605.5 M85.0,653.9 L123.6,635.9 L176.1,610.8 M85.0,659.0 L123.6,641.0 L176.1,616.0 M85.0,664.1 L123.6,646.1 L176.1,621.2 M85.0,669.2 L123.6,651.2 L176.1,626.4 M85.0,674.3 L123.6,656.3 L176.1,631.7 M85.0,679.4 L123.6,661.4 L176.1,636.9 M85.0,684.5 L123.6,666.5 L176.1,642.1" fill="none" stroke="#2c2c2c" stroke-width="0.5"/>
<path d="M96.4,638.4 V680.7 M115.4,629.5 V671.8 M134.4,620.5 V663.0 M153.4,611.3 V654.2 M172.4,602.1 V645.4" fill="none" stroke="#1e1e1e" stroke-width="0.8"/>
<polyline points="85.0,643.7 123.6,625.7 176.1,600.3" fill="none" stroke="#3e3e3e" stroke-width="1.8"/>
<polygon points="84.0,647.5 93.0,644.0 102.4,641.4 119.3,640.3 140.5,644.5 161.7,652.0 169.0,659.0 173.3,669.8 173.3,740.0 84.0,700.0" fill="#1f1f1f"/>
<polygon points="173.3,669.8 211.4,651.8 214.0,650.8 243.2,639.1 247.5,636.5 262.2,627.8 262.2,676.8 247.5,683.6 243.2,686.3 214.0,705.0 211.4,706.7 173.3,731.0" fill="#646464"/>
<path d="M173.3,669.8 L189.4,662.2 L189.4,665.6 L173.3,673.3Z M235.6,642.1 L243.2,639.1 L247.5,636.5 L249.3,635.5 L249.3,638.3 L247.5,639.3 L243.2,641.9 L235.6,645.0Z M229.9,647.2 L243.2,641.7 L247.5,639.2 L255.1,634.7 L255.1,637.5 L247.5,641.9 L243.2,644.5 L229.9,650.2Z" fill="#585858"/>
<path d="M201.9,656.3 L211.4,651.8 L214.0,650.8 L227.9,645.2 L227.9,648.2 L214.0,653.9 L211.4,655.0 L201.9,659.6Z M186.9,679.8 L211.4,667.0 L214.0,665.8 L215.1,665.3 L215.1,668.5 L214.0,669.0 L211.4,670.2 L186.9,683.2Z M235.7,658.4 L243.2,654.8 L247.5,652.2 L256.4,647.3 L256.4,650.2 L247.5,655.0 L243.2,657.6 L235.7,661.3Z M188.1,688.9 L204.1,680.2 L204.1,683.4 L188.1,692.3Z M199.3,686.0 L211.4,679.2 L214.0,677.9 L229.6,669.8 L229.6,672.7 L214.0,681.0 L211.4,682.4 L199.3,689.3Z M188.9,704.8 L200.2,698.0 L200.2,701.3 L188.9,708.2Z M173.3,717.4 L184.9,710.4 L184.9,713.9 L173.3,720.9Z M230.6,683.3 L243.2,675.8 L247.5,673.1 L262.2,665.9 L262.2,668.8 L247.5,675.9 L243.2,678.6 L230.6,686.2Z M173.3,720.8 L201.1,703.8 L201.1,707.1 L173.3,724.4Z" fill="#5c5c5c"/>
<path d="M256.9,631.0 L262.2,627.8 L262.2,630.7 L256.9,633.8Z M206.0,660.6 L211.4,657.9 L214.0,656.8 L229.7,650.1 L229.7,653.1 L214.0,660.0 L211.4,661.1 L206.0,663.8Z M177.5,681.3 L199.7,670.0 L199.7,673.3 L177.5,684.8Z M228.1,659.3 L240.7,653.4 L240.7,656.2 L228.1,662.2Z M254.1,646.0 L262.2,641.4 L262.2,644.3 L254.1,648.8Z M173.3,697.0 L175.7,695.7 L175.7,699.2 L173.3,700.5Z M188.2,698.6 L211.4,685.3 L212.1,684.9 L212.1,688.1 L211.4,688.5 L188.2,702.1Z M195.8,703.8 L211.4,694.5 L214.0,692.9 L220.1,689.4 L220.1,692.5 L214.0,696.1 L211.4,697.7 L195.8,707.2Z M210.2,704.4 L211.4,703.6 L214.0,702.0 L243.2,683.7 L243.2,683.7 L243.2,686.5 L243.2,686.5 L214.0,705.1 L211.4,706.8 L210.2,707.6Z" fill="#646464"/>
<path d="M175.9,671.9 L193.5,663.5 L193.5,666.9 L175.9,675.5Z M180.0,690.0 L209.4,674.2 L209.4,677.4 L180.0,693.5Z M233.3,667.9 L243.2,662.7 L247.5,660.1 L262.2,652.3 L262.2,655.2 L247.5,662.8 L243.2,665.5 L233.3,670.8Z" fill="#545454"/>
<path d="M200.1,660.3 L211.4,654.8 L214.0,653.8 L221.1,650.9 L221.1,653.9 L214.0,656.9 L211.4,658.0 L200.1,663.6Z M236.0,647.4 L243.2,644.3 L247.5,641.8 L262.2,633.2 L262.2,636.1 L247.5,644.5 L243.2,647.1 L236.0,650.3Z M239.0,667.6 L243.2,665.3 L247.5,662.7 L251.0,660.9 L251.0,663.6 L247.5,665.4 L243.2,668.1 L239.0,670.4Z M181.5,705.8 L211.4,688.4 L213.6,687.2 L213.6,690.3 L211.4,691.6 L181.5,709.3Z M260.3,661.4 L262.2,660.5 L262.2,663.3 L260.3,664.3Z" fill="#6c6c6c"/>
<path d="M173.3,676.6 L202.3,662.4 L202.3,665.6 L173.3,680.1Z M173.3,683.4 L175.7,682.2 L175.7,685.7 L173.3,686.9Z M173.3,727.6 L201.9,709.6 L201.9,712.9 L173.3,731.1Z" fill="#606060"/>
<path d="M173.3,680.0 L200.7,666.3 L200.7,669.6 L173.3,683.5Z M209.5,664.9 L211.4,664.0 L214.0,662.8 L243.2,649.6 L247.5,647.0 L249.2,646.0 L249.2,648.8 L247.5,649.8 L243.2,652.4 L214.0,666.0 L211.4,667.2 L209.5,668.2Z M173.3,690.2 L174.5,689.6 L174.5,693.1 L173.3,693.8Z M181.0,686.1 L196.4,678.0 L196.4,681.3 L181.0,689.6Z M215.3,674.2 L243.2,660.1 L247.5,657.5 L249.0,656.7 L249.0,659.5 L247.5,660.2 L243.2,662.9 L215.3,677.4Z M200.5,688.5 L211.4,682.3 L214.0,680.9 L234.8,669.8 L234.8,672.7 L214.0,684.1 L211.4,685.5 L200.5,691.8Z M223.4,681.7 L243.2,670.6 L247.5,667.9 L255.5,663.9 L255.5,666.7 L247.5,670.7 L243.2,673.4 L223.4,684.7Z M173.3,714.0 L182.7,708.4 L182.7,711.9 L173.3,717.5Z M229.5,681.0 L243.2,673.2 L247.5,670.5 L253.9,667.3 L253.9,670.1 L247.5,673.3 L243.2,676.0 L229.5,684.0Z M248.5,677.9 L262.2,671.4 L262.2,674.2 L248.5,680.6Z" fill="#686868"/>
<path d="M205.9,663.7 L211.4,660.9 L214.0,659.8 L243.2,647.0 L245.3,645.7 L245.3,648.5 L243.2,649.7 L214.0,663.0 L211.4,664.1 L205.9,667.0Z M220.9,668.5 L243.2,657.5 L247.5,654.8 L259.0,648.6 L259.0,651.4 L247.5,657.6 L243.2,660.2 L220.9,671.5Z M259.0,664.8 L262.2,663.2 L262.2,666.1 L259.0,667.6Z M248.1,675.5 L262.2,668.6 L262.2,671.5 L248.1,678.2Z M173.3,724.2 L186.6,716.0 L186.6,719.4 L173.3,727.8Z" fill="#787878"/>
<path d="M248.2,644.0 L262.2,636.0 L262.2,638.8 L248.2,646.8Z" fill="#747474"/>
<path d="M173.3,686.8 L180.7,683.0 L180.7,686.4 L173.3,690.3Z M173.3,700.4 L195.3,688.2 L195.3,691.5 L173.3,703.9Z" fill="#444444"/>
<path d="M207.1,672.3 L211.4,670.1 L214.0,668.8 L228.9,661.7 L228.9,664.7 L214.0,672.0 L211.4,673.3 L207.1,675.6Z" fill="#4c4c4c"/>
<path d="M173.3,693.6 L178.1,691.0 L178.1,694.5 L173.3,697.1Z M173.3,703.8 L195.0,691.5 L195.0,694.9 L173.3,707.4Z M214.0,683.9 L214.0,683.9 L225.8,677.5 L225.8,680.5 L214.0,687.1 L214.0,687.1Z M212.5,696.9 L214.0,696.0 L243.2,678.5 L244.0,678.0 L244.0,680.8 L243.2,681.2 L214.0,699.1 L212.5,700.1Z M190.0,713.8 L204.4,704.9 L204.4,708.2 L190.0,717.2Z" fill="#707070"/>
<path d="M260.0,648.1 L262.2,646.9 L262.2,649.7 L260.0,650.9Z M257.0,652.3 L262.2,649.6 L262.2,652.4 L257.0,655.2Z M173.3,707.2 L183.9,701.1 L183.9,704.6 L173.3,710.8Z M259.4,659.2 L262.2,657.7 L262.2,660.6 L259.4,662.0Z M200.5,697.9 L211.4,691.4 L214.0,689.9 L219.4,686.9 L219.4,690.0 L214.0,693.1 L211.4,694.6 L200.5,701.2Z M257.1,676.5 L262.2,674.1 L262.2,676.9 L257.1,679.3Z" fill="#505050"/>
<path d="M227.8,676.4 L243.2,668.0 L247.5,665.3 L255.2,661.4 L255.2,664.2 L247.5,668.1 L243.2,670.7 L227.8,679.3Z" fill="#808080"/>
<path d="M210.5,701.1 L211.4,700.6 L214.0,699.0 L236.8,685.0 L236.8,687.9 L214.0,702.1 L211.4,703.8 L210.5,704.3Z" fill="#7c7c7c"/>
<path d="M173.3,677.2 L211.4,658.4 L214.0,657.3 L243.2,644.8 L247.5,642.2 L262.2,633.7 M173.3,684.5 L211.4,665.0 L214.0,663.8 L243.2,650.5 L247.5,647.9 L262.2,639.6 M173.3,691.9 L211.4,671.6 L214.0,670.4 L243.2,656.2 L247.5,653.6 L262.2,645.5 M173.3,699.3 L211.4,678.2 L214.0,676.9 L243.2,661.9 L247.5,659.2 L262.2,651.4 M173.3,706.7 L211.4,684.8 L214.0,683.4 L243.2,667.6 L247.5,664.9 L262.2,657.3 M173.3,714.0 L211.4,691.5 L214.0,690.0 L243.2,673.3 L247.5,670.6 L262.2,663.2 M173.3,721.4 L211.4,698.1 L214.0,696.5 L243.2,678.9 L247.5,676.2 L262.2,669.1 M173.3,728.8 L211.4,704.7 L214.0,703.0 L243.2,684.6 L247.5,681.9 L262.2,675.0" fill="none" stroke="#2c2c2c" stroke-width="0.5"/>
<path d="M184.7,664.4 V723.7 M203.7,655.4 V711.6 M222.7,647.3 V699.4 M241.7,639.7 V687.3" fill="none" stroke="#1e1e1e" stroke-width="0.8"/>
<polyline points="173.3,669.8 211.4,651.8 214.0,650.8 243.2,639.1 247.5,636.5 262.2,627.8" fill="none" stroke="#3e3e3e" stroke-width="1.8"/>
<line x1="173.9" y1="669.8" x2="173.9" y2="731.0" stroke="#777" stroke-width="1.6"/>
<line x1="173.1" y1="669.8" x2="173.1" y2="731.0" stroke="#333" stroke-width="0.6"/>
<polygon points="172.5,714.3 190.3,706.9 203.0,704.5 211.4,705.3 214.6,712.7 215.3,719.1 212.7,725.4 208.3,731.8 203.8,735.6 198.0,737.5 198.0,760.0 172.5,740.0" fill="#1f1f1f"/>
<polygon points="263.7,704.8 281.5,694.4 298.3,684.6 317.1,673.3 319.5,671.9 334.1,662.5 350.2,652.2 350.2,703.5 334.1,713.7 319.5,724.6 317.1,726.4 298.3,740.3 281.5,752.7 263.7,762.5" fill="#646464"/>
<path d="M263.7,704.8 L275.5,697.9 L275.5,701.3 L263.7,708.2Z M288.5,690.3 L298.3,684.6 L317.0,673.4 L317.0,676.5 L298.3,687.8 L288.5,693.7Z M281.5,697.6 L298.3,687.7 L317.1,676.3 L317.9,675.8 L317.9,678.9 L317.1,679.4 L298.3,690.9 L281.5,701.0Z M263.7,711.2 L273.9,705.3 L273.9,708.6 L263.7,714.6Z M263.7,720.8 L281.5,710.6 L287.3,707.0 L287.3,710.3 L281.5,714.0 L263.7,724.2Z M295.1,702.0 L298.3,700.1 L317.1,688.1 L319.5,686.5 L332.1,678.1 L332.1,681.1 L319.5,689.6 L317.1,691.2 L298.3,703.3 L295.1,705.3Z M345.4,669.5 L350.2,666.5 L350.2,669.5 L345.4,672.5Z M321.8,687.9 L334.1,679.6 L350.2,669.3 L350.2,672.3 L334.1,682.6 L321.8,691.0Z M329.8,691.1 L334.1,688.1 L350.2,677.9 L350.2,680.9 L334.1,691.1 L329.8,694.2Z M282.0,729.7 L298.3,718.6 L311.8,709.4 L311.8,712.5 L298.3,721.9 L282.0,733.1Z M340.0,692.9 L350.2,686.4 L350.2,689.4 L340.0,695.9Z M332.4,703.6 L334.1,702.3 L350.2,692.1 L350.2,695.1 L334.1,705.3 L332.4,706.6Z" fill="#606060"/>
<path d="M330.9,664.6 L334.1,662.5 L350.2,652.2 L350.2,655.2 L334.1,665.5 L330.9,667.6Z M290.9,695.3 L298.3,690.8 L310.2,683.5 L310.2,686.6 L298.3,694.0 L290.9,698.6Z M325.7,679.5 L334.1,673.9 L344.7,667.1 L344.7,670.1 L334.1,676.9 L325.7,682.5Z M263.7,752.9 L281.5,743.0 L292.9,734.8 L292.9,738.1 L281.5,746.4 L263.7,756.2Z" fill="#505050"/>
<path d="M263.7,708.0 L268.9,705.0 L268.9,708.4 L263.7,711.4Z M318.6,678.3 L319.5,677.8 L331.8,669.7 L331.8,672.7 L319.5,680.8 L318.6,681.4Z M263.7,714.4 L280.2,704.9 L280.2,708.3 L263.7,717.8Z M285.0,705.2 L298.3,697.0 L317.1,685.1 L319.5,683.6 L323.6,680.9 L323.6,684.0 L319.5,686.7 L317.1,688.2 L298.3,700.2 L285.0,708.5Z M309.5,696.0 L317.1,691.0 L319.5,689.5 L321.4,688.2 L321.4,691.2 L319.5,692.5 L317.1,694.1 L309.5,699.1Z M288.9,712.3 L297.1,707.0 L297.1,710.3 L288.9,715.6Z M301.3,704.3 L317.1,694.0 L319.5,692.4 L332.1,683.8 L332.1,686.8 L319.5,695.5 L317.1,697.1 L301.3,707.5Z M348.9,684.3 L350.2,683.6 L350.2,686.5 L348.9,687.3Z M313.3,714.3 L317.1,711.7 L319.5,710.0 L334.1,699.5 L338.2,696.9 L338.2,699.8 L334.1,702.5 L319.5,713.0 L317.1,714.8 L313.3,717.5Z M299.6,730.1 L317.1,717.6 L319.5,715.8 L324.6,712.1 L324.6,715.2 L319.5,718.9 L317.1,720.7 L299.6,733.3Z M334.9,707.5 L350.2,697.8 L350.2,700.8 L334.9,710.5Z M263.7,759.3 L267.0,757.4 L267.0,760.8 L263.7,762.6Z" fill="#686868"/>
<path d="M328.9,668.8 L334.1,665.4 L343.2,659.6 L343.2,662.6 L334.1,668.4 L328.9,671.8Z M341.0,663.8 L350.2,657.9 L350.2,660.9 L341.0,666.8Z M269.7,746.3 L278.5,741.4 L278.5,744.8 L269.7,749.7Z" fill="#4c4c4c"/>
<path d="M279.6,702.0 L281.5,700.9 L288.4,696.7 L288.4,700.1 L281.5,704.3 L279.6,705.4Z M263.7,717.6 L271.4,713.2 L271.4,716.5 L263.7,721.0Z M263.7,740.1 L278.1,731.9 L278.1,735.3 L263.7,743.4Z M327.3,710.1 L334.1,705.2 L350.2,695.0 L350.2,697.9 L334.1,708.2 L327.3,713.2Z M318.5,722.4 L319.5,721.7 L334.1,710.9 L340.2,707.0 L340.2,710.0 L334.1,713.9 L319.5,724.8 L318.5,725.5Z" fill="#545454"/>
<path d="M285.9,701.5 L298.3,693.9 L317.1,682.2 L319.5,680.7 L324.5,677.4 L324.5,680.4 L319.5,683.8 L317.1,685.3 L298.3,697.1 L285.9,704.8Z M291.2,707.7 L298.3,703.2 L304.8,699.0 L304.8,702.1 L298.3,706.4 L291.2,711.0Z M284.6,724.7 L298.3,715.5 L317.1,702.8 L319.5,701.2 L323.3,698.5 L323.3,701.6 L319.5,704.3 L317.1,705.9 L298.3,718.8 L284.6,728.1Z M263.7,743.3 L281.5,733.3 L282.4,732.7 L282.4,736.0 L281.5,736.7 L263.7,746.6Z M287.5,735.5 L298.3,727.9 L317.1,714.6 L319.5,712.9 L322.1,711.0 L322.1,714.1 L319.5,716.0 L317.1,717.7 L298.3,731.2 L287.5,738.9Z M263.7,756.1 L274.9,749.9 L274.9,753.3 L263.7,759.4Z" fill="#646464"/>
<path d="M334.1,671.1 L334.1,671.1 L350.2,660.8 L350.2,663.8 L334.1,674.1 L334.1,674.1Z M263.7,727.2 L281.5,717.1 L281.8,716.9 L281.8,720.3 L281.5,720.5 L263.7,730.6Z M288.2,716.0 L298.3,709.4 L317.1,696.9 L319.5,695.3 L326.2,690.7 L326.2,693.8 L319.5,698.4 L317.1,700.0 L298.3,712.6 L288.2,719.3Z M263.7,733.6 L281.5,723.6 L284.5,721.6 L284.5,724.9 L281.5,726.9 L263.7,737.0Z M263.7,736.9 L277.8,728.9 L277.8,732.3 L263.7,740.2Z M319.3,718.9 L319.5,718.8 L328.3,712.2 L328.3,715.3 L319.5,721.8 L319.3,722.0Z" fill="#707070"/>
<path d="M263.7,724.0 L266.4,722.5 L266.4,725.9 L263.7,727.4Z M334.9,684.8 L349.2,675.6 L349.2,678.6 L334.9,687.8Z M330.5,693.5 L334.1,691.0 L350.2,680.7 L350.2,683.7 L334.1,694.0 L330.5,696.5Z" fill="#5c5c5c"/>
<path d="M273.0,718.7 L281.5,713.8 L290.2,708.3 L290.2,711.6 L281.5,717.2 L273.0,722.1Z M263.7,730.4 L276.1,723.4 L276.1,726.8 L263.7,733.8Z M294.1,715.2 L298.3,712.4 L317.1,699.9 L318.4,699.0 L318.4,702.1 L317.1,703.0 L298.3,715.7 L294.1,718.5Z M317.8,705.3 L319.5,704.1 L334.1,693.8 L346.2,686.1 L346.2,689.1 L334.1,696.8 L319.5,707.2 L317.8,708.4Z" fill="#585858"/>
<path d="M343.9,676.2 L350.2,672.1 L350.2,675.1 L343.9,679.2Z M293.7,724.9 L298.3,721.7 L317.1,708.7 L319.5,707.0 L328.7,700.5 L328.7,703.5 L319.5,710.1 L317.1,711.8 L298.3,725.0 L293.7,728.1Z M346.0,691.9 L350.2,689.2 L350.2,692.2 L346.0,694.9Z M279.9,750.3 L281.5,749.5 L298.3,737.2 L307.7,730.3 L307.7,733.5 L298.3,740.4 L281.5,752.9 L279.9,753.7Z M342.8,705.3 L350.2,700.6 L350.2,703.6 L342.8,708.3Z" fill="#6c6c6c"/>
<path d="M263.7,746.5 L273.1,741.2 L273.1,744.6 L263.7,749.8Z M281.3,746.3 L281.5,746.2 L298.3,734.1 L317.1,720.5 L318.8,719.3 L318.8,722.3 L317.1,723.6 L298.3,737.3 L281.5,749.6 L281.3,749.7Z" fill="#787878"/>
<path d="M276.4,739.3 L281.5,736.5 L298.3,724.8 L303.4,721.2 L303.4,724.4 L298.3,728.1 L281.5,739.9 L276.4,742.7Z" fill="#747474"/>
<path d="M263.7,711.8 L281.5,701.4 L298.3,691.3 L317.1,679.7 L319.5,678.3 L334.1,668.7 L350.2,658.4 M263.7,718.7 L281.5,708.5 L298.3,698.0 L317.1,686.1 L319.5,684.6 L334.1,674.9 L350.2,664.6 M263.7,725.7 L281.5,715.5 L298.3,704.7 L317.1,692.5 L319.5,691.0 L334.1,681.0 L350.2,670.7 M263.7,732.6 L281.5,722.5 L298.3,711.4 L317.1,698.9 L319.5,697.3 L334.1,687.2 L350.2,676.9 M263.7,739.6 L281.5,729.5 L298.3,718.1 L317.1,705.3 L319.5,703.7 L334.1,693.4 L350.2,683.1 M263.7,746.5 L281.5,736.5 L298.3,724.9 L317.1,711.7 L319.5,710.0 L334.1,699.5 L350.2,689.3 M263.7,753.5 L281.5,743.6 L298.3,731.6 L317.1,718.1 L319.5,716.4 L334.1,705.7 L350.2,695.5 M263.7,760.4 L281.5,750.6 L298.3,738.3 L317.1,724.5 L319.5,722.7 L334.1,711.9 L350.2,701.6" fill="none" stroke="#2c2c2c" stroke-width="0.5"/>
<path d="M275.1,698.1 V756.2 M294.1,687.1 V743.4 M313.1,675.7 V729.4 M332.1,663.8 V715.2" fill="none" stroke="#1e1e1e" stroke-width="0.8"/>
<polyline points="263.7,704.8 281.5,694.4 298.3,684.6 317.1,673.3 319.5,671.9 334.1,662.5 350.2,652.2" fill="none" stroke="#3e3e3e" stroke-width="1.8"/>
<line x1="264.3" y1="704.8" x2="264.3" y2="773.2" stroke="#777" stroke-width="1.6"/>
<line x1="263.5" y1="704.8" x2="263.5" y2="773.2" stroke="#333" stroke-width="0.6"/>
</g>
</g>
<rect x="485.5" y="134.0" width="154.5" height="11.5" fill="#7f7f7f"/>
<rect x="706.6" y="139.8" width="12" height="93.6" fill="#7f7f7f"/>
<polygon points="695.1,232.9 730.1,232.9 712.6,267.5" fill="#7f7f7f"/>
<ellipse cx="713.0" cy="139.8" rx="99" ry="33.7" fill="#7f7f7f"/>
<text x="713.0" y="128.1" text-anchor="middle" font-family="Liberation Sans, sans-serif" font-weight="700" font-size="14" fill="#fff">STRUCTURAL &amp;</text>
<text x="713.0" y="144.7" text-anchor="middle" font-family="Liberation Sans, sans-serif" font-weight="700" font-size="14" fill="#fff">STRATIGRAPHIC</text>
<text x="713.0" y="161.3" text-anchor="middle" font-family="Liberation Sans, sans-serif" font-weight="700" font-size="14" fill="#fff">MODELING</text>
<rect x="290.0" y="365.0" width="149.3" height="11.6" fill="#7f7f7f"/>
<rect x="206.7" y="370.9" width="12" height="93.0" fill="#7f7f7f"/>
<polygon points="195.2,463.4 230.2,463.4 212.7,498.4" fill="#7f7f7f"/>
<ellipse cx="211.6" cy="370.9" rx="99" ry="33.7" fill="#7f7f7f"/>
<text x="211.6" y="367.5" text-anchor="middle" font-family="Liberation Sans, sans-serif" font-weight="700" font-size="14" fill="#fff">3D GRID</text>
<text x="211.6" y="384.1" text-anchor="middle" font-family="Liberation Sans, sans-serif" font-weight="700" font-size="14" fill="#fff">BUILDING</text>
<rect x="485.6" y="607.1" width="154.4" height="11.6" fill="#7f7f7f"/>
<rect x="706.4" y="614.9" width="12" height="90.9" fill="#7f7f7f"/>
<polygon points="694.9,705.3 729.9,705.3 712.4,740.6" fill="#7f7f7f"/>
<ellipse cx="712.4" cy="614.9" rx="99" ry="33.7" fill="#7f7f7f"/>
<text x="712.4" y="611.5" text-anchor="middle" font-family="Liberation Sans, sans-serif" font-weight="700" font-size="14" fill="#fff">FACIES</text>
<text x="712.4" y="628.1" text-anchor="middle" font-family="Liberation Sans, sans-serif" font-weight="700" font-size="14" fill="#fff">MODELING</text>
<rect x="290.0" y="854.1" width="149.3" height="11.6" fill="#7f7f7f"/>
<rect x="206.7" y="864.9" width="12" height="88.0" fill="#7f7f7f"/>
<polygon points="195.2,952.4 230.2,952.4 212.7,987.6" fill="#7f7f7f"/>
<ellipse cx="211.8" cy="864.9" rx="99" ry="33.7" fill="#7f7f7f"/>
<text x="211.8" y="861.5" text-anchor="middle" font-family="Liberation Sans, sans-serif" font-weight="700" font-size="14" fill="#fff">PETROPHYSICAL</text>
<text x="211.8" y="878.1" text-anchor="middle" font-family="Liberation Sans, sans-serif" font-weight="700" font-size="14" fill="#fff">MODELING</text>
<rect x="826.9" y="990.8" width="51.6" height="20.2" rx="3.2" fill="#606060" stroke="#000" stroke-width="1.5"/>
<text x="852.6" y="1005" text-anchor="middle" font-weight="700" font-size="12.2" textLength="31.6" lengthAdjust="spacingAndGlyphs" fill="#fff">Shale</text>
<rect x="826.9" y="1015" width="51.6" height="20.2" rx="3.2" fill="#ececec" stroke="#000" stroke-width="1.5"/>
<text x="852.6" y="1029.2" text-anchor="middle" font-weight="700" font-size="12.2" textLength="28.4" lengthAdjust="spacingAndGlyphs" fill="#000">Sand</text>
<rect x="36" y="1207" width="163" height="50" fill="#fff"/>
<path d="M36.5,1207.3 H198.9 V1254" fill="none" stroke="#c8c8c8" stroke-width="0.8"/>
<defs><linearGradient id="por" x1="0" x2="1" y1="0" y2="0"><stop offset="0" stop-color="#000"/><stop offset="0.05" stop-color="#0c0c0c"/><stop offset="0.14" stop-color="#555"/><stop offset="0.28" stop-color="#bcbcbc"/><stop offset="0.42" stop-color="#cdcdcd"/><stop offset="0.55" stop-color="#dcdcdc"/><stop offset="0.65" stop-color="#eaeaea"/><stop offset="0.74" stop-color="#a8a8a8"/><stop offset="0.85" stop-color="#555"/><stop offset="0.95" stop-color="#1c1c1c"/><stop offset="1" stop-color="#101010"/></linearGradient></defs>
<rect x="38.9" y="1218.3" width="156.4" height="15.1" fill="url(#por)"/>
<text x="117.2" y="1215" text-anchor="middle" font-size="8.9" fill="#3c3c3c">POROSITY (unitless)</text>
<path d="M38.9,1233.4 v4.6 M41.5,1233.4 v1.6 M44.1,1233.4 v1.6 M46.7,1233.4 v1.6 M49.3,1233.4 v1.6 M51.9,1233.4 v2.6 M54.5,1233.4 v1.6 M57.1,1233.4 v1.6 M59.8,1233.4 v1.6 M62.4,1233.4 v1.6 M65.0,1233.4 v4.6 M67.6,1233.4 v1.6 M70.2,1233.4 v1.6 M72.8,1233.4 v1.6 M75.4,1233.4 v1.6 M78.0,1233.4 v2.6 M80.6,1233.4 v1.6 M83.2,1233.4 v1.6 M85.8,1233.4 v1.6 M88.4,1233.4 v1.6 M91.0,1233.4 v4.6 M93.6,1233.4 v1.6 M96.2,1233.4 v1.6 M98.9,1233.4 v1.6 M101.5,1233.4 v1.6 M104.1,1233.4 v2.6 M106.7,1233.4 v1.6 M109.3,1233.4 v1.6 M111.9,1233.4 v1.6 M114.5,1233.4 v1.6 M117.1,1233.4 v4.6 M119.7,1233.4 v1.6 M122.3,1233.4 v1.6 M124.9,1233.4 v1.6 M127.5,1233.4 v1.6 M130.1,1233.4 v2.6 M132.7,1233.4 v1.6 M135.3,1233.4 v1.6 M138.0,1233.4 v1.6 M140.6,1233.4 v1.6 M143.2,1233.4 v4.6 M145.8,1233.4 v1.6 M148.4,1233.4 v1.6 M151.0,1233.4 v1.6 M153.6,1233.4 v1.6 M156.2,1233.4 v2.6 M158.8,1233.4 v1.6 M161.4,1233.4 v1.6 M164.0,1233.4 v1.6 M166.6,1233.4 v1.6 M169.2,1233.4 v4.6 M171.8,1233.4 v1.6 M174.4,1233.4 v1.6 M177.1,1233.4 v1.6 M179.7,1233.4 v1.6 M182.3,1233.4 v2.6 M184.9,1233.4 v1.6 M187.5,1233.4 v1.6 M190.1,1233.4 v1.6 M192.7,1233.4 v1.6 M195.3,1233.4 v4.6" stroke="#888" stroke-width="0.5" fill="none"/>
<text x="44.5" y="1249" text-anchor="middle" font-size="8.6" fill="#3c3c3c">0.1</text>
<text x="64.9" y="1249" text-anchor="middle" font-size="8.6" fill="#3c3c3c">0.15</text>
<text x="91.0" y="1249" text-anchor="middle" font-size="8.6" fill="#3c3c3c">0.2</text>
<text x="116.6" y="1249" text-anchor="middle" font-size="8.6" fill="#3c3c3c">0.25</text>
<text x="143.3" y="1249" text-anchor="middle" font-size="8.6" fill="#3c3c3c">0.3</text>
<text x="168.8" y="1249" text-anchor="middle" font-size="8.6" fill="#3c3c3c">0.35</text>
<text x="188.9" y="1249" text-anchor="middle" font-size="8.6" fill="#3c3c3c">0.4</text>
</g>
</svg>
</body></html>
